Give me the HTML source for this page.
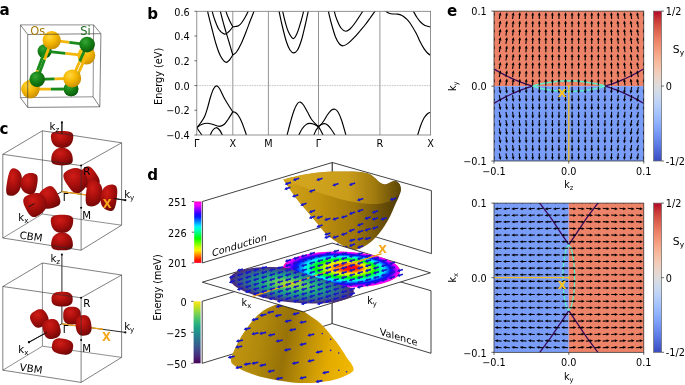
<!DOCTYPE html>
<html><head><meta charset="utf-8"><title>Figure</title>
<style>html,body{margin:0;padding:0;background:#fff;overflow:hidden}svg{display:block}</style>
</head><body>
<svg width="685" height="385" viewBox="0 0 685 385" font-family='"DejaVu Sans","Liberation Sans",sans-serif'>
<defs><radialGradient id="gOs" cx="0.38" cy="0.32" r="0.75"><stop offset="0" stop-color="#ffd640"/><stop offset="0.45" stop-color="#f6b905"/><stop offset="1" stop-color="#c48a00"/></radialGradient>
<radialGradient id="gSi" cx="0.38" cy="0.32" r="0.75"><stop offset="0" stop-color="#38a538"/><stop offset="0.45" stop-color="#168316"/><stop offset="1" stop-color="#095609"/></radialGradient>
<clipPath id="cb"><rect x="196.80" y="11.30" width="233.80" height="123.70"/></clipPath>
<radialGradient id="gR" cx="0.4" cy="0.3" r="0.8"><stop offset="0" stop-color="#cf1c17"/><stop offset="0.4" stop-color="#ae100d"/><stop offset="0.8" stop-color="#800908"/><stop offset="1" stop-color="#580605"/></radialGradient>
<linearGradient id="gr1" x1="0" y1="1" x2="0" y2="0"><stop offset="0.000" stop-color="#ff0029"/><stop offset="0.050" stop-color="#ff1800"/><stop offset="0.100" stop-color="#ff5e00"/><stop offset="0.150" stop-color="#ffa400"/><stop offset="0.200" stop-color="#ffea00"/><stop offset="0.250" stop-color="#cdff00"/><stop offset="0.300" stop-color="#8dff00"/><stop offset="0.350" stop-color="#46ff00"/><stop offset="0.400" stop-color="#00ff00"/><stop offset="0.450" stop-color="#00ff46"/><stop offset="0.500" stop-color="#00ff8c"/><stop offset="0.550" stop-color="#00ffcc"/><stop offset="0.600" stop-color="#00ecff"/><stop offset="0.650" stop-color="#00a5ff"/><stop offset="0.700" stop-color="#005eff"/><stop offset="0.750" stop-color="#0018ff"/><stop offset="0.800" stop-color="#2a00ff"/><stop offset="0.850" stop-color="#7000ff"/><stop offset="0.900" stop-color="#b700ff"/><stop offset="0.950" stop-color="#fe00ff"/><stop offset="1.000" stop-color="#ff00bf"/></linearGradient>
<linearGradient id="vi1" x1="0" y1="1" x2="0" y2="0"><stop offset="0.000" stop-color="#440154"/><stop offset="0.050" stop-color="#471365"/><stop offset="0.100" stop-color="#482475"/><stop offset="0.150" stop-color="#463480"/><stop offset="0.200" stop-color="#414487"/><stop offset="0.250" stop-color="#3b528b"/><stop offset="0.300" stop-color="#355f8d"/><stop offset="0.350" stop-color="#2f6c8e"/><stop offset="0.400" stop-color="#2a788e"/><stop offset="0.450" stop-color="#25848e"/><stop offset="0.500" stop-color="#21918c"/><stop offset="0.550" stop-color="#1e9c89"/><stop offset="0.600" stop-color="#22a884"/><stop offset="0.650" stop-color="#2fb47c"/><stop offset="0.700" stop-color="#44bf70"/><stop offset="0.750" stop-color="#5ec962"/><stop offset="0.800" stop-color="#7ad151"/><stop offset="0.850" stop-color="#9bd93c"/><stop offset="0.900" stop-color="#bddf26"/><stop offset="0.950" stop-color="#dfe318"/><stop offset="1.000" stop-color="#fde725"/></linearGradient>
<linearGradient id="gb1" gradientUnits="userSpaceOnUse" x1="283" y1="0" x2="401" y2="0"><stop offset="0" stop-color="#d2a218"/><stop offset="0.3" stop-color="#c0920e"/><stop offset="0.6" stop-color="#a0780a"/><stop offset="0.82" stop-color="#6e5208"/><stop offset="1" stop-color="#4a3805"/></linearGradient>
<linearGradient id="gb2" gradientUnits="userSpaceOnUse" x1="283" y1="0" x2="401" y2="0"><stop offset="0" stop-color="#d6a820"/><stop offset="0.55" stop-color="#c99c1a"/><stop offset="0.78" stop-color="#a07a0e"/><stop offset="1" stop-color="#5c4607"/></linearGradient>
<clipPath id="cbowl"><path d="M283.10,179.60 C285.07,182.45 291.67,192.30 294.90,196.70 C298.13,201.10 299.90,202.88 302.50,206.00 C305.10,209.12 307.83,212.23 310.50,215.40 C313.17,218.57 315.92,221.88 318.50,225.00 C321.08,228.12 323.42,231.55 326.00,234.10 C328.58,236.65 331.38,238.48 334.00,240.30 C336.62,242.12 339.20,243.62 341.70,245.00 C344.20,246.38 346.67,247.82 349.00,248.60 C351.33,249.38 353.12,250.10 355.70,249.70 C358.28,249.30 361.65,247.77 364.50,246.20 C367.35,244.63 370.30,242.50 372.80,240.30 C375.30,238.10 377.42,235.58 379.50,233.00 C381.58,230.42 383.47,227.72 385.30,224.80 C387.13,221.88 388.95,218.63 390.50,215.50 C392.05,212.37 393.27,209.00 394.60,206.00 C395.93,203.00 397.47,200.08 398.50,197.50 C399.53,194.92 400.58,192.67 400.80,190.50 C401.02,188.33 400.57,186.05 399.80,184.50 C399.03,182.95 397.50,181.70 396.20,181.20 C394.90,180.70 393.45,181.07 392.00,181.50 C390.55,181.93 388.88,183.33 387.50,183.80 C386.12,184.27 385.03,184.55 383.70,184.30 C382.37,184.05 380.95,183.35 379.50,182.30 C378.05,181.25 376.58,179.35 375.00,178.00 C373.42,176.65 371.92,175.13 370.00,174.20 C368.08,173.27 366.83,172.83 363.50,172.40 C360.17,171.97 355.20,171.73 350.00,171.60 C344.80,171.47 338.88,171.30 332.30,171.60 C325.72,171.90 316.55,172.62 310.50,173.40 C304.45,174.18 300.57,175.27 296.00,176.30 C291.43,177.33 285.25,179.05 283.10,179.60Z"/></clipPath>
<linearGradient id="gd1" gradientUnits="userSpaceOnUse" x1="231" y1="330" x2="354" y2="352"><stop offset="0" stop-color="#c39810"/><stop offset="0.25" stop-color="#b0880b"/><stop offset="0.45" stop-color="#977207"/><stop offset="0.6" stop-color="#b88c06"/><stop offset="0.8" stop-color="#e2aa00"/><stop offset="1" stop-color="#f0b800"/></linearGradient>
<radialGradient id="rgr" gradientUnits="userSpaceOnUse" cx="0" cy="0" r="1" fx="0.15" fy="-0.15"><stop offset="0.000" stop-color="#ff0029"/><stop offset="0.136" stop-color="#ff1800"/><stop offset="0.201" stop-color="#ff5e00"/><stop offset="0.258" stop-color="#ffa400"/><stop offset="0.312" stop-color="#ffea00"/><stop offset="0.363" stop-color="#cdff00"/><stop offset="0.413" stop-color="#8dff00"/><stop offset="0.460" stop-color="#46ff00"/><stop offset="0.506" stop-color="#00ff00"/><stop offset="0.552" stop-color="#00ff46"/><stop offset="0.596" stop-color="#00ff8c"/><stop offset="0.639" stop-color="#00ffcc"/><stop offset="0.681" stop-color="#00ecff"/><stop offset="0.723" stop-color="#00a5ff"/><stop offset="0.764" stop-color="#005eff"/><stop offset="0.805" stop-color="#0018ff"/><stop offset="0.845" stop-color="#2a00ff"/><stop offset="0.884" stop-color="#7000ff"/><stop offset="0.923" stop-color="#b700ff"/><stop offset="0.962" stop-color="#fe00ff"/><stop offset="1.000" stop-color="#ff00bf"/></radialGradient>
<radialGradient id="rvi" gradientUnits="userSpaceOnUse" cx="0" cy="0" r="1" fx="-0.04" fy="-0.08"><stop offset="0.000" stop-color="#bddf26"/><stop offset="0.158" stop-color="#86d549"/><stop offset="0.276" stop-color="#58c765"/><stop offset="0.382" stop-color="#32b67a"/><stop offset="0.480" stop-color="#20a386"/><stop offset="0.574" stop-color="#21918c"/><stop offset="0.665" stop-color="#287d8e"/><stop offset="0.752" stop-color="#306a8e"/><stop offset="0.837" stop-color="#3a548c"/><stop offset="0.919" stop-color="#433e85"/><stop offset="1.000" stop-color="#482475"/></radialGradient>
<clipPath id="cvir"><path d="M220,246.7 L380,297.3 L380,320 L220,320 Z"/></clipPath>
<linearGradient id="cw" x1="0" y1="1" x2="0" y2="0"><stop offset="0.000" stop-color="#3b4cc0"/><stop offset="0.050" stop-color="#4961d2"/><stop offset="0.100" stop-color="#5977e3"/><stop offset="0.150" stop-color="#6a8bef"/><stop offset="0.200" stop-color="#7b9ff9"/><stop offset="0.250" stop-color="#8db0fe"/><stop offset="0.300" stop-color="#9ebeff"/><stop offset="0.350" stop-color="#afcafc"/><stop offset="0.400" stop-color="#c0d4f5"/><stop offset="0.450" stop-color="#cfdaea"/><stop offset="0.500" stop-color="#dddcdc"/><stop offset="0.550" stop-color="#e9d5cb"/><stop offset="0.600" stop-color="#f2cbb7"/><stop offset="0.650" stop-color="#f6bda2"/><stop offset="0.700" stop-color="#f7ac8e"/><stop offset="0.750" stop-color="#f4987a"/><stop offset="0.800" stop-color="#ee8468"/><stop offset="0.850" stop-color="#e36c55"/><stop offset="0.900" stop-color="#d65244"/><stop offset="0.950" stop-color="#c53334"/><stop offset="1.000" stop-color="#b40426"/></linearGradient>
<clipPath id="ce1"><rect x="494.00" y="11.1" width="149.80" height="149.9"/></clipPath>
<clipPath id="ce2"><rect x="494.00" y="203.1" width="149.80" height="149.2"/></clipPath></defs>
<rect width="685" height="385" fill="#fff"/>
<text x="-0.60" y="15.40" font-size="15.10" text-anchor="start" font-weight="bold" fill="#000" >a</text>
<text x="147.20" y="18.90" font-size="15.10" text-anchor="start" font-weight="bold" fill="#000" >b</text>
<text x="-0.40" y="134.10" font-size="15.10" text-anchor="start" font-weight="bold" fill="#000" >c</text>
<text x="147.20" y="180.00" font-size="15.10" text-anchor="start" font-weight="bold" fill="#000" >d</text>
<text x="447.10" y="15.80" font-size="15.10" text-anchor="start" font-weight="bold" fill="#000" >e</text>
<path d="M20.40,24.90 L93.60,24.90 M93.60,24.90 L93.10,96.80 M93.10,96.80 L20.40,97.60 M20.40,97.60 L20.40,24.90" stroke="#444" stroke-width="0.6" fill="none"/>
<circle cx="44.60" cy="51.20" r="7.00" fill="url(#gSi)"/><circle cx="86.40" cy="55.60" r="8.90" fill="url(#gOs)"/><circle cx="71.10" cy="89.00" r="7.30" fill="url(#gSi)"/><circle cx="30.50" cy="89.10" r="9.10" fill="url(#gOs)"/><path d="M44.60,51.20 L65.50,53.40" stroke="#1a8a1a" stroke-width="2.8"/><path d="M65.50,53.40 L86.40,55.60" stroke="#f2b70a" stroke-width="2.8"/><path d="M44.60,51.20 L37.55,70.15" stroke="#1a8a1a" stroke-width="2.8"/><path d="M37.55,70.15 L30.50,89.10" stroke="#f2b70a" stroke-width="2.8"/><path d="M86.40,55.60 L78.75,72.30" stroke="#f2b70a" stroke-width="2.8"/><path d="M78.75,72.30 L71.10,89.00" stroke="#1a8a1a" stroke-width="2.8"/><path d="M30.50,89.10 L50.80,89.05" stroke="#f2b70a" stroke-width="2.8"/><path d="M50.80,89.05 L71.10,89.00" stroke="#1a8a1a" stroke-width="2.8"/><circle cx="30.50" cy="89.10" r="9.10" fill="url(#gOs)"/><circle cx="71.10" cy="89.00" r="7.30" fill="url(#gSi)"/><path d="M51.70,40.20 L69.40,42.40" stroke="#f2b70a" stroke-width="2.8"/><path d="M69.40,42.40 L87.10,44.60" stroke="#1a8a1a" stroke-width="2.8"/><path d="M51.70,40.20 L44.45,59.75" stroke="#f2b70a" stroke-width="2.8"/><path d="M44.45,59.75 L37.20,79.30" stroke="#1a8a1a" stroke-width="2.8"/><path d="M87.10,44.60 L79.65,61.50" stroke="#1a8a1a" stroke-width="2.8"/><path d="M79.65,61.50 L72.20,78.40" stroke="#f2b70a" stroke-width="2.8"/><path d="M37.20,79.30 L54.70,78.85" stroke="#1a8a1a" stroke-width="2.8"/><path d="M54.70,78.85 L72.20,78.40" stroke="#f2b70a" stroke-width="2.8"/><circle cx="51.70" cy="40.20" r="9.10" fill="url(#gOs)"/><circle cx="87.10" cy="44.60" r="7.80" fill="url(#gSi)"/><circle cx="37.20" cy="79.30" r="7.80" fill="url(#gSi)"/><circle cx="72.20" cy="78.40" r="9.00" fill="url(#gOs)"/>
<path d="M27.70,34.50 L100.90,33.70 M100.90,33.70 L99.80,106.80 M99.80,106.80 L27.70,107.40 M27.70,107.40 L27.70,34.50 M20.40,24.90 L27.70,34.50 M93.60,24.90 L100.90,33.70 M93.10,96.80 L99.80,106.80 M20.40,97.60 L27.70,107.40" stroke="#2c2c2c" stroke-width="0.6" fill="none"/>
<text x="30.20" y="34.90" font-size="11.40" text-anchor="start" font-weight="normal" fill="#a67c0a" >Os</text>
<text x="80.20" y="34.50" font-size="11.40" text-anchor="start" font-weight="normal" fill="#1e6b1e" >Si</text>
<path d="M232.80,11.30 V135.00 M268.40,11.30 V135.00 M318.50,11.30 V135.00 M379.90,11.30 V135.00" stroke="#707070" stroke-width="0.75" fill="none"/>
<path d="M196.80,85.60 H430.60" stroke="#b5b5b5" stroke-width="0.8" stroke-dasharray="1.6 0.9" fill="none"/>
<g clip-path="url(#cb)" fill="none" stroke="#000" stroke-width="1.15" stroke-linejoin="round"><path d="M205.60,0.00 C205.93,1.88 206.62,6.80 207.60,11.30 C208.58,15.80 210.10,21.55 211.50,27.00 C212.90,32.45 214.50,39.17 216.00,44.00 C217.50,48.83 218.87,52.95 220.50,56.00 C222.13,59.05 224.30,61.63 225.80,62.30 C227.30,62.97 228.33,61.22 229.50,60.00 C230.67,58.78 232.25,55.83 232.80,55.00"/><path d="M210.50,0.00 C210.78,1.88 211.42,7.80 212.20,11.30 C212.98,14.80 214.07,17.97 215.20,21.00 C216.33,24.03 217.45,27.32 219.00,29.50 C220.55,31.68 222.83,33.77 224.50,34.10 C226.17,34.43 227.62,32.72 229.00,31.50 C230.38,30.28 232.17,27.58 232.80,26.80"/><path d="M218.40,0.00 C218.73,1.88 219.38,6.80 220.40,11.30 C221.42,15.80 223.12,22.05 224.50,27.00 C225.88,31.95 227.32,36.33 228.70,41.00 C230.08,45.67 232.12,52.67 232.80,55.00"/><path d="M224.00,0.00 C224.33,1.88 225.12,7.97 226.00,11.30 C226.88,14.63 228.17,17.42 229.30,20.00 C230.43,22.58 232.22,25.67 232.80,26.80"/><path d="M232.80,55.00 C233.42,54.50 235.13,53.83 236.50,52.00 C237.87,50.17 239.42,47.33 241.00,44.00 C242.58,40.67 244.42,36.00 246.00,32.00 C247.58,28.00 249.17,23.45 250.50,20.00 C251.83,16.55 252.92,14.30 254.00,11.30 C255.08,8.30 256.50,3.55 257.00,2.00"/><path d="M232.80,26.80 C233.25,26.75 234.55,26.67 235.50,26.50 C236.45,26.33 237.50,26.38 238.50,25.80 C239.50,25.22 240.42,24.38 241.50,23.00 C242.58,21.62 243.88,19.45 245.00,17.50 C246.12,15.55 247.03,13.88 248.20,11.30 C249.37,8.72 251.37,3.55 252.00,2.00"/><path d="M277.50,2.00 C277.77,3.55 278.27,7.13 279.10,11.30 C279.93,15.47 281.27,21.88 282.50,27.00 C283.73,32.12 285.25,38.17 286.50,42.00 C287.75,45.83 288.82,48.20 290.00,50.00 C291.18,51.80 292.35,52.80 293.60,52.80 C294.85,52.80 296.18,52.13 297.50,50.00 C298.82,47.87 300.25,44.00 301.50,40.00 C302.75,36.00 303.88,30.78 305.00,26.00 C306.12,21.22 307.37,15.30 308.20,11.30 C309.03,7.30 309.70,3.55 310.00,2.00"/><path d="M281.00,2.00 C281.28,3.55 281.95,7.80 282.70,11.30 C283.45,14.80 284.53,19.55 285.50,23.00 C286.47,26.45 287.23,29.40 288.50,32.00 C289.77,34.60 291.68,38.35 293.10,38.60 C294.52,38.85 295.77,36.10 297.00,33.50 C298.23,30.90 299.40,26.70 300.50,23.00 C301.60,19.30 302.77,14.63 303.60,11.30 C304.43,7.97 305.18,4.38 305.50,3.00"/><path d="M326.50,2.00 C326.82,3.55 327.57,7.63 328.40,11.30 C329.23,14.97 330.32,19.72 331.50,24.00 C332.68,28.28 334.17,33.67 335.50,37.00 C336.83,40.33 338.22,42.53 339.50,44.00 C340.78,45.47 341.78,45.90 343.20,45.80 C344.62,45.70 346.18,44.75 348.00,43.40 C349.82,42.05 352.10,39.77 354.10,37.70 C356.10,35.63 358.12,33.20 360.00,31.00 C361.88,28.80 363.65,26.75 365.40,24.50 C367.15,22.25 368.92,19.70 370.50,17.50 C372.08,15.30 373.65,13.05 374.90,11.30 C376.15,9.55 377.48,7.72 378.00,7.00"/><path d="M332.80,2.00 C333.05,3.55 333.60,8.30 334.30,11.30 C335.00,14.30 335.88,17.22 337.00,20.00 C338.12,22.78 339.55,26.13 341.00,28.00 C342.45,29.87 344.20,31.03 345.70,31.20 C347.20,31.37 348.45,30.37 350.00,29.00 C351.55,27.63 352.87,25.95 355.00,23.00 C357.13,20.05 360.97,14.13 362.80,11.30 C364.63,8.47 365.47,6.88 366.00,6.00"/><path d="M383.00,8.50 C383.48,8.97 384.90,10.52 385.90,11.30 C386.90,12.08 387.82,12.75 389.00,13.20 C390.18,13.65 391.58,13.85 393.00,14.00 C394.42,14.15 396.00,13.85 397.50,14.10 C399.00,14.35 400.58,14.77 402.00,15.50 C403.42,16.23 404.67,17.25 406.00,18.50 C407.33,19.75 408.28,20.50 410.00,23.00 C411.72,25.50 414.63,30.42 416.30,33.50 C417.97,36.58 418.72,38.98 420.00,41.50 C421.28,44.02 422.75,46.68 424.00,48.60 C425.25,50.52 426.40,51.88 427.50,53.00 C428.60,54.12 430.08,54.92 430.60,55.30"/><path d="M410.00,5.00 C410.57,6.05 412.23,9.22 413.40,11.30 C414.57,13.38 415.73,15.63 417.00,17.50 C418.27,19.37 419.67,21.17 421.00,22.50 C422.33,23.83 423.40,24.75 425.00,25.50 C426.60,26.25 429.67,26.75 430.60,27.00"/><path d="M196.80,127.70 C197.42,126.92 199.22,124.82 200.50,123.00 C201.78,121.18 203.33,119.30 204.50,116.80 C205.67,114.30 206.50,111.30 207.50,108.00 C208.50,104.70 209.50,100.17 210.50,97.00 C211.50,93.83 212.52,90.85 213.50,89.00 C214.48,87.15 215.40,85.98 216.40,85.90 C217.40,85.82 218.15,86.38 219.50,88.50 C220.85,90.62 222.92,95.68 224.50,98.60 C226.08,101.52 227.62,103.78 229.00,106.00 C230.38,108.22 232.17,110.92 232.80,111.90"/><path d="M196.80,127.70 C197.58,127.17 199.75,125.25 201.50,124.50 C203.25,123.75 205.38,123.20 207.30,123.20 C209.22,123.20 211.03,123.98 213.00,124.50 C214.97,125.02 217.27,126.30 219.10,126.30 C220.93,126.30 222.52,125.63 224.00,124.50 C225.48,123.37 226.53,121.60 228.00,119.50 C229.47,117.40 232.00,113.17 232.80,111.90"/><path d="M196.80,127.70 C197.17,128.25 198.17,129.78 199.00,131.00 C199.83,132.22 201.13,133.83 201.80,135.00 C202.47,136.17 202.80,137.50 203.00,138.00"/><path d="M209.30,137.00 C209.47,136.67 209.77,136.08 210.30,135.00 C210.83,133.92 211.55,131.72 212.50,130.50 C213.45,129.28 214.83,127.78 216.00,127.70 C217.17,127.62 218.43,128.78 219.50,130.00 C220.57,131.22 221.78,133.83 222.40,135.00 C223.02,136.17 223.07,136.67 223.20,137.00"/><path d="M232.80,111.90 C233.17,111.97 234.13,111.78 235.00,112.30 C235.87,112.82 236.92,113.47 238.00,115.00 C239.08,116.53 240.42,119.08 241.50,121.50 C242.58,123.92 243.68,127.25 244.50,129.50 C245.32,131.75 245.90,133.42 246.40,135.00 C246.90,136.58 247.32,138.33 247.50,139.00"/><path d="M286.30,138.00 C286.43,137.50 286.40,137.67 287.10,135.00 C287.80,132.33 289.35,126.08 290.50,122.00 C291.65,117.92 292.83,113.58 294.00,110.50 C295.17,107.42 296.47,104.90 297.50,103.50 C298.53,102.10 299.20,101.85 300.20,102.10 C301.20,102.35 302.28,103.35 303.50,105.00 C304.72,106.65 306.08,109.50 307.50,112.00 C308.92,114.50 310.17,117.53 312.00,120.00 C313.83,122.47 317.42,125.67 318.50,126.80"/><path d="M297.80,138.00 C297.98,137.50 298.20,136.50 298.90,135.00 C299.60,133.50 300.82,130.73 302.00,129.00 C303.18,127.27 304.68,125.53 306.00,124.60 C307.32,123.67 308.57,123.45 309.90,123.40 C311.23,123.35 312.57,123.73 314.00,124.30 C315.43,124.87 317.75,126.38 318.50,126.80"/><path d="M312.80,138.00 C312.98,137.50 313.37,136.28 313.90,135.00 C314.43,133.72 315.23,131.67 316.00,130.30 C316.77,128.93 318.08,127.38 318.50,126.80"/><path d="M318.50,126.80 C319.25,126.00 321.58,123.88 323.00,122.00 C324.42,120.12 325.67,117.42 327.00,115.50 C328.33,113.58 329.68,111.55 331.00,110.50 C332.32,109.45 333.73,108.95 334.90,109.20 C336.07,109.45 336.90,110.20 338.00,112.00 C339.10,113.80 340.18,116.17 341.50,120.00 C342.82,123.83 345.02,131.83 345.90,135.00 C346.78,138.17 346.65,138.33 346.80,139.00"/><path d="M318.50,126.80 C319.00,126.42 320.52,125.03 321.50,124.50 C322.48,123.97 323.40,123.52 324.40,123.60 C325.40,123.68 326.40,124.10 327.50,125.00 C328.60,125.90 329.77,127.33 331.00,129.00 C332.23,130.67 333.98,133.50 334.90,135.00 C335.82,136.50 336.23,137.50 336.50,138.00"/><path d="M318.50,126.80 C318.83,127.33 319.75,128.63 320.50,130.00 C321.25,131.37 322.38,133.67 323.00,135.00 C323.62,136.33 324.00,137.50 324.20,138.00"/><path d="M416.80,138.00 C416.95,137.50 417.08,137.00 417.70,135.00 C418.32,133.00 419.45,128.83 420.50,126.00 C421.55,123.17 422.83,120.05 424.00,118.00 C425.17,115.95 426.40,114.65 427.50,113.70 C428.60,112.75 430.08,112.53 430.60,112.30"/></g>
<rect x="196.80" y="11.30" width="233.80" height="123.70" fill="none" stroke="#777" stroke-width="0.8"/>
<text x="189.70" y="15.50" font-size="9.70" text-anchor="end" font-weight="normal" fill="#000" >0.6</text>
<text x="189.70" y="40.24" font-size="9.70" text-anchor="end" font-weight="normal" fill="#000" >0.4</text>
<text x="189.70" y="64.98" font-size="9.70" text-anchor="end" font-weight="normal" fill="#000" >0.2</text>
<text x="189.70" y="89.72" font-size="9.70" text-anchor="end" font-weight="normal" fill="#000" >0.0</text>
<text x="189.70" y="114.46" font-size="9.70" text-anchor="end" font-weight="normal" fill="#000" >−0.2</text>
<text x="189.70" y="139.20" font-size="9.70" text-anchor="end" font-weight="normal" fill="#000" >−0.4</text>
<path d="M196.80,11.30 h-2.4 M196.80,36.04 h-2.4 M196.80,60.78 h-2.4 M196.80,85.52 h-2.4 M196.80,110.26 h-2.4 M196.80,135.00 h-2.4" stroke="#333" stroke-width="0.7" fill="none"/>
<text x="196.80" y="147.00" font-size="9.70" text-anchor="middle" font-weight="normal" fill="#000" >Γ</text>
<text x="232.80" y="147.00" font-size="9.70" text-anchor="middle" font-weight="normal" fill="#000" >X</text>
<text x="268.40" y="147.00" font-size="9.70" text-anchor="middle" font-weight="normal" fill="#000" >M</text>
<text x="318.50" y="147.00" font-size="9.70" text-anchor="middle" font-weight="normal" fill="#000" >Γ</text>
<text x="379.90" y="147.00" font-size="9.70" text-anchor="middle" font-weight="normal" fill="#000" >R</text>
<text x="430.60" y="147.00" font-size="9.70" text-anchor="middle" font-weight="normal" fill="#000" >X</text>
<text x="161.60" y="76.35" font-size="9.70" text-anchor="middle" font-weight="normal" fill="#000" transform="rotate(-90 161.6 76.4)">Energy (eV)</text>
<path d="M42.40,130.80 L42.40,214.00 M42.40,214.00 L2.80,238.00 M42.40,214.00 L121.60,225.20" stroke="#444" stroke-width="0.6" fill="none"/><path d="M61.90,191.60 L61.90,122.40 M61.90,191.60 L125.30,200.20 M61.90,191.60 L29.00,210.00" stroke="#111" stroke-width="0.9" fill="none"/><circle cx="61.9" cy="122.40" r="1.1" fill="#111"/><circle cx="125.3" cy="200.20" r="1.1" fill="#111"/><circle cx="29" cy="210.00" r="1.1" fill="#111"/>
<path d="M97.64,185.31 C91.97,189.13 85.47,189.80 81.04,183.23 C76.61,176.67 79.66,170.89 85.33,167.07 C89.21,164.45 92.27,167.70 95.96,173.17 C99.65,178.64 101.52,182.69 97.64,185.31Z" fill="url(#gR)"/><path d="M65.89,171.38 C72.50,166.92 80.07,166.12 85.20,173.73 C90.34,181.34 86.76,188.06 80.15,192.52 C75.62,195.57 72.07,191.81 67.80,185.47 C63.52,179.13 61.36,174.43 65.89,171.38Z" fill="url(#gR)"/><path d="M73.30,136.14 C73.30,142.52 70.16,147.90 62.10,147.90 C54.04,147.90 50.90,142.52 50.90,136.14 C50.90,131.77 55.38,131.10 62.10,131.10 C68.82,131.10 73.30,131.77 73.30,136.14Z" fill="url(#gR)"/><path d="M51.20,160.12 C51.20,153.43 54.22,147.80 62.00,147.80 C69.78,147.80 72.80,153.43 72.80,160.12 C72.80,164.70 68.48,165.40 62.00,165.40 C55.52,165.40 51.20,164.70 51.20,160.12Z" fill="url(#gR)"/><path d="M73.20,220.16 C73.20,227.08 70.06,232.90 62.00,232.90 C53.94,232.90 50.80,227.08 50.80,220.16 C50.80,215.43 55.28,214.70 62.00,214.70 C68.72,214.70 73.20,215.43 73.20,220.16Z" fill="url(#gR)"/><path d="M51.10,244.96 C51.10,238.20 54.15,232.50 62.00,232.50 C69.85,232.50 72.90,238.20 72.90,244.96 C72.90,249.59 68.54,250.30 62.00,250.30 C55.46,250.30 51.10,249.59 51.10,244.96Z" fill="url(#gR)"/><path d="M13.94,168.20 C19.40,169.17 23.33,173.81 21.59,183.67 C19.85,193.52 14.57,196.55 9.11,195.58 C5.37,194.92 5.76,189.35 7.21,181.13 C8.66,172.92 10.20,167.54 13.94,168.20Z" fill="url(#gR)"/><path d="M30.36,194.56 C24.23,193.47 19.58,189.60 20.92,181.98 C22.27,174.35 27.96,172.30 34.10,173.38 C38.30,174.12 38.20,178.47 37.08,184.82 C35.96,191.18 34.56,195.30 30.36,194.56Z" fill="url(#gR)"/>
<path d="M61.90,191.60 L108.50,197.90" stroke="#f0a21a" stroke-width="1.2"/>
<path d="M92.66,180.05 C98.84,180.81 103.60,185.13 102.44,194.60 C101.28,204.07 95.62,207.11 89.43,206.35 C85.20,205.83 85.19,200.49 86.16,192.60 C87.13,184.71 88.43,179.53 92.66,180.05Z" fill="url(#gR)"/><path d="M110.31,210.90 C104.20,210.15 99.50,205.85 100.66,196.41 C101.82,186.98 107.41,183.94 113.52,184.69 C117.71,185.21 117.70,190.53 116.74,198.39 C115.77,206.25 114.49,211.41 110.31,210.90Z" fill="url(#gR)"/><path d="M57.14,206.29 C50.03,209.92 42.64,210.22 39.04,203.17 C35.45,196.11 40.04,190.32 47.15,186.69 C52.01,184.21 54.76,187.75 57.76,193.63 C60.75,199.51 62.00,203.82 57.14,206.29Z" fill="url(#gR)"/><path d="M26.66,195.75 C34.11,191.96 41.84,191.63 45.60,199.01 C49.36,206.38 44.55,212.45 37.10,216.24 C32.00,218.84 29.13,215.14 26.00,208.99 C22.87,202.85 21.56,198.35 26.66,195.75Z" fill="url(#gR)"/>
<path d="M34.5,203.6 L28.6,206.8 M61.9,122.4 V134.2 M113.7,198.4 L125.3,200.2" stroke="#111" stroke-width="0.9"/>
<path d="M42.40,130.80 L121.60,142.80 M121.60,142.80 L81.10,165.60 M81.10,165.60 L2.80,154.30 M2.80,154.30 L42.40,130.80 M2.80,154.30 L2.80,238.00 M81.10,165.60 L81.10,250.20 M121.60,142.80 L121.60,225.20 M2.80,238.00 L81.10,250.20 M81.10,250.20 L121.60,225.20" stroke="#2c2c2c" stroke-width="0.6" fill="none"/>
<circle cx="81.1" cy="165.6" r="1" fill="#000"/><circle cx="81.1" cy="207.8" r="1" fill="#000"/>
<text x="49.60" y="129.60" font-size="10.20" text-anchor="start" font-weight="normal" fill="#000" >k<tspan dy="2.0" font-size="70%">z</tspan></text>
<text x="124.20" y="198.00" font-size="10.20" text-anchor="start" font-weight="normal" fill="#000" >k<tspan dy="2.0" font-size="70%">y</tspan></text>
<text x="18.30" y="220.60" font-size="10.20" text-anchor="start" font-weight="normal" fill="#000" >k<tspan dy="2.0" font-size="70%">x</tspan></text>
<text x="83.20" y="175.00" font-size="10.20" text-anchor="start" font-weight="normal" fill="#000" >R</text>
<text x="82.20" y="219.40" font-size="10.20" text-anchor="start" font-weight="normal" fill="#000" >M</text>
<text x="62.80" y="200.60" font-size="10.20" text-anchor="start" font-weight="normal" fill="#000" >Γ</text>
<text x="107.20" y="207.80" font-size="11.50" text-anchor="middle" font-weight="bold" fill="#f5a81c" >X</text>
<text x="30.60" y="240.00" font-size="10.20" text-anchor="middle" font-weight="normal" fill="#000" transform="rotate(8 30.6 240)">CBM</text>
<path d="M42.40,263.00 L42.40,346.20 M42.40,346.20 L2.80,370.20 M42.40,346.20 L121.60,357.40" stroke="#444" stroke-width="0.6" fill="none"/><path d="M61.90,323.80 L61.90,254.60 M61.90,323.80 L125.30,332.40 M61.90,323.80 L29.00,342.20" stroke="#111" stroke-width="0.9" fill="none"/><circle cx="61.9" cy="254.60" r="1.1" fill="#111"/><circle cx="125.3" cy="332.40" r="1.1" fill="#111"/><circle cx="29" cy="342.20" r="1.1" fill="#111"/>
<polygon points="72.70,299.10 72.63,300.74 72.43,301.82 72.10,302.73 71.63,303.53 71.03,304.22 70.30,304.82 69.44,305.33 68.44,305.75 67.30,306.08 65.99,306.31 64.45,306.45 62.10,306.50 59.75,306.45 58.21,306.31 56.90,306.08 55.76,305.75 54.76,305.33 53.90,304.82 53.17,304.22 52.57,303.53 52.10,302.73 51.77,301.82 51.57,300.74 51.50,299.10 51.57,297.46 51.77,296.38 52.10,295.47 52.57,294.67 53.17,293.98 53.90,293.38 54.76,292.87 55.76,292.45 56.90,292.12 58.21,291.89 59.75,291.75 62.10,291.70 64.45,291.75 65.99,291.89 67.30,292.12 68.44,292.45 69.44,292.87 70.30,293.38 71.03,293.98 71.63,294.67 72.10,295.47 72.43,296.38 72.63,297.46" fill="url(#gR)"/><polygon points="80.80,315.60 80.74,317.55 80.58,318.83 80.30,319.92 79.91,320.87 79.41,321.69 78.81,322.41 78.09,323.01 77.27,323.51 76.32,323.90 75.23,324.18 73.95,324.34 72.00,324.40 70.05,324.34 68.77,324.18 67.68,323.90 66.73,323.51 65.91,323.01 65.19,322.41 64.59,321.69 64.09,320.87 63.70,319.92 63.42,318.83 63.26,317.55 63.20,315.60 63.26,313.65 63.42,312.37 63.70,311.28 64.09,310.33 64.59,309.51 65.19,308.79 65.91,308.19 66.73,307.69 67.68,307.30 68.77,307.02 70.05,306.86 72.00,306.80 73.95,306.86 75.23,307.02 76.32,307.30 77.27,307.69 78.09,308.19 78.81,308.79 79.41,309.51 79.91,310.33 80.30,311.28 80.58,312.37 80.74,313.65" fill="url(#gR)"/><polygon points="46.75,314.10 47.65,315.78 48.14,316.95 48.43,318.00 48.57,318.99 48.55,319.93 48.39,320.84 48.08,321.70 47.62,322.52 47.01,323.31 46.23,324.08 45.22,324.85 43.60,325.85 41.92,326.75 40.75,327.24 39.70,327.53 38.71,327.67 37.77,327.65 36.86,327.49 36.00,327.18 35.18,326.72 34.39,326.11 33.62,325.33 32.85,324.32 31.85,322.70 30.95,321.02 30.46,319.85 30.17,318.80 30.03,317.81 30.05,316.87 30.21,315.96 30.52,315.10 30.98,314.28 31.59,313.49 32.37,312.72 33.38,311.95 35.00,310.95 36.68,310.05 37.85,309.56 38.90,309.27 39.89,309.13 40.83,309.15 41.74,309.31 42.60,309.62 43.42,310.08 44.21,310.69 44.98,311.47 45.75,312.48" fill="url(#gR)"/><polygon points="72.94,348.34 72.57,350.03 72.18,351.12 71.68,352.01 71.07,352.75 70.36,353.37 69.53,353.87 68.59,354.25 67.53,354.51 66.35,354.65 65.02,354.66 63.46,354.54 61.15,354.18 58.84,353.73 57.34,353.31 56.10,352.84 55.04,352.30 54.13,351.70 53.38,351.02 52.77,350.27 52.31,349.44 51.99,348.54 51.83,347.53 51.83,346.37 52.06,344.66 52.43,342.97 52.82,341.88 53.32,340.99 53.93,340.25 54.64,339.63 55.47,339.13 56.41,338.75 57.47,338.49 58.65,338.35 59.98,338.34 61.54,338.46 63.85,338.82 66.16,339.27 67.66,339.69 68.90,340.16 69.96,340.70 70.87,341.30 71.62,341.98 72.23,342.73 72.69,343.56 73.01,344.46 73.17,345.47 73.17,346.63" fill="url(#gR)"/>
<path d="M61.90,323.80 L101.80,329.20" stroke="#f0a21a" stroke-width="1.2"/><circle cx="101.8" cy="329.2" r="1.1" fill="#f0a21a"/>
<polygon points="91.22,324.31 91.49,326.56 91.55,328.05 91.48,329.33 91.29,330.47 90.99,331.48 90.57,332.37 90.04,333.16 89.40,333.83 88.63,334.39 87.72,334.85 86.62,335.20 84.92,335.50 83.20,335.68 82.05,335.64 81.05,335.46 80.15,335.13 79.35,334.66 78.62,334.05 77.98,333.31 77.41,332.42 76.91,331.38 76.49,330.17 76.14,328.71 75.78,326.49 75.51,324.24 75.45,322.75 75.52,321.47 75.71,320.33 76.01,319.32 76.43,318.43 76.96,317.64 77.60,316.97 78.37,316.41 79.28,315.95 80.38,315.60 82.08,315.30 83.80,315.12 84.95,315.16 85.95,315.34 86.85,315.67 87.65,316.14 88.38,316.75 89.02,317.49 89.59,318.38 90.09,319.42 90.51,320.63 90.86,322.09" fill="url(#gR)"/><polygon points="59.91,326.77 60.42,328.88 60.63,330.31 60.68,331.55 60.59,332.66 60.35,333.68 59.99,334.60 59.49,335.43 58.85,336.18 58.07,336.83 57.12,337.41 55.96,337.91 54.14,338.47 52.28,338.90 51.02,339.04 49.91,339.02 48.91,338.84 47.99,338.52 47.14,338.04 46.36,337.43 45.65,336.67 45.01,335.75 44.44,334.65 43.91,333.31 43.29,331.23 42.78,329.12 42.57,327.69 42.52,326.45 42.61,325.34 42.85,324.32 43.21,323.40 43.71,322.57 44.35,321.82 45.13,321.17 46.08,320.59 47.24,320.09 49.06,319.53 50.92,319.10 52.18,318.96 53.29,318.98 54.29,319.16 55.21,319.48 56.06,319.96 56.84,320.57 57.55,321.33 58.19,322.25 58.76,323.35 59.29,324.69" fill="url(#gR)"/>
<path d="M47,332.4 L29,342.2" stroke="#111" stroke-width="0.9"/><circle cx="29" cy="342.2" r="1.1" fill="#111"/>
<path d="M42.40,263.00 L121.60,275.00 M121.60,275.00 L81.10,297.80 M81.10,297.80 L2.80,286.50 M2.80,286.50 L42.40,263.00 M2.80,286.50 L2.80,370.20 M81.10,297.80 L81.10,382.40 M121.60,275.00 L121.60,357.40 M2.80,370.20 L81.10,382.40 M81.10,382.40 L121.60,357.40" stroke="#2c2c2c" stroke-width="0.6" fill="none"/>
<circle cx="81.1" cy="297.80" r="1" fill="#000"/><circle cx="81.1" cy="340.00" r="1" fill="#000"/>
<text x="50.40" y="261.80" font-size="10.20" text-anchor="start" font-weight="normal" fill="#000" >k<tspan dy="2.0" font-size="70%">z</tspan></text>
<text x="124.20" y="330.20" font-size="10.20" text-anchor="start" font-weight="normal" fill="#000" >k<tspan dy="2.0" font-size="70%">y</tspan></text>
<text x="18.30" y="352.80" font-size="10.20" text-anchor="start" font-weight="normal" fill="#000" >k<tspan dy="2.0" font-size="70%">x</tspan></text>
<text x="83.20" y="307.20" font-size="10.20" text-anchor="start" font-weight="normal" fill="#000" >R</text>
<text x="82.20" y="351.60" font-size="10.20" text-anchor="start" font-weight="normal" fill="#000" >M</text>
<text x="62.80" y="332.80" font-size="10.20" text-anchor="start" font-weight="normal" fill="#000" >Γ</text>
<text x="106.50" y="341.20" font-size="11.50" text-anchor="middle" font-weight="bold" fill="#f5a81c" >X</text>
<text x="30.60" y="372.20" font-size="10.20" text-anchor="middle" font-weight="normal" fill="#000" transform="rotate(8 30.6 372.2)">VBM</text>
<path d="M202.4,201.5 L332.3,162.5 L332.3,223.9 L202.4,262.9 Z" fill="#fff" stroke="#111" stroke-width="0.8" stroke-linejoin="round"/>
<path d="M332.3,162.5 L431.4,190.6 L431.4,253.6 L332.3,223.9 Z" fill="#fff" stroke="#111" stroke-width="0.8" stroke-linejoin="round"/>
<rect x="194.2" y="201.5" width="7.2" height="61.4" fill="url(#gr1)"/>
<path d="M194.2,201.50 h-2.4" stroke="#222" stroke-width="0.7"/>
<text x="186.60" y="205.90" font-size="9.70" text-anchor="end" font-weight="normal" fill="#000" >251</text>
<path d="M194.2,232.20 h-2.4" stroke="#222" stroke-width="0.7"/>
<text x="186.60" y="236.60" font-size="9.70" text-anchor="end" font-weight="normal" fill="#000" >226</text>
<path d="M194.2,262.90 h-2.4" stroke="#222" stroke-width="0.7"/>
<text x="186.60" y="267.30" font-size="9.70" text-anchor="end" font-weight="normal" fill="#000" >201</text>
<text font-size="9.7" text-anchor="middle" transform="translate(239.4 248.4) skewY(-16.7)">Conduction</text>
<path d="M283.10,179.60 C285.07,182.45 291.67,192.30 294.90,196.70 C298.13,201.10 299.90,202.88 302.50,206.00 C305.10,209.12 307.83,212.23 310.50,215.40 C313.17,218.57 315.92,221.88 318.50,225.00 C321.08,228.12 323.42,231.55 326.00,234.10 C328.58,236.65 331.38,238.48 334.00,240.30 C336.62,242.12 339.20,243.62 341.70,245.00 C344.20,246.38 346.67,247.82 349.00,248.60 C351.33,249.38 353.12,250.10 355.70,249.70 C358.28,249.30 361.65,247.77 364.50,246.20 C367.35,244.63 370.30,242.50 372.80,240.30 C375.30,238.10 377.42,235.58 379.50,233.00 C381.58,230.42 383.47,227.72 385.30,224.80 C387.13,221.88 388.95,218.63 390.50,215.50 C392.05,212.37 393.27,209.00 394.60,206.00 C395.93,203.00 397.47,200.08 398.50,197.50 C399.53,194.92 400.58,192.67 400.80,190.50 C401.02,188.33 400.57,186.05 399.80,184.50 C399.03,182.95 397.50,181.70 396.20,181.20 C394.90,180.70 393.45,181.07 392.00,181.50 C390.55,181.93 388.88,183.33 387.50,183.80 C386.12,184.27 385.03,184.55 383.70,184.30 C382.37,184.05 380.95,183.35 379.50,182.30 C378.05,181.25 376.58,179.35 375.00,178.00 C373.42,176.65 371.92,175.13 370.00,174.20 C368.08,173.27 366.83,172.83 363.50,172.40 C360.17,171.97 355.20,171.73 350.00,171.60 C344.80,171.47 338.88,171.30 332.30,171.60 C325.72,171.90 316.55,172.62 310.50,173.40 C304.45,174.18 300.57,175.27 296.00,176.30 C291.43,177.33 285.25,179.05 283.10,179.60Z" fill="url(#gb1)"/>
<path d="M283.10,179.60 C285.25,179.05 291.43,177.33 296.00,176.30 C300.57,175.27 304.45,174.18 310.50,173.40 C316.55,172.62 325.72,171.90 332.30,171.60 C338.88,171.30 344.80,171.47 350.00,171.60 C355.20,171.73 360.17,171.97 363.50,172.40 C366.83,172.83 368.08,173.27 370.00,174.20 C371.92,175.13 373.42,176.65 375.00,178.00 C376.58,179.35 378.05,181.25 379.50,182.30 C380.95,183.35 382.37,184.05 383.70,184.30 C385.03,184.55 386.12,184.27 387.50,183.80 C388.88,183.33 390.55,181.93 392.00,181.50 C393.45,181.07 394.90,180.70 396.20,181.20 C397.50,181.70 399.03,182.95 399.80,184.50 C400.57,186.05 401.18,188.67 400.80,190.50 C400.42,192.33 399.13,193.82 397.50,195.50 C395.87,197.18 393.58,199.28 391.00,200.60 C388.42,201.92 385.50,202.83 382.00,203.40 C378.50,203.97 374.50,204.18 370.00,204.00 C365.50,203.82 360.00,203.13 355.00,202.30 C350.00,201.47 345.00,200.28 340.00,199.00 C335.00,197.72 330.00,196.18 325.00,194.60 C320.00,193.02 314.83,191.22 310.00,189.50 C305.17,187.78 300.48,185.95 296.00,184.30 C291.52,182.65 285.25,180.38 283.10,179.60Z" fill="url(#gb2)" clip-path="url(#cbowl)"/>
<path d="M299.36,178.93 L295.76,180.17 L296.31,181.14 L292.86,180.32 L295.08,177.55 L295.24,178.66 L298.84,177.42ZM322.80,178.93 L319.21,180.17 L319.76,181.14 L316.30,180.32 L318.52,177.55 L318.69,178.66 L322.28,177.42ZM338.84,184.36 L335.25,185.60 L335.80,186.57 L332.34,185.75 L334.56,182.98 L334.73,184.09 L338.32,182.85ZM355.38,183.87 L351.79,185.10 L352.33,186.08 L348.88,185.26 L351.10,182.49 L351.27,183.59 L354.86,182.35ZM315.40,190.53 L311.81,191.77 L312.35,192.74 L308.90,191.92 L311.12,189.15 L311.29,190.26 L314.88,189.02ZM363.52,199.17 L359.93,200.41 L360.48,201.38 L357.02,200.56 L359.24,197.79 L359.41,198.89 L363.00,197.66ZM396.35,198.68 L392.75,199.91 L393.30,200.89 L389.85,200.07 L392.06,197.29 L392.23,198.40 L395.83,197.16ZM291.21,183.13 L287.62,184.36 L288.17,185.34 L284.71,184.52 L286.93,181.75 L287.10,182.85 L290.69,181.61ZM290.72,188.06 L287.13,189.30 L287.67,190.28 L284.22,189.46 L286.44,186.68 L286.61,187.79 L290.20,186.55ZM298.62,195.47 L295.02,196.70 L295.57,197.68 L292.12,196.86 L294.33,194.09 L294.50,195.19 L298.10,193.95ZM306.76,204.10 L303.17,205.34 L303.72,206.32 L300.26,205.50 L302.48,202.72 L302.65,203.83 L306.24,202.59ZM315.40,211.01 L311.81,212.25 L312.35,213.23 L308.90,212.41 L311.12,209.63 L311.29,210.74 L314.88,209.50ZM315.40,216.94 L311.81,218.17 L312.35,219.15 L308.90,218.33 L311.12,215.56 L311.29,216.66 L314.88,215.42ZM322.80,216.94 L319.21,218.17 L319.76,219.15 L316.30,218.33 L318.52,215.56 L318.69,216.66 L322.28,215.42ZM322.80,225.82 L319.21,227.06 L319.76,228.03 L316.30,227.21 L318.52,224.44 L318.69,225.55 L322.28,224.31ZM330.70,233.72 L327.11,234.96 L327.65,235.93 L324.20,235.11 L326.42,232.34 L326.59,233.44 L330.18,232.21ZM330.70,236.68 L327.11,237.92 L327.65,238.89 L324.20,238.07 L326.42,235.30 L326.59,236.41 L330.18,235.17ZM338.84,244.83 L335.25,246.06 L335.80,247.04 L332.34,246.22 L334.56,243.44 L334.73,244.55 L338.32,243.31ZM347.48,247.29 L343.89,248.53 L344.44,249.51 L340.98,248.69 L343.20,245.91 L343.37,247.02 L346.96,245.78ZM330.70,218.91 L327.11,220.15 L327.65,221.12 L324.20,220.30 L326.42,217.53 L326.59,218.64 L330.18,217.40ZM338.84,218.42 L335.25,219.66 L335.80,220.63 L332.34,219.81 L334.56,217.04 L334.73,218.14 L338.32,216.91ZM347.48,216.44 L343.89,217.68 L344.44,218.66 L340.98,217.84 L343.20,215.06 L343.37,216.17 L346.96,214.93ZM355.38,212.74 L351.79,213.98 L352.33,214.95 L348.88,214.13 L351.10,211.36 L351.27,212.47 L354.86,211.23ZM363.52,210.27 L359.93,211.51 L360.48,212.49 L357.02,211.67 L359.24,208.89 L359.41,210.00 L363.00,208.76ZM378.33,211.51 L374.74,212.75 L375.29,213.72 L371.83,212.90 L374.05,210.13 L374.22,211.23 L377.81,210.00ZM370.93,217.68 L367.33,218.92 L367.88,219.89 L364.43,219.07 L366.64,216.30 L366.81,217.40 L370.41,216.17ZM378.33,218.42 L374.74,219.66 L375.29,220.63 L371.83,219.81 L374.05,217.04 L374.22,218.14 L377.81,216.91ZM386.97,218.42 L383.38,219.66 L383.92,220.63 L380.47,219.81 L382.69,217.04 L382.86,218.14 L386.45,216.91ZM363.52,224.34 L359.93,225.58 L360.48,226.55 L357.02,225.73 L359.24,222.96 L359.41,224.07 L363.00,222.83ZM370.93,229.28 L367.33,230.51 L367.88,231.49 L364.43,230.67 L366.64,227.90 L366.81,229.00 L370.41,227.76ZM354.89,230.02 L351.29,231.25 L351.84,232.23 L348.39,231.41 L350.60,228.64 L350.77,229.74 L354.37,228.50ZM347.48,233.72 L343.89,234.96 L344.44,235.93 L340.98,235.11 L343.20,232.34 L343.37,233.44 L346.96,232.21ZM363.52,231.25 L359.93,232.49 L360.48,233.46 L357.02,232.64 L359.24,229.87 L359.41,230.98 L363.00,229.74ZM378.33,227.55 L374.74,228.79 L375.29,229.76 L371.83,228.94 L374.05,226.17 L374.22,227.27 L377.81,226.04ZM338.84,236.68 L335.25,237.92 L335.80,238.89 L332.34,238.07 L334.56,235.30 L334.73,236.41 L338.32,235.17ZM355.38,239.89 L351.79,241.13 L352.33,242.10 L348.88,241.28 L351.10,238.51 L351.27,239.61 L354.86,238.38ZM363.52,238.66 L359.93,239.89 L360.48,240.87 L357.02,240.05 L359.24,237.27 L359.41,238.38 L363.00,237.14ZM370.93,238.16 L367.33,239.40 L367.88,240.37 L364.43,239.55 L366.64,236.78 L366.81,237.89 L370.41,236.65ZM355.38,244.83 L351.79,246.06 L352.33,247.04 L348.88,246.22 L351.10,243.44 L351.27,244.55 L354.86,243.31ZM363.52,246.55 L359.93,247.79 L360.48,248.76 L357.02,247.95 L359.24,245.17 L359.41,246.28 L363.00,245.04Z" fill="#1616cc"/>
<text x="382.60" y="252.60" font-size="11.20" text-anchor="middle" font-weight="bold" fill="#f5a81c" >X</text>
<path d="M202.2,301.3 L332.2,262.2 L332.2,323.6 L202.2,363.3 Z" fill="#fff" stroke="#111" stroke-width="0.8" stroke-linejoin="round"/>
<path d="M332.2,262.2 L431.0,290.7 L431.0,353.3 L332.2,323.6 Z" fill="#fff" stroke="#111" stroke-width="0.8" stroke-linejoin="round"/>
<rect x="193.6" y="301.3" width="7.0" height="62.0" fill="url(#vi1)"/>
<path d="M193.6,301.30 h-2.4" stroke="#222" stroke-width="0.7"/>
<text x="186.60" y="305.70" font-size="9.70" text-anchor="end" font-weight="normal" fill="#000" >0</text>
<path d="M193.6,332.30 h-2.4" stroke="#222" stroke-width="0.7"/>
<text x="186.60" y="336.70" font-size="9.70" text-anchor="end" font-weight="normal" fill="#000" >−25</text>
<path d="M193.6,363.30 h-2.4" stroke="#222" stroke-width="0.7"/>
<text x="186.60" y="367.70" font-size="9.70" text-anchor="end" font-weight="normal" fill="#000" >−50</text>
<text font-size="9.7" text-anchor="middle" transform="translate(398.6 340.4) skewY(16.5)">Valence</text>
<text x="161.00" y="287.50" font-size="9.70" text-anchor="middle" font-weight="normal" fill="#000" transform="rotate(-90 161.0 287.5)">Energy (meV)</text>
<path d="M281.40,303.60 C279.83,304.03 275.05,305.00 272.00,306.20 C268.95,307.40 265.77,309.00 263.10,310.80 C260.43,312.60 258.20,314.82 256.00,317.00 C253.80,319.18 251.82,321.48 249.90,323.90 C247.98,326.32 246.25,328.87 244.50,331.50 C242.75,334.13 240.95,336.95 239.40,339.70 C237.85,342.45 236.50,345.17 235.20,348.00 C233.90,350.83 232.30,354.53 231.60,356.70 C230.90,358.87 230.80,359.73 231.00,361.00 C231.20,362.27 231.13,362.88 232.80,364.30 C234.47,365.72 237.72,367.85 241.00,369.50 C244.28,371.15 248.50,372.82 252.50,374.20 C256.50,375.58 260.62,376.73 265.00,377.80 C269.38,378.87 274.30,379.83 278.80,380.60 C283.30,381.37 287.62,381.98 292.00,382.40 C296.38,382.82 300.77,383.10 305.10,383.10 C309.43,383.10 313.62,382.85 318.00,382.40 C322.38,381.95 327.73,381.13 331.40,380.40 C335.07,379.67 337.38,378.88 340.00,378.00 C342.62,377.12 345.10,376.10 347.10,375.10 C349.10,374.10 350.90,372.97 352.00,372.00 C353.10,371.03 353.78,370.63 353.70,369.30 C353.62,367.97 352.60,365.88 351.50,364.00 C350.40,362.12 348.68,360.33 347.10,358.00 C345.52,355.67 343.75,352.62 342.00,350.00 C340.25,347.38 338.60,344.97 336.60,342.30 C334.60,339.63 332.18,336.63 330.00,334.00 C327.82,331.37 325.67,328.73 323.50,326.50 C321.33,324.27 319.18,322.35 317.00,320.60 C314.82,318.85 312.57,317.50 310.40,316.00 C308.23,314.50 306.20,312.92 304.00,311.60 C301.80,310.28 299.62,309.20 297.20,308.10 C294.78,307.00 292.13,305.75 289.50,305.00 C286.87,304.25 282.75,303.83 281.40,303.60Z" fill="url(#gd1)"/>
<circle cx="322.22" cy="333.58" r="0.8" fill="#1616cc"/>
<circle cx="330.61" cy="339.33" r="0.8" fill="#1616cc"/>
<circle cx="330.61" cy="350.38" r="0.8" fill="#1616cc"/>
<circle cx="338.79" cy="353.03" r="0.8" fill="#1616cc"/>
<circle cx="338.79" cy="370.26" r="0.8" fill="#1616cc"/>
<circle cx="346.52" cy="371.81" r="0.8" fill="#1616cc"/>
<path d="M282.83,306.27 L278.72,307.14 L279.14,308.13 L275.61,306.93 L278.35,304.41 L278.37,305.48 L282.48,304.61ZM273.99,312.23 L269.88,313.11 L270.30,314.09 L266.77,312.90 L269.51,310.38 L269.53,311.45 L273.64,310.57ZM281.73,315.55 L277.62,316.42 L278.03,317.41 L274.51,316.21 L277.24,313.69 L277.26,314.76 L281.37,313.89ZM266.70,315.11 L262.59,315.98 L263.01,316.97 L259.48,315.77 L262.22,313.25 L262.24,314.32 L266.35,313.44ZM299.40,313.78 L295.29,314.65 L295.71,315.64 L292.18,314.45 L294.92,311.92 L294.94,312.99 L299.05,312.12ZM258.53,319.53 L254.42,320.40 L254.83,321.38 L251.31,320.19 L254.04,317.67 L254.06,318.74 L258.17,317.86ZM291.67,321.07 L287.56,321.95 L287.97,322.93 L284.45,321.74 L287.18,319.21 L287.21,320.28 L291.31,319.41ZM306.47,322.18 L302.36,323.05 L302.78,324.04 L299.25,322.84 L301.99,320.32 L302.01,321.39 L306.12,320.51ZM250.79,328.81 L246.68,329.68 L247.10,330.66 L243.57,329.47 L246.31,326.95 L246.33,328.02 L250.44,327.14ZM258.53,333.67 L254.42,334.54 L254.83,335.53 L251.31,334.33 L254.04,331.81 L254.06,332.88 L258.17,332.00ZM266.26,333.22 L262.15,334.10 L262.56,335.08 L259.04,333.89 L261.77,331.37 L261.80,332.44 L265.91,331.56ZM275.10,334.99 L270.99,335.87 L271.40,336.85 L267.88,335.66 L270.61,333.13 L270.63,334.20 L274.74,333.33ZM296.09,329.91 L291.98,330.78 L292.39,331.77 L288.87,330.58 L291.60,328.05 L291.62,329.12 L295.73,328.25ZM314.42,334.99 L310.32,335.87 L310.73,336.85 L307.21,335.66 L309.94,333.13 L309.96,334.20 L314.07,333.33ZM243.06,340.96 L238.95,341.83 L239.37,342.82 L235.84,341.62 L238.58,339.10 L238.60,340.17 L242.71,339.30ZM282.83,340.96 L278.72,341.83 L279.14,342.82 L275.61,341.62 L278.35,339.10 L278.37,340.17 L282.48,339.30ZM306.47,344.27 L302.36,345.15 L302.78,346.13 L299.25,344.94 L301.99,342.41 L302.01,343.48 L306.12,342.61ZM242.40,346.92 L238.29,347.80 L238.70,348.78 L235.18,347.59 L237.91,345.07 L237.94,346.13 L242.04,345.26ZM291.00,349.80 L286.90,350.67 L287.31,351.65 L283.79,350.46 L286.52,347.94 L286.54,349.01 L290.65,348.13ZM322.60,352.01 L318.49,352.88 L318.91,353.86 L315.38,352.67 L318.12,350.15 L318.14,351.22 L322.25,350.34ZM234.88,357.09 L230.78,357.96 L231.19,358.95 L227.67,357.75 L230.40,355.23 L230.42,356.30 L234.53,355.42ZM250.79,364.16 L246.68,365.03 L247.10,366.02 L243.57,364.82 L246.31,362.30 L246.33,363.37 L250.44,362.49ZM258.53,363.05 L254.42,363.93 L254.83,364.91 L251.31,363.72 L254.04,361.19 L254.06,362.26 L258.17,361.39ZM266.26,365.26 L262.15,366.14 L262.56,367.12 L259.04,365.93 L261.77,363.40 L261.80,364.47 L265.91,363.60ZM298.96,363.05 L294.85,363.93 L295.26,364.91 L291.74,363.72 L294.47,361.19 L294.50,362.26 L298.61,361.39ZM314.42,360.84 L310.32,361.72 L310.73,362.70 L307.21,361.51 L309.94,358.98 L309.96,360.05 L314.07,359.18ZM242.40,367.47 L238.29,368.34 L238.70,369.33 L235.18,368.14 L237.91,365.61 L237.94,366.68 L242.04,365.81ZM274.65,371.23 L270.55,372.10 L270.96,373.09 L267.44,371.89 L270.17,369.37 L270.19,370.44 L274.30,369.56ZM329.23,372.55 L325.12,373.43 L325.53,374.41 L322.01,373.22 L324.74,370.69 L324.77,371.76 L328.87,370.89ZM282.83,378.52 L278.72,379.39 L279.14,380.38 L275.61,379.18 L278.35,376.66 L278.37,377.73 L282.48,376.86ZM306.47,377.86 L302.36,378.73 L302.78,379.71 L299.25,378.52 L301.99,376.00 L302.01,377.07 L306.12,376.19ZM322.60,381.39 L318.49,382.26 L318.91,383.25 L315.38,382.06 L318.12,379.53 L318.14,380.60 L322.25,379.73Z" fill="#1616cc"/>
<path d="M202.3,282.2 L332.3,243.1 L430.4,272.8 L303.3,311.8 Z" fill="#fff" stroke="#111" stroke-width="0.8" stroke-linejoin="round"/>
<g ><g transform="translate(341.50 269.60) rotate(1.60) scale(58.60 18.00)"><circle r="1" fill="url(#rgr)"/></g></g>
<g clip-path="url(#cvir)"><g transform="translate(292.00 285.30) rotate(6.30) scale(62.20 17.10)"><circle r="1" fill="url(#rvi)"/></g></g>
<path d="M252.7,296.5 L381.7,253.6" stroke="#f0a21a" stroke-width="1.5"/>
<path d="M243.15,288.74 L239.80,289.77 L240.31,290.76 L236.89,289.82 L239.20,287.13 L239.33,288.24 L242.68,287.21ZM251.15,291.14 L247.80,292.17 L248.31,293.16 L244.89,292.22 L247.20,289.53 L247.33,290.64 L250.68,289.61ZM259.15,293.54 L255.80,294.57 L256.31,295.56 L252.89,294.62 L255.20,291.93 L255.33,293.04 L258.68,292.01ZM267.15,295.94 L263.80,296.97 L264.31,297.96 L260.89,297.02 L263.20,294.33 L263.33,295.44 L266.68,294.41ZM275.15,298.34 L271.80,299.37 L272.31,300.36 L268.89,299.42 L271.20,296.73 L271.33,297.84 L274.68,296.81ZM283.15,300.74 L279.80,301.77 L280.31,302.76 L276.89,301.82 L279.20,299.13 L279.33,300.24 L282.68,299.21ZM235.15,281.59 L231.80,282.62 L232.31,283.61 L228.89,282.67 L231.20,279.98 L231.33,281.09 L234.68,280.06ZM243.15,283.99 L239.80,285.02 L240.31,286.01 L236.89,285.07 L239.20,282.38 L239.33,283.49 L242.68,282.46ZM251.15,286.39 L247.80,287.42 L248.31,288.41 L244.89,287.47 L247.20,284.78 L247.33,285.89 L250.68,284.86ZM259.15,288.79 L255.80,289.82 L256.31,290.81 L252.89,289.87 L255.20,287.18 L255.33,288.29 L258.68,287.26ZM267.15,291.19 L263.80,292.22 L264.31,293.21 L260.89,292.27 L263.20,289.58 L263.33,290.69 L266.68,289.66ZM275.15,293.59 L271.80,294.62 L272.31,295.61 L268.89,294.67 L271.20,291.98 L271.33,293.09 L274.68,292.06ZM283.15,295.99 L279.80,297.02 L280.31,298.01 L276.89,297.07 L279.20,294.38 L279.33,295.49 L282.68,294.46ZM291.15,298.39 L287.80,299.42 L288.31,300.41 L284.89,299.47 L287.20,296.78 L287.33,297.89 L290.68,296.86ZM299.15,300.79 L295.80,301.82 L296.31,302.81 L292.89,301.87 L295.20,299.18 L295.33,300.29 L298.68,299.26ZM307.15,303.19 L303.80,304.22 L304.31,305.21 L300.89,304.27 L303.20,301.58 L303.33,302.69 L306.68,301.66ZM235.15,276.84 L231.80,277.87 L232.31,278.86 L228.89,277.92 L231.20,275.23 L231.33,276.34 L234.68,275.31ZM243.15,279.24 L239.80,280.27 L240.31,281.26 L236.89,280.32 L239.20,277.63 L239.33,278.74 L242.68,277.71ZM251.15,281.64 L247.80,282.67 L248.31,283.66 L244.89,282.72 L247.20,280.03 L247.33,281.14 L250.68,280.11ZM259.15,284.04 L255.80,285.07 L256.31,286.06 L252.89,285.12 L255.20,282.43 L255.33,283.54 L258.68,282.51ZM267.15,286.44 L263.80,287.47 L264.31,288.46 L260.89,287.52 L263.20,284.83 L263.33,285.94 L266.68,284.91ZM275.15,288.84 L271.80,289.87 L272.31,290.86 L268.89,289.92 L271.20,287.23 L271.33,288.34 L274.68,287.31ZM283.15,291.24 L279.80,292.27 L280.31,293.26 L276.89,292.32 L279.20,289.63 L279.33,290.74 L282.68,289.71ZM291.15,293.64 L287.80,294.67 L288.31,295.66 L284.89,294.72 L287.20,292.03 L287.33,293.14 L290.68,292.11ZM299.15,296.04 L295.80,297.07 L296.31,298.06 L292.89,297.12 L295.20,294.43 L295.33,295.54 L298.68,294.51ZM307.15,298.44 L303.80,299.47 L304.31,300.46 L300.89,299.52 L303.20,296.83 L303.33,297.94 L306.68,296.91ZM315.15,300.84 L311.80,301.87 L312.31,302.86 L308.89,301.92 L311.20,299.23 L311.33,300.34 L314.68,299.31ZM323.15,303.24 L319.80,304.27 L320.31,305.26 L316.89,304.32 L319.20,301.63 L319.33,302.74 L322.68,301.71ZM243.15,274.49 L239.80,275.52 L240.31,276.51 L236.89,275.57 L239.20,272.88 L239.33,273.99 L242.68,272.96ZM251.15,276.89 L247.80,277.92 L248.31,278.91 L244.89,277.97 L247.20,275.28 L247.33,276.39 L250.68,275.36ZM259.15,279.29 L255.80,280.32 L256.31,281.31 L252.89,280.37 L255.20,277.68 L255.33,278.79 L258.68,277.76ZM267.15,281.69 L263.80,282.72 L264.31,283.71 L260.89,282.77 L263.20,280.08 L263.33,281.19 L266.68,280.16ZM275.15,284.09 L271.80,285.12 L272.31,286.11 L268.89,285.17 L271.20,282.48 L271.33,283.59 L274.68,282.56ZM283.15,286.49 L279.80,287.52 L280.31,288.51 L276.89,287.57 L279.20,284.88 L279.33,285.99 L282.68,284.96ZM291.15,288.89 L287.80,289.92 L288.31,290.91 L284.89,289.97 L287.20,287.28 L287.33,288.39 L290.68,287.36ZM299.15,291.29 L295.80,292.32 L296.31,293.31 L292.89,292.37 L295.20,289.68 L295.33,290.79 L298.68,289.76ZM307.15,293.69 L303.80,294.72 L304.31,295.71 L300.89,294.77 L303.20,292.08 L303.33,293.19 L306.68,292.16ZM315.15,296.09 L311.80,297.12 L312.31,298.11 L308.89,297.17 L311.20,294.48 L311.33,295.59 L314.68,294.56ZM323.15,298.49 L319.80,299.52 L320.31,300.51 L316.89,299.57 L319.20,296.88 L319.33,297.99 L322.68,296.96ZM331.15,300.89 L327.80,301.92 L328.31,302.91 L324.89,301.97 L327.20,299.28 L327.33,300.39 L330.68,299.36ZM243.15,269.74 L239.80,270.77 L240.31,271.76 L236.89,270.82 L239.20,268.13 L239.33,269.24 L242.68,268.21ZM251.15,272.14 L247.80,273.17 L248.31,274.16 L244.89,273.22 L247.20,270.53 L247.33,271.64 L250.68,270.61ZM259.15,274.54 L255.80,275.57 L256.31,276.56 L252.89,275.62 L255.20,272.93 L255.33,274.04 L258.68,273.01ZM267.15,276.94 L263.80,277.97 L264.31,278.96 L260.89,278.02 L263.20,275.33 L263.33,276.44 L266.68,275.41ZM275.15,279.34 L271.80,280.37 L272.31,281.36 L268.89,280.42 L271.20,277.73 L271.33,278.84 L274.68,277.81ZM283.15,281.74 L279.80,282.77 L280.31,283.76 L276.89,282.82 L279.20,280.13 L279.33,281.24 L282.68,280.21ZM291.15,284.14 L287.80,285.17 L288.31,286.16 L284.89,285.22 L287.20,282.53 L287.33,283.64 L290.68,282.61ZM299.15,286.54 L295.80,287.57 L296.31,288.56 L292.89,287.62 L295.20,284.93 L295.33,286.04 L298.68,285.01ZM307.15,288.94 L303.80,289.97 L304.31,290.96 L300.89,290.02 L303.20,287.33 L303.33,288.44 L306.68,287.41ZM315.15,291.34 L311.80,292.37 L312.31,293.36 L308.89,292.42 L311.20,289.73 L311.33,290.84 L314.68,289.81ZM323.15,293.74 L319.80,294.77 L320.31,295.76 L316.89,294.82 L319.20,292.13 L319.33,293.24 L322.68,292.21ZM331.15,296.14 L327.80,297.17 L328.31,298.16 L324.89,297.22 L327.20,294.53 L327.33,295.64 L330.68,294.61ZM339.15,298.54 L335.80,299.57 L336.31,300.56 L332.89,299.62 L335.20,296.93 L335.33,298.04 L338.68,297.01ZM259.15,269.79 L255.80,270.82 L256.31,271.81 L252.89,270.87 L255.20,268.18 L255.33,269.29 L258.68,268.26ZM267.15,272.19 L263.80,273.22 L264.31,274.21 L260.89,273.27 L263.20,270.58 L263.33,271.69 L266.68,270.66ZM275.15,274.59 L271.80,275.62 L272.31,276.61 L268.89,275.67 L271.20,272.98 L271.33,274.09 L274.68,273.06ZM283.15,276.99 L279.80,278.02 L280.31,279.01 L276.89,278.07 L279.20,275.38 L279.33,276.49 L282.68,275.46ZM291.15,279.39 L287.80,280.42 L288.31,281.41 L284.89,280.47 L287.20,277.78 L287.33,278.89 L290.68,277.86ZM299.15,281.79 L295.80,282.82 L296.31,283.81 L292.89,282.87 L295.20,280.18 L295.33,281.29 L298.68,280.26ZM307.15,284.19 L303.80,285.22 L304.31,286.21 L300.89,285.27 L303.20,282.58 L303.33,283.69 L306.68,282.66ZM315.15,286.59 L311.80,287.62 L312.31,288.61 L308.89,287.67 L311.20,284.98 L311.33,286.09 L314.68,285.06ZM323.15,288.99 L319.80,290.02 L320.31,291.01 L316.89,290.07 L319.20,287.38 L319.33,288.49 L322.68,287.46ZM331.15,291.39 L327.80,292.42 L328.31,293.41 L324.89,292.47 L327.20,289.78 L327.33,290.89 L330.68,289.86ZM339.15,293.79 L335.80,294.82 L336.31,295.81 L332.89,294.87 L335.20,292.18 L335.33,293.29 L338.68,292.26ZM347.15,296.19 L343.80,297.22 L344.31,298.21 L340.89,297.27 L343.20,294.58 L343.33,295.69 L346.68,294.66ZM267.15,267.44 L263.80,268.47 L264.31,269.46 L260.89,268.52 L263.20,265.83 L263.33,266.94 L266.68,265.91ZM275.15,269.84 L271.80,270.87 L272.31,271.86 L268.89,270.92 L271.20,268.23 L271.33,269.34 L274.68,268.31ZM283.15,272.24 L279.80,273.27 L280.31,274.26 L276.89,273.32 L279.20,270.63 L279.33,271.74 L282.68,270.71ZM291.15,274.64 L287.80,275.67 L288.31,276.66 L284.89,275.72 L287.20,273.03 L287.33,274.14 L290.68,273.11ZM299.15,277.04 L295.80,278.07 L296.31,279.06 L292.89,278.12 L295.20,275.43 L295.33,276.54 L298.68,275.51ZM307.15,279.44 L303.80,280.47 L304.31,281.46 L300.89,280.52 L303.20,277.83 L303.33,278.94 L306.68,277.91ZM315.15,281.84 L311.80,282.87 L312.31,283.86 L308.89,282.92 L311.20,280.23 L311.33,281.34 L314.68,280.31ZM323.15,284.24 L319.80,285.27 L320.31,286.26 L316.89,285.32 L319.20,282.63 L319.33,283.74 L322.68,282.71ZM331.15,286.64 L327.80,287.67 L328.31,288.66 L324.89,287.72 L327.20,285.03 L327.33,286.14 L330.68,285.11ZM339.15,289.04 L335.80,290.07 L336.31,291.06 L332.89,290.12 L335.20,287.43 L335.33,288.54 L338.68,287.51ZM347.15,291.44 L343.80,292.47 L344.31,293.46 L340.89,292.52 L343.20,289.83 L343.33,290.94 L346.68,289.91ZM355.15,293.84 L351.80,294.87 L352.31,295.86 L348.89,294.92 L351.20,292.23 L351.33,293.34 L354.68,292.31ZM283.15,267.49 L279.80,268.52 L280.31,269.51 L276.89,268.57 L279.20,265.88 L279.33,266.99 L282.68,265.96ZM291.15,269.89 L287.80,270.92 L288.31,271.91 L284.89,270.97 L287.20,268.28 L287.33,269.39 L290.68,268.36ZM299.15,272.29 L295.80,273.32 L296.31,274.31 L292.89,273.37 L295.20,270.68 L295.33,271.79 L298.68,270.76ZM307.15,274.69 L303.80,275.72 L304.31,276.71 L300.89,275.77 L303.20,273.08 L303.33,274.19 L306.68,273.16ZM315.15,277.09 L311.80,278.12 L312.31,279.11 L308.89,278.17 L311.20,275.48 L311.33,276.59 L314.68,275.56ZM323.15,279.49 L319.80,280.52 L320.31,281.51 L316.89,280.57 L319.20,277.88 L319.33,278.99 L322.68,277.96ZM331.15,281.89 L327.80,282.92 L328.31,283.91 L324.89,282.97 L327.20,280.28 L327.33,281.39 L330.68,280.36ZM339.15,284.29 L335.80,285.32 L336.31,286.31 L332.89,285.37 L335.20,282.68 L335.33,283.79 L338.68,282.76ZM347.15,286.69 L343.80,287.72 L344.31,288.71 L340.89,287.77 L343.20,285.08 L343.33,286.19 L346.68,285.16ZM355.15,289.09 L351.80,290.12 L352.31,291.11 L348.89,290.17 L351.20,287.48 L351.33,288.59 L354.68,287.56ZM291.15,265.14 L287.80,266.17 L288.31,267.16 L284.89,266.22 L287.20,263.53 L287.33,264.64 L290.68,263.61ZM299.15,267.54 L295.80,268.57 L296.31,269.56 L292.89,268.62 L295.20,265.93 L295.33,267.04 L298.68,266.01ZM307.15,269.94 L303.80,270.97 L304.31,271.96 L300.89,271.02 L303.20,268.33 L303.33,269.44 L306.68,268.41ZM315.15,272.34 L311.80,273.37 L312.31,274.36 L308.89,273.42 L311.20,270.73 L311.33,271.84 L314.68,270.81ZM323.15,274.74 L319.80,275.77 L320.31,276.76 L316.89,275.82 L319.20,273.13 L319.33,274.24 L322.68,273.21ZM331.15,277.14 L327.80,278.17 L328.31,279.16 L324.89,278.22 L327.20,275.53 L327.33,276.64 L330.68,275.61ZM339.15,279.54 L335.80,280.57 L336.31,281.56 L332.89,280.62 L335.20,277.93 L335.33,279.04 L338.68,278.01ZM347.15,281.94 L343.80,282.97 L344.31,283.96 L340.89,283.02 L343.20,280.33 L343.33,281.44 L346.68,280.41ZM355.15,284.34 L351.80,285.37 L352.31,286.36 L348.89,285.42 L351.20,282.73 L351.33,283.84 L354.68,282.81ZM363.15,286.74 L359.80,287.77 L360.31,288.76 L356.89,287.82 L359.20,285.13 L359.33,286.24 L362.68,285.21ZM291.15,260.39 L287.80,261.42 L288.31,262.41 L284.89,261.47 L287.20,258.78 L287.33,259.89 L290.68,258.86ZM299.15,262.79 L295.80,263.82 L296.31,264.81 L292.89,263.87 L295.20,261.18 L295.33,262.29 L298.68,261.26ZM307.15,265.19 L303.80,266.22 L304.31,267.21 L300.89,266.27 L303.20,263.58 L303.33,264.69 L306.68,263.66ZM315.15,267.59 L311.80,268.62 L312.31,269.61 L308.89,268.67 L311.20,265.98 L311.33,267.09 L314.68,266.06ZM323.15,269.99 L319.80,271.02 L320.31,272.01 L316.89,271.07 L319.20,268.38 L319.33,269.49 L322.68,268.46ZM331.15,272.39 L327.80,273.42 L328.31,274.41 L324.89,273.47 L327.20,270.78 L327.33,271.89 L330.68,270.86ZM339.15,274.79 L335.80,275.82 L336.31,276.81 L332.89,275.87 L335.20,273.18 L335.33,274.29 L338.68,273.26ZM347.15,277.19 L343.80,278.22 L344.31,279.21 L340.89,278.27 L343.20,275.58 L343.33,276.69 L346.68,275.66ZM355.15,279.59 L351.80,280.62 L352.31,281.61 L348.89,280.67 L351.20,277.98 L351.33,279.09 L354.68,278.06ZM363.15,281.99 L359.80,283.02 L360.31,284.01 L356.89,283.07 L359.20,280.38 L359.33,281.49 L362.68,280.46ZM371.15,284.39 L367.80,285.42 L368.31,286.41 L364.89,285.47 L367.20,282.78 L367.33,283.89 L370.68,282.86ZM299.15,258.04 L295.80,259.07 L296.31,260.06 L292.89,259.12 L295.20,256.43 L295.33,257.54 L298.68,256.51ZM307.15,260.44 L303.80,261.47 L304.31,262.46 L300.89,261.52 L303.20,258.83 L303.33,259.94 L306.68,258.91ZM315.15,262.84 L311.80,263.87 L312.31,264.86 L308.89,263.92 L311.20,261.23 L311.33,262.34 L314.68,261.31ZM323.15,265.24 L319.80,266.27 L320.31,267.26 L316.89,266.32 L319.20,263.63 L319.33,264.74 L322.68,263.71ZM331.15,267.64 L327.80,268.67 L328.31,269.66 L324.89,268.72 L327.20,266.03 L327.33,267.14 L330.68,266.11ZM339.15,270.04 L335.80,271.07 L336.31,272.06 L332.89,271.12 L335.20,268.43 L335.33,269.54 L338.68,268.51ZM347.15,272.44 L343.80,273.47 L344.31,274.46 L340.89,273.52 L343.20,270.83 L343.33,271.94 L346.68,270.91ZM355.15,274.84 L351.80,275.87 L352.31,276.86 L348.89,275.92 L351.20,273.23 L351.33,274.34 L354.68,273.31ZM363.15,277.24 L359.80,278.27 L360.31,279.26 L356.89,278.32 L359.20,275.63 L359.33,276.74 L362.68,275.71ZM371.15,279.64 L367.80,280.67 L368.31,281.66 L364.89,280.72 L367.20,278.03 L367.33,279.14 L370.68,278.11ZM379.15,282.04 L375.80,283.07 L376.31,284.06 L372.89,283.12 L375.20,280.43 L375.33,281.54 L378.68,280.51ZM307.15,255.69 L303.80,256.72 L304.31,257.71 L300.89,256.77 L303.20,254.08 L303.33,255.19 L306.68,254.16ZM315.15,258.09 L311.80,259.12 L312.31,260.11 L308.89,259.17 L311.20,256.48 L311.33,257.59 L314.68,256.56ZM323.15,260.49 L319.80,261.52 L320.31,262.51 L316.89,261.57 L319.20,258.88 L319.33,259.99 L322.68,258.96ZM331.15,262.89 L327.80,263.92 L328.31,264.91 L324.89,263.97 L327.20,261.28 L327.33,262.39 L330.68,261.36ZM339.15,265.29 L335.80,266.32 L336.31,267.31 L332.89,266.37 L335.20,263.68 L335.33,264.79 L338.68,263.76ZM347.15,267.69 L343.80,268.72 L344.31,269.71 L340.89,268.77 L343.20,266.08 L343.33,267.19 L346.68,266.16ZM355.15,270.09 L351.80,271.12 L352.31,272.11 L348.89,271.17 L351.20,268.48 L351.33,269.59 L354.68,268.56ZM363.15,272.49 L359.80,273.52 L360.31,274.51 L356.89,273.57 L359.20,270.88 L359.33,271.99 L362.68,270.96ZM371.15,274.89 L367.80,275.92 L368.31,276.91 L364.89,275.97 L367.20,273.28 L367.33,274.39 L370.68,273.36ZM379.15,277.29 L375.80,278.32 L376.31,279.31 L372.89,278.37 L375.20,275.68 L375.33,276.79 L378.68,275.76ZM387.15,279.69 L383.80,280.72 L384.31,281.71 L380.89,280.77 L383.20,278.08 L383.33,279.19 L386.68,278.16ZM315.15,253.34 L311.80,254.37 L312.31,255.36 L308.89,254.42 L311.20,251.73 L311.33,252.84 L314.68,251.81ZM323.15,255.74 L319.80,256.77 L320.31,257.76 L316.89,256.82 L319.20,254.13 L319.33,255.24 L322.68,254.21ZM331.15,258.14 L327.80,259.17 L328.31,260.16 L324.89,259.22 L327.20,256.53 L327.33,257.64 L330.68,256.61ZM339.15,260.54 L335.80,261.57 L336.31,262.56 L332.89,261.62 L335.20,258.93 L335.33,260.04 L338.68,259.01ZM347.15,262.94 L343.80,263.97 L344.31,264.96 L340.89,264.02 L343.20,261.33 L343.33,262.44 L346.68,261.41ZM355.15,265.34 L351.80,266.37 L352.31,267.36 L348.89,266.42 L351.20,263.73 L351.33,264.84 L354.68,263.81ZM363.15,267.74 L359.80,268.77 L360.31,269.76 L356.89,268.82 L359.20,266.13 L359.33,267.24 L362.68,266.21ZM371.15,270.14 L367.80,271.17 L368.31,272.16 L364.89,271.22 L367.20,268.53 L367.33,269.64 L370.68,268.61ZM379.15,272.54 L375.80,273.57 L376.31,274.56 L372.89,273.62 L375.20,270.93 L375.33,272.04 L378.68,271.01ZM387.15,274.94 L383.80,275.97 L384.31,276.96 L380.89,276.02 L383.20,273.33 L383.33,274.44 L386.68,273.41ZM395.15,277.34 L391.80,278.37 L392.31,279.36 L388.89,278.42 L391.20,275.73 L391.33,276.84 L394.68,275.81ZM331.15,253.39 L327.80,254.42 L328.31,255.41 L324.89,254.47 L327.20,251.78 L327.33,252.89 L330.68,251.86ZM339.15,255.79 L335.80,256.82 L336.31,257.81 L332.89,256.87 L335.20,254.18 L335.33,255.29 L338.68,254.26ZM347.15,258.19 L343.80,259.22 L344.31,260.21 L340.89,259.27 L343.20,256.58 L343.33,257.69 L346.68,256.66ZM355.15,260.59 L351.80,261.62 L352.31,262.61 L348.89,261.67 L351.20,258.98 L351.33,260.09 L354.68,259.06ZM363.15,262.99 L359.80,264.02 L360.31,265.01 L356.89,264.07 L359.20,261.38 L359.33,262.49 L362.68,261.46ZM371.15,265.39 L367.80,266.42 L368.31,267.41 L364.89,266.47 L367.20,263.78 L367.33,264.89 L370.68,263.86ZM379.15,267.79 L375.80,268.82 L376.31,269.81 L372.89,268.87 L375.20,266.18 L375.33,267.29 L378.68,266.26ZM387.15,270.19 L383.80,271.22 L384.31,272.21 L380.89,271.27 L383.20,268.58 L383.33,269.69 L386.68,268.66ZM395.15,272.59 L391.80,273.62 L392.31,274.61 L388.89,273.67 L391.20,270.98 L391.33,272.09 L394.68,271.06ZM403.15,274.99 L399.80,276.02 L400.31,277.01 L396.89,276.07 L399.20,273.38 L399.33,274.49 L402.68,273.46ZM339.15,251.04 L335.80,252.07 L336.31,253.06 L332.89,252.12 L335.20,249.43 L335.33,250.54 L338.68,249.51ZM347.15,253.44 L343.80,254.47 L344.31,255.46 L340.89,254.52 L343.20,251.83 L343.33,252.94 L346.68,251.91ZM355.15,255.84 L351.80,256.87 L352.31,257.86 L348.89,256.92 L351.20,254.23 L351.33,255.34 L354.68,254.31ZM363.15,258.24 L359.80,259.27 L360.31,260.26 L356.89,259.32 L359.20,256.63 L359.33,257.74 L362.68,256.71ZM371.15,260.64 L367.80,261.67 L368.31,262.66 L364.89,261.72 L367.20,259.03 L367.33,260.14 L370.68,259.11ZM379.15,263.04 L375.80,264.07 L376.31,265.06 L372.89,264.12 L375.20,261.43 L375.33,262.54 L378.68,261.51ZM387.15,265.44 L383.80,266.47 L384.31,267.46 L380.89,266.52 L383.20,263.83 L383.33,264.94 L386.68,263.91ZM395.15,267.84 L391.80,268.87 L392.31,269.86 L388.89,268.92 L391.20,266.23 L391.33,267.34 L394.68,266.31ZM403.15,270.24 L399.80,271.27 L400.31,272.26 L396.89,271.32 L399.20,268.63 L399.33,269.74 L402.68,268.71ZM363.15,253.49 L359.80,254.52 L360.31,255.51 L356.89,254.57 L359.20,251.88 L359.33,252.99 L362.68,251.96ZM371.15,255.89 L367.80,256.92 L368.31,257.91 L364.89,256.97 L367.20,254.28 L367.33,255.39 L370.68,254.36ZM379.15,258.29 L375.80,259.32 L376.31,260.31 L372.89,259.37 L375.20,256.68 L375.33,257.79 L378.68,256.76ZM387.15,260.69 L383.80,261.72 L384.31,262.71 L380.89,261.77 L383.20,259.08 L383.33,260.19 L386.68,259.16ZM395.15,263.09 L391.80,264.12 L392.31,265.11 L388.89,264.17 L391.20,261.48 L391.33,262.59 L394.68,261.56Z" fill="#1616cc"/>
<text x="241.60" y="306.20" font-size="9.70" text-anchor="start" font-weight="normal" fill="#000" >k<tspan dy="2.0" font-size="70%">x</tspan></text>
<text x="367.20" y="303.80" font-size="9.70" text-anchor="start" font-weight="normal" fill="#000" >k<tspan dy="2.0" font-size="70%">y</tspan></text>
<rect x="494.00" y="11.10" width="149.80" height="75.05" fill="#ed8368"/>
<rect x="494.00" y="86.15" width="149.80" height="74.85" fill="#7a9df8"/>
<g clip-path="url(#ce1)"><polyline points="494.00,103.35 495.60,102.40 497.21,101.47 498.81,100.55 500.42,99.66 502.02,98.79 503.62,97.94 505.23,97.10 506.83,96.29 508.44,95.51 510.04,94.74 511.65,93.99 513.25,93.26 514.85,92.56 516.46,91.87 518.06,91.20 519.67,90.56 521.27,89.94 522.88,89.33 524.48,88.75 526.08,88.19 527.69,87.65 529.29,87.13 530.90,86.63 532.50,86.15" fill="none" stroke="#3a0a5c" stroke-width="1.3"/><polyline points="605.10,86.15 606.71,86.63 608.32,87.13 609.94,87.66 611.55,88.20 613.16,88.77 614.77,89.35 616.39,89.96 618.00,90.59 619.61,91.23 621.22,91.90 622.84,92.60 624.45,93.31 626.06,94.04 627.67,94.79 629.29,95.57 630.90,96.36 632.51,97.18 634.12,98.01 635.74,98.87 637.35,99.75 638.96,100.65 640.57,101.57 642.19,102.51 643.80,103.47" fill="none" stroke="#3a0a5c" stroke-width="1.3"/><polyline points="532.50,86.15 535.52,85.30 538.55,84.53 541.58,83.83 544.60,83.21 547.62,82.65 550.65,82.17 553.67,81.77 556.70,81.44 559.72,81.18 562.75,81.00 565.77,80.89 568.80,80.85 571.82,80.89 574.85,81.00 577.88,81.18 580.90,81.44 583.92,81.77 586.95,82.17 589.97,82.65 593.00,83.21 596.02,83.83 599.05,84.53 602.07,85.30 605.10,86.15" fill="none" stroke="#5ff2ca" stroke-width="1.5"/><polyline points="494.00,68.95 495.60,69.90 497.21,70.83 498.81,71.75 500.42,72.64 502.02,73.51 503.62,74.36 505.23,75.20 506.83,76.01 508.44,76.79 510.04,77.56 511.65,78.31 513.25,79.04 514.85,79.74 516.46,80.43 518.06,81.10 519.67,81.74 521.27,82.36 522.88,82.97 524.48,83.55 526.08,84.11 527.69,84.65 529.29,85.17 530.90,85.67 532.50,86.15" fill="none" stroke="#3a0a5c" stroke-width="1.3"/><polyline points="605.10,86.15 606.71,85.67 608.32,85.17 609.94,84.64 611.55,84.10 613.16,83.53 614.77,82.95 616.39,82.34 618.00,81.71 619.61,81.07 621.22,80.40 622.84,79.70 624.45,78.99 626.06,78.26 627.67,77.51 629.29,76.73 630.90,75.94 632.51,75.12 634.12,74.29 635.74,73.43 637.35,72.55 638.96,71.65 640.57,70.73 642.19,69.79 643.80,68.83" fill="none" stroke="#3a0a5c" stroke-width="1.3"/><polyline points="532.50,86.15 535.52,87.00 538.55,87.77 541.58,88.47 544.60,89.09 547.62,89.65 550.65,90.13 553.67,90.53 556.70,90.86 559.72,91.12 562.75,91.30 565.77,91.41 568.80,91.45 571.82,91.41 574.85,91.30 577.88,91.12 580.90,90.86 583.92,90.53 586.95,90.13 589.97,89.65 593.00,89.09 596.02,88.47 599.05,87.77 602.07,87.00 605.10,86.15" fill="none" stroke="#5ff2ca" stroke-width="1.5"/><path d="M492.04,18.83 L492.93,15.04 L491.93,15.11 L494.14,12.24 L494.85,15.79 L494.00,15.29 L493.11,19.08ZM492.04,27.13 L492.93,23.34 L491.93,23.41 L494.14,20.54 L494.85,24.09 L494.00,23.59 L493.11,27.38ZM492.04,35.43 L492.93,31.64 L491.93,31.71 L494.14,28.84 L494.85,32.39 L494.00,31.89 L493.11,35.68ZM492.04,43.73 L492.93,39.94 L491.93,40.01 L494.14,37.14 L494.85,40.69 L494.00,40.19 L493.11,43.98ZM492.04,52.03 L492.93,48.24 L491.93,48.31 L494.14,45.44 L494.85,48.99 L494.00,48.49 L493.11,52.28ZM492.04,60.33 L492.93,56.54 L491.93,56.61 L494.14,53.74 L494.85,57.29 L494.00,56.79 L493.11,60.58ZM492.04,68.63 L492.93,64.84 L491.93,64.91 L494.14,62.04 L494.85,65.59 L494.00,65.09 L493.11,68.88ZM492.04,76.93 L492.93,73.14 L491.93,73.21 L494.14,70.34 L494.85,73.89 L494.00,73.39 L493.11,77.18ZM492.04,85.23 L492.93,81.44 L491.93,81.51 L494.14,78.64 L494.85,82.19 L494.00,81.69 L493.11,85.48ZM493.11,86.82 L494.00,90.61 L494.85,90.11 L494.14,93.66 L491.93,90.79 L492.93,90.86 L492.04,87.07ZM493.11,95.12 L494.00,98.91 L494.85,98.41 L494.14,101.96 L491.93,99.09 L492.93,99.16 L492.04,95.37ZM493.11,103.42 L494.00,107.21 L494.85,106.71 L494.14,110.26 L491.93,107.39 L492.93,107.46 L492.04,103.67ZM493.11,111.72 L494.00,115.51 L494.85,115.01 L494.14,118.56 L491.93,115.69 L492.93,115.76 L492.04,111.97ZM493.11,120.02 L494.00,123.81 L494.85,123.31 L494.14,126.86 L491.93,123.99 L492.93,124.06 L492.04,120.27ZM493.11,128.32 L494.00,132.11 L494.85,131.61 L494.14,135.16 L491.93,132.29 L492.93,132.36 L492.04,128.57ZM493.11,136.62 L494.00,140.41 L494.85,139.91 L494.14,143.46 L491.93,140.59 L492.93,140.66 L492.04,136.87ZM493.11,144.92 L494.00,148.71 L494.85,148.21 L494.14,151.76 L491.93,148.89 L492.93,148.96 L492.04,145.17ZM493.11,153.22 L494.00,157.01 L494.85,156.51 L494.14,160.06 L491.93,157.19 L492.93,157.26 L492.04,153.47ZM498.71,18.88 L499.47,15.05 L498.48,15.16 L500.59,12.22 L501.42,15.75 L500.55,15.27 L499.79,19.09ZM498.71,27.18 L499.47,23.35 L498.48,23.46 L500.59,20.52 L501.42,24.05 L500.55,23.57 L499.79,27.39ZM498.71,35.48 L499.47,31.65 L498.48,31.76 L500.59,28.82 L501.42,32.35 L500.55,31.87 L499.79,35.69ZM498.71,43.78 L499.47,39.95 L498.48,40.06 L500.59,37.12 L501.42,40.65 L500.55,40.17 L499.79,43.99ZM498.71,52.08 L499.47,48.25 L498.48,48.36 L500.59,45.42 L501.42,48.95 L500.55,48.47 L499.79,52.29ZM498.71,60.38 L499.47,56.55 L498.48,56.66 L500.59,53.72 L501.42,57.25 L500.55,56.77 L499.79,60.59ZM498.71,68.68 L499.47,64.85 L498.48,64.96 L500.59,62.02 L501.42,65.55 L500.55,65.07 L499.79,68.89ZM498.71,76.98 L499.47,73.15 L498.48,73.26 L500.59,70.32 L501.42,73.85 L500.55,73.37 L499.79,77.19ZM498.71,85.28 L499.47,81.45 L498.48,81.56 L500.59,78.62 L501.42,82.15 L500.55,81.67 L499.79,85.49ZM499.79,86.81 L500.55,90.63 L501.42,90.15 L500.59,93.68 L498.48,90.74 L499.47,90.85 L498.71,87.02ZM499.79,95.11 L500.55,98.93 L501.42,98.45 L500.59,101.98 L498.48,99.04 L499.47,99.15 L498.71,95.32ZM499.79,103.41 L500.55,107.23 L501.42,106.75 L500.59,110.28 L498.48,107.34 L499.47,107.45 L498.71,103.62ZM499.79,111.71 L500.55,115.53 L501.42,115.05 L500.59,118.58 L498.48,115.64 L499.47,115.75 L498.71,111.92ZM499.79,120.01 L500.55,123.83 L501.42,123.35 L500.59,126.88 L498.48,123.94 L499.47,124.05 L498.71,120.22ZM499.79,128.31 L500.55,132.13 L501.42,131.65 L500.59,135.18 L498.48,132.24 L499.47,132.35 L498.71,128.52ZM499.79,136.61 L500.55,140.43 L501.42,139.95 L500.59,143.48 L498.48,140.54 L499.47,140.65 L498.71,136.82ZM499.79,144.91 L500.55,148.73 L501.42,148.25 L500.59,151.78 L498.48,148.84 L499.47,148.95 L498.71,145.12ZM499.79,153.21 L500.55,157.03 L501.42,156.55 L500.59,160.08 L498.48,157.14 L499.47,157.25 L498.71,153.42ZM505.38,18.92 L506.01,15.07 L505.02,15.21 L507.04,12.20 L507.98,15.70 L507.10,15.25 L506.46,19.09ZM505.38,27.22 L506.01,23.37 L505.02,23.51 L507.04,20.50 L507.98,24.00 L507.10,23.55 L506.46,27.39ZM505.38,35.52 L506.01,31.67 L505.02,31.81 L507.04,28.80 L507.98,32.30 L507.10,31.85 L506.46,35.69ZM505.38,43.82 L506.01,39.97 L505.02,40.11 L507.04,37.10 L507.98,40.60 L507.10,40.15 L506.46,43.99ZM505.38,52.12 L506.01,48.27 L505.02,48.41 L507.04,45.40 L507.98,48.90 L507.10,48.45 L506.46,52.29ZM505.38,60.42 L506.01,56.57 L505.02,56.71 L507.04,53.70 L507.98,57.20 L507.10,56.75 L506.46,60.59ZM505.38,68.72 L506.01,64.87 L505.02,65.01 L507.04,62.00 L507.98,65.50 L507.10,65.05 L506.46,68.89ZM505.38,77.02 L506.01,73.17 L505.02,73.31 L507.04,70.30 L507.98,73.80 L507.10,73.35 L506.46,77.19ZM505.38,85.32 L506.01,81.47 L505.02,81.61 L507.04,78.60 L507.98,82.10 L507.10,81.65 L506.46,85.49ZM506.46,86.81 L507.10,90.65 L507.98,90.20 L507.04,93.70 L505.02,90.69 L506.01,90.83 L505.38,86.98ZM506.46,95.11 L507.10,98.95 L507.98,98.50 L507.04,102.00 L505.02,98.99 L506.01,99.13 L505.38,95.28ZM506.46,103.41 L507.10,107.25 L507.98,106.80 L507.04,110.30 L505.02,107.29 L506.01,107.43 L505.38,103.58ZM506.46,111.71 L507.10,115.55 L507.98,115.10 L507.04,118.60 L505.02,115.59 L506.01,115.73 L505.38,111.88ZM506.46,120.01 L507.10,123.85 L507.98,123.40 L507.04,126.90 L505.02,123.89 L506.01,124.03 L505.38,120.18ZM506.46,128.31 L507.10,132.15 L507.98,131.70 L507.04,135.20 L505.02,132.19 L506.01,132.33 L505.38,128.48ZM506.46,136.61 L507.10,140.45 L507.98,140.00 L507.04,143.50 L505.02,140.49 L506.01,140.63 L505.38,136.78ZM506.46,144.91 L507.10,148.75 L507.98,148.30 L507.04,151.80 L505.02,148.79 L506.01,148.93 L505.38,145.08ZM506.46,153.21 L507.10,157.05 L507.98,156.60 L507.04,160.10 L505.02,157.09 L506.01,157.23 L505.38,153.38ZM512.05,18.95 L512.55,15.08 L511.57,15.26 L513.49,12.18 L514.55,15.65 L513.64,15.23 L513.14,19.09ZM512.05,27.25 L512.55,23.38 L511.57,23.56 L513.49,20.48 L514.55,23.95 L513.64,23.53 L513.14,27.39ZM512.05,35.55 L512.55,31.68 L511.57,31.86 L513.49,28.78 L514.55,32.25 L513.64,31.83 L513.14,35.69ZM512.05,43.85 L512.55,39.98 L511.57,40.16 L513.49,37.08 L514.55,40.55 L513.64,40.13 L513.14,43.99ZM512.05,52.15 L512.55,48.28 L511.57,48.46 L513.49,45.38 L514.55,48.85 L513.64,48.43 L513.14,52.29ZM512.05,60.45 L512.55,56.58 L511.57,56.76 L513.49,53.68 L514.55,57.15 L513.64,56.73 L513.14,60.59ZM512.05,68.75 L512.55,64.88 L511.57,65.06 L513.49,61.98 L514.55,65.45 L513.64,65.03 L513.14,68.89ZM512.05,77.05 L512.55,73.18 L511.57,73.36 L513.49,70.28 L514.55,73.75 L513.64,73.33 L513.14,77.19ZM512.05,85.35 L512.55,81.48 L511.57,81.66 L513.49,78.58 L514.55,82.05 L513.64,81.63 L513.14,85.49ZM513.14,86.81 L513.64,90.67 L514.55,90.25 L513.49,93.72 L511.57,90.64 L512.55,90.82 L512.05,86.95ZM513.14,95.11 L513.64,98.97 L514.55,98.55 L513.49,102.02 L511.57,98.94 L512.55,99.12 L512.05,95.25ZM513.14,103.41 L513.64,107.27 L514.55,106.85 L513.49,110.32 L511.57,107.24 L512.55,107.42 L512.05,103.55ZM513.14,111.71 L513.64,115.57 L514.55,115.15 L513.49,118.62 L511.57,115.54 L512.55,115.72 L512.05,111.85ZM513.14,120.01 L513.64,123.87 L514.55,123.45 L513.49,126.92 L511.57,123.84 L512.55,124.02 L512.05,120.15ZM513.14,128.31 L513.64,132.17 L514.55,131.75 L513.49,135.22 L511.57,132.14 L512.55,132.32 L512.05,128.45ZM513.14,136.61 L513.64,140.47 L514.55,140.05 L513.49,143.52 L511.57,140.44 L512.55,140.62 L512.05,136.75ZM513.14,144.91 L513.64,148.77 L514.55,148.35 L513.49,151.82 L511.57,148.74 L512.55,148.92 L512.05,145.05ZM513.14,153.21 L513.64,157.07 L514.55,156.65 L513.49,160.12 L511.57,157.04 L512.55,157.22 L512.05,153.35ZM518.72,18.98 L519.10,15.10 L518.12,15.31 L519.93,12.17 L521.11,15.60 L520.19,15.21 L519.81,19.09ZM518.72,27.28 L519.10,23.40 L518.12,23.61 L519.93,20.47 L521.11,23.90 L520.19,23.51 L519.81,27.39ZM518.72,35.58 L519.10,31.70 L518.12,31.91 L519.93,28.77 L521.11,32.20 L520.19,31.81 L519.81,35.69ZM518.72,43.88 L519.10,40.00 L518.12,40.21 L519.93,37.07 L521.11,40.50 L520.19,40.11 L519.81,43.99ZM518.72,52.18 L519.10,48.30 L518.12,48.51 L519.93,45.37 L521.11,48.80 L520.19,48.41 L519.81,52.29ZM518.72,60.48 L519.10,56.60 L518.12,56.81 L519.93,53.67 L521.11,57.10 L520.19,56.71 L519.81,60.59ZM518.72,68.78 L519.10,64.90 L518.12,65.11 L519.93,61.97 L521.11,65.40 L520.19,65.01 L519.81,68.89ZM518.72,77.08 L519.10,73.20 L518.12,73.41 L519.93,70.27 L521.11,73.70 L520.19,73.31 L519.81,77.19ZM518.72,85.38 L519.10,81.50 L518.12,81.71 L519.93,78.57 L521.11,82.00 L520.19,81.61 L519.81,85.49ZM519.81,86.81 L520.19,90.69 L521.11,90.30 L519.93,93.73 L518.12,90.59 L519.10,90.80 L518.72,86.92ZM519.81,95.11 L520.19,98.99 L521.11,98.60 L519.93,102.03 L518.12,98.89 L519.10,99.10 L518.72,95.22ZM519.81,103.41 L520.19,107.29 L521.11,106.90 L519.93,110.33 L518.12,107.19 L519.10,107.40 L518.72,103.52ZM519.81,111.71 L520.19,115.59 L521.11,115.20 L519.93,118.63 L518.12,115.49 L519.10,115.70 L518.72,111.82ZM519.81,120.01 L520.19,123.89 L521.11,123.50 L519.93,126.93 L518.12,123.79 L519.10,124.00 L518.72,120.12ZM519.81,128.31 L520.19,132.19 L521.11,131.80 L519.93,135.23 L518.12,132.09 L519.10,132.30 L518.72,128.42ZM519.81,136.61 L520.19,140.49 L521.11,140.10 L519.93,143.53 L518.12,140.39 L519.10,140.60 L518.72,136.72ZM519.81,144.91 L520.19,148.79 L521.11,148.40 L519.93,151.83 L518.12,148.69 L519.10,148.90 L518.72,145.02ZM519.81,153.21 L520.19,157.09 L521.11,156.70 L519.93,160.13 L518.12,156.99 L519.10,157.20 L518.72,153.32ZM525.39,19.01 L525.64,15.12 L524.67,15.35 L526.38,12.16 L527.67,15.55 L526.74,15.19 L526.49,19.08ZM525.39,27.31 L525.64,23.42 L524.67,23.65 L526.38,20.46 L527.67,23.85 L526.74,23.49 L526.49,27.38ZM525.39,35.61 L525.64,31.72 L524.67,31.95 L526.38,28.76 L527.67,32.15 L526.74,31.79 L526.49,35.68ZM525.39,43.91 L525.64,40.02 L524.67,40.25 L526.38,37.06 L527.67,40.45 L526.74,40.09 L526.49,43.98ZM525.39,52.21 L525.64,48.32 L524.67,48.55 L526.38,45.36 L527.67,48.75 L526.74,48.39 L526.49,52.28ZM525.39,60.51 L525.64,56.62 L524.67,56.85 L526.38,53.66 L527.67,57.05 L526.74,56.69 L526.49,60.58ZM525.39,68.81 L525.64,64.92 L524.67,65.15 L526.38,61.96 L527.67,65.35 L526.74,64.99 L526.49,68.88ZM525.39,77.11 L525.64,73.22 L524.67,73.45 L526.38,70.26 L527.67,73.65 L526.74,73.29 L526.49,77.18ZM525.39,85.41 L525.64,81.52 L524.67,81.75 L526.38,78.56 L527.67,81.95 L526.74,81.59 L526.49,85.48ZM526.49,86.82 L526.74,90.71 L527.67,90.35 L526.38,93.74 L524.67,90.55 L525.64,90.78 L525.39,86.89ZM526.49,95.12 L526.74,99.01 L527.67,98.65 L526.38,102.04 L524.67,98.85 L525.64,99.08 L525.39,95.19ZM526.49,103.42 L526.74,107.31 L527.67,106.95 L526.38,110.34 L524.67,107.15 L525.64,107.38 L525.39,103.49ZM526.49,111.72 L526.74,115.61 L527.67,115.25 L526.38,118.64 L524.67,115.45 L525.64,115.68 L525.39,111.79ZM526.49,120.02 L526.74,123.91 L527.67,123.55 L526.38,126.94 L524.67,123.75 L525.64,123.98 L525.39,120.09ZM526.49,128.32 L526.74,132.21 L527.67,131.85 L526.38,135.24 L524.67,132.05 L525.64,132.28 L525.39,128.39ZM526.49,136.62 L526.74,140.51 L527.67,140.15 L526.38,143.54 L524.67,140.35 L525.64,140.58 L525.39,136.69ZM526.49,144.92 L526.74,148.81 L527.67,148.45 L526.38,151.84 L524.67,148.65 L525.64,148.88 L525.39,144.99ZM526.49,153.22 L526.74,157.11 L527.67,156.75 L526.38,160.14 L524.67,156.95 L525.64,157.18 L525.39,153.29ZM532.06,19.03 L532.18,15.13 L531.23,15.40 L532.83,12.15 L534.22,15.50 L533.28,15.17 L533.16,19.07ZM532.06,27.33 L532.18,23.43 L531.23,23.70 L532.83,20.45 L534.22,23.80 L533.28,23.47 L533.16,27.37ZM532.06,35.63 L532.18,31.73 L531.23,32.00 L532.83,28.75 L534.22,32.10 L533.28,31.77 L533.16,35.67ZM532.06,43.93 L532.18,40.03 L531.23,40.30 L532.83,37.05 L534.22,40.40 L533.28,40.07 L533.16,43.97ZM532.06,52.23 L532.18,48.33 L531.23,48.60 L532.83,45.35 L534.22,48.70 L533.28,48.37 L533.16,52.27ZM532.06,60.53 L532.18,56.63 L531.23,56.90 L532.83,53.65 L534.22,57.00 L533.28,56.67 L533.16,60.57ZM532.06,68.83 L532.18,64.93 L531.23,65.20 L532.83,61.95 L534.22,65.30 L533.28,64.97 L533.16,68.87ZM532.06,77.13 L532.18,73.23 L531.23,73.50 L532.83,70.25 L534.22,73.60 L533.28,73.27 L533.16,77.17ZM532.06,85.43 L532.18,81.53 L531.23,81.80 L532.83,78.55 L534.22,81.90 L533.28,81.57 L533.16,85.47ZM533.16,86.83 L533.28,90.73 L534.22,90.40 L532.83,93.75 L531.23,90.50 L532.18,90.77 L532.06,86.87ZM533.16,95.13 L533.28,99.03 L534.22,98.70 L532.83,102.05 L531.23,98.80 L532.18,99.07 L532.06,95.17ZM533.16,103.43 L533.28,107.33 L534.22,107.00 L532.83,110.35 L531.23,107.10 L532.18,107.37 L532.06,103.47ZM533.16,111.73 L533.28,115.63 L534.22,115.30 L532.83,118.65 L531.23,115.40 L532.18,115.67 L532.06,111.77ZM533.16,120.03 L533.28,123.93 L534.22,123.60 L532.83,126.95 L531.23,123.70 L532.18,123.97 L532.06,120.07ZM533.16,128.33 L533.28,132.23 L534.22,131.90 L532.83,135.25 L531.23,132.00 L532.18,132.27 L532.06,128.37ZM533.16,136.63 L533.28,140.53 L534.22,140.20 L532.83,143.55 L531.23,140.30 L532.18,140.57 L532.06,136.67ZM533.16,144.93 L533.28,148.83 L534.22,148.50 L532.83,151.85 L531.23,148.60 L532.18,148.87 L532.06,144.97ZM533.16,153.23 L533.28,157.13 L534.22,156.80 L532.83,160.15 L531.23,156.90 L532.18,157.17 L532.06,153.27ZM538.73,19.05 L538.73,15.15 L537.78,15.45 L539.28,12.15 L540.78,15.45 L539.83,15.15 L539.83,19.05ZM538.73,27.35 L538.73,23.45 L537.78,23.75 L539.28,20.45 L540.78,23.75 L539.83,23.45 L539.83,27.35ZM538.73,35.65 L538.73,31.75 L537.78,32.05 L539.28,28.75 L540.78,32.05 L539.83,31.75 L539.83,35.65ZM538.73,43.95 L538.73,40.05 L537.78,40.35 L539.28,37.05 L540.78,40.35 L539.83,40.05 L539.83,43.95ZM538.73,52.25 L538.73,48.35 L537.78,48.65 L539.28,45.35 L540.78,48.65 L539.83,48.35 L539.83,52.25ZM538.73,60.55 L538.73,56.65 L537.78,56.95 L539.28,53.65 L540.78,56.95 L539.83,56.65 L539.83,60.55ZM538.73,68.85 L538.73,64.95 L537.78,65.25 L539.28,61.95 L540.78,65.25 L539.83,64.95 L539.83,68.85ZM538.73,77.15 L538.73,73.25 L537.78,73.55 L539.28,70.25 L540.78,73.55 L539.83,73.25 L539.83,77.15ZM538.73,85.45 L538.73,81.55 L537.78,81.85 L539.28,78.55 L540.78,81.85 L539.83,81.55 L539.83,85.45ZM539.83,86.85 L539.83,90.75 L540.78,90.45 L539.28,93.75 L537.78,90.45 L538.73,90.75 L538.73,86.85ZM539.83,95.15 L539.83,99.05 L540.78,98.75 L539.28,102.05 L537.78,98.75 L538.73,99.05 L538.73,95.15ZM539.83,103.45 L539.83,107.35 L540.78,107.05 L539.28,110.35 L537.78,107.05 L538.73,107.35 L538.73,103.45ZM539.83,111.75 L539.83,115.65 L540.78,115.35 L539.28,118.65 L537.78,115.35 L538.73,115.65 L538.73,111.75ZM539.83,120.05 L539.83,123.95 L540.78,123.65 L539.28,126.95 L537.78,123.65 L538.73,123.95 L538.73,120.05ZM539.83,128.35 L539.83,132.25 L540.78,131.95 L539.28,135.25 L537.78,131.95 L538.73,132.25 L538.73,128.35ZM539.83,136.65 L539.83,140.55 L540.78,140.25 L539.28,143.55 L537.78,140.25 L538.73,140.55 L538.73,136.65ZM539.83,144.95 L539.83,148.85 L540.78,148.55 L539.28,151.85 L537.78,148.55 L538.73,148.85 L538.73,144.95ZM539.83,153.25 L539.83,157.15 L540.78,156.85 L539.28,160.15 L537.78,156.85 L538.73,157.15 L538.73,153.25ZM545.29,19.05 L545.29,15.15 L544.34,15.45 L545.84,12.15 L547.34,15.45 L546.39,15.15 L546.39,19.05ZM545.29,27.35 L545.29,23.45 L544.34,23.75 L545.84,20.45 L547.34,23.75 L546.39,23.45 L546.39,27.35ZM545.29,35.65 L545.29,31.75 L544.34,32.05 L545.84,28.75 L547.34,32.05 L546.39,31.75 L546.39,35.65ZM545.29,43.95 L545.29,40.05 L544.34,40.35 L545.84,37.05 L547.34,40.35 L546.39,40.05 L546.39,43.95ZM545.29,52.25 L545.29,48.35 L544.34,48.65 L545.84,45.35 L547.34,48.65 L546.39,48.35 L546.39,52.25ZM545.29,60.55 L545.29,56.65 L544.34,56.95 L545.84,53.65 L547.34,56.95 L546.39,56.65 L546.39,60.55ZM545.29,68.85 L545.29,64.95 L544.34,65.25 L545.84,61.95 L547.34,65.25 L546.39,64.95 L546.39,68.85ZM545.29,77.15 L545.29,73.25 L544.34,73.55 L545.84,70.25 L547.34,73.55 L546.39,73.25 L546.39,77.15ZM545.29,85.45 L545.29,81.55 L544.34,81.85 L545.84,78.55 L547.34,81.85 L546.39,81.55 L546.39,85.45ZM546.39,86.85 L546.39,90.75 L547.34,90.45 L545.84,93.75 L544.34,90.45 L545.29,90.75 L545.29,86.85ZM546.39,95.15 L546.39,99.05 L547.34,98.75 L545.84,102.05 L544.34,98.75 L545.29,99.05 L545.29,95.15ZM546.39,103.45 L546.39,107.35 L547.34,107.05 L545.84,110.35 L544.34,107.05 L545.29,107.35 L545.29,103.45ZM546.39,111.75 L546.39,115.65 L547.34,115.35 L545.84,118.65 L544.34,115.35 L545.29,115.65 L545.29,111.75ZM546.39,120.05 L546.39,123.95 L547.34,123.65 L545.84,126.95 L544.34,123.65 L545.29,123.95 L545.29,120.05ZM546.39,128.35 L546.39,132.25 L547.34,131.95 L545.84,135.25 L544.34,131.95 L545.29,132.25 L545.29,128.35ZM546.39,136.65 L546.39,140.55 L547.34,140.25 L545.84,143.55 L544.34,140.25 L545.29,140.55 L545.29,136.65ZM546.39,144.95 L546.39,148.85 L547.34,148.55 L545.84,151.85 L544.34,148.55 L545.29,148.85 L545.29,144.95ZM546.39,153.25 L546.39,157.15 L547.34,156.85 L545.84,160.15 L544.34,156.85 L545.29,157.15 L545.29,153.25ZM551.85,19.05 L551.85,15.15 L550.90,15.45 L552.40,12.15 L553.90,15.45 L552.95,15.15 L552.95,19.05ZM551.85,27.35 L551.85,23.45 L550.90,23.75 L552.40,20.45 L553.90,23.75 L552.95,23.45 L552.95,27.35ZM551.85,35.65 L551.85,31.75 L550.90,32.05 L552.40,28.75 L553.90,32.05 L552.95,31.75 L552.95,35.65ZM551.85,43.95 L551.85,40.05 L550.90,40.35 L552.40,37.05 L553.90,40.35 L552.95,40.05 L552.95,43.95ZM551.85,52.25 L551.85,48.35 L550.90,48.65 L552.40,45.35 L553.90,48.65 L552.95,48.35 L552.95,52.25ZM551.85,60.55 L551.85,56.65 L550.90,56.95 L552.40,53.65 L553.90,56.95 L552.95,56.65 L552.95,60.55ZM551.85,68.85 L551.85,64.95 L550.90,65.25 L552.40,61.95 L553.90,65.25 L552.95,64.95 L552.95,68.85ZM551.85,77.15 L551.85,73.25 L550.90,73.55 L552.40,70.25 L553.90,73.55 L552.95,73.25 L552.95,77.15ZM551.85,85.45 L551.85,81.55 L550.90,81.85 L552.40,78.55 L553.90,81.85 L552.95,81.55 L552.95,85.45ZM552.95,86.85 L552.95,90.75 L553.90,90.45 L552.40,93.75 L550.90,90.45 L551.85,90.75 L551.85,86.85ZM552.95,95.15 L552.95,99.05 L553.90,98.75 L552.40,102.05 L550.90,98.75 L551.85,99.05 L551.85,95.15ZM552.95,103.45 L552.95,107.35 L553.90,107.05 L552.40,110.35 L550.90,107.05 L551.85,107.35 L551.85,103.45ZM552.95,111.75 L552.95,115.65 L553.90,115.35 L552.40,118.65 L550.90,115.35 L551.85,115.65 L551.85,111.75ZM552.95,120.05 L552.95,123.95 L553.90,123.65 L552.40,126.95 L550.90,123.65 L551.85,123.95 L551.85,120.05ZM552.95,128.35 L552.95,132.25 L553.90,131.95 L552.40,135.25 L550.90,131.95 L551.85,132.25 L551.85,128.35ZM552.95,136.65 L552.95,140.55 L553.90,140.25 L552.40,143.55 L550.90,140.25 L551.85,140.55 L551.85,136.65ZM552.95,144.95 L552.95,148.85 L553.90,148.55 L552.40,151.85 L550.90,148.55 L551.85,148.85 L551.85,144.95ZM552.95,153.25 L552.95,157.15 L553.90,156.85 L552.40,160.15 L550.90,156.85 L551.85,157.15 L551.85,153.25ZM558.41,19.05 L558.41,15.15 L557.46,15.45 L558.96,12.15 L560.46,15.45 L559.51,15.15 L559.51,19.05ZM558.41,27.35 L558.41,23.45 L557.46,23.75 L558.96,20.45 L560.46,23.75 L559.51,23.45 L559.51,27.35ZM558.41,35.65 L558.41,31.75 L557.46,32.05 L558.96,28.75 L560.46,32.05 L559.51,31.75 L559.51,35.65ZM558.41,43.95 L558.41,40.05 L557.46,40.35 L558.96,37.05 L560.46,40.35 L559.51,40.05 L559.51,43.95ZM558.41,52.25 L558.41,48.35 L557.46,48.65 L558.96,45.35 L560.46,48.65 L559.51,48.35 L559.51,52.25ZM558.41,60.55 L558.41,56.65 L557.46,56.95 L558.96,53.65 L560.46,56.95 L559.51,56.65 L559.51,60.55ZM558.41,68.85 L558.41,64.95 L557.46,65.25 L558.96,61.95 L560.46,65.25 L559.51,64.95 L559.51,68.85ZM558.41,77.15 L558.41,73.25 L557.46,73.55 L558.96,70.25 L560.46,73.55 L559.51,73.25 L559.51,77.15ZM558.41,85.45 L558.41,81.55 L557.46,81.85 L558.96,78.55 L560.46,81.85 L559.51,81.55 L559.51,85.45ZM559.51,86.85 L559.51,90.75 L560.46,90.45 L558.96,93.75 L557.46,90.45 L558.41,90.75 L558.41,86.85ZM559.51,95.15 L559.51,99.05 L560.46,98.75 L558.96,102.05 L557.46,98.75 L558.41,99.05 L558.41,95.15ZM559.51,103.45 L559.51,107.35 L560.46,107.05 L558.96,110.35 L557.46,107.05 L558.41,107.35 L558.41,103.45ZM559.51,111.75 L559.51,115.65 L560.46,115.35 L558.96,118.65 L557.46,115.35 L558.41,115.65 L558.41,111.75ZM559.51,120.05 L559.51,123.95 L560.46,123.65 L558.96,126.95 L557.46,123.65 L558.41,123.95 L558.41,120.05ZM559.51,128.35 L559.51,132.25 L560.46,131.95 L558.96,135.25 L557.46,131.95 L558.41,132.25 L558.41,128.35ZM559.51,136.65 L559.51,140.55 L560.46,140.25 L558.96,143.55 L557.46,140.25 L558.41,140.55 L558.41,136.65ZM559.51,144.95 L559.51,148.85 L560.46,148.55 L558.96,151.85 L557.46,148.55 L558.41,148.85 L558.41,144.95ZM559.51,153.25 L559.51,157.15 L560.46,156.85 L558.96,160.15 L557.46,156.85 L558.41,157.15 L558.41,153.25ZM564.97,19.05 L564.97,15.15 L564.02,15.45 L565.52,12.15 L567.02,15.45 L566.07,15.15 L566.07,19.05ZM564.97,27.35 L564.97,23.45 L564.02,23.75 L565.52,20.45 L567.02,23.75 L566.07,23.45 L566.07,27.35ZM564.97,35.65 L564.97,31.75 L564.02,32.05 L565.52,28.75 L567.02,32.05 L566.07,31.75 L566.07,35.65ZM564.97,43.95 L564.97,40.05 L564.02,40.35 L565.52,37.05 L567.02,40.35 L566.07,40.05 L566.07,43.95ZM564.97,52.25 L564.97,48.35 L564.02,48.65 L565.52,45.35 L567.02,48.65 L566.07,48.35 L566.07,52.25ZM564.97,60.55 L564.97,56.65 L564.02,56.95 L565.52,53.65 L567.02,56.95 L566.07,56.65 L566.07,60.55ZM564.97,68.85 L564.97,64.95 L564.02,65.25 L565.52,61.95 L567.02,65.25 L566.07,64.95 L566.07,68.85ZM564.97,77.15 L564.97,73.25 L564.02,73.55 L565.52,70.25 L567.02,73.55 L566.07,73.25 L566.07,77.15ZM564.97,85.45 L564.97,81.55 L564.02,81.85 L565.52,78.55 L567.02,81.85 L566.07,81.55 L566.07,85.45ZM566.07,86.85 L566.07,90.75 L567.02,90.45 L565.52,93.75 L564.02,90.45 L564.97,90.75 L564.97,86.85ZM566.07,95.15 L566.07,99.05 L567.02,98.75 L565.52,102.05 L564.02,98.75 L564.97,99.05 L564.97,95.15ZM566.07,103.45 L566.07,107.35 L567.02,107.05 L565.52,110.35 L564.02,107.05 L564.97,107.35 L564.97,103.45ZM566.07,111.75 L566.07,115.65 L567.02,115.35 L565.52,118.65 L564.02,115.35 L564.97,115.65 L564.97,111.75ZM566.07,120.05 L566.07,123.95 L567.02,123.65 L565.52,126.95 L564.02,123.65 L564.97,123.95 L564.97,120.05ZM566.07,128.35 L566.07,132.25 L567.02,131.95 L565.52,135.25 L564.02,131.95 L564.97,132.25 L564.97,128.35ZM566.07,136.65 L566.07,140.55 L567.02,140.25 L565.52,143.55 L564.02,140.25 L564.97,140.55 L564.97,136.65ZM566.07,144.95 L566.07,148.85 L567.02,148.55 L565.52,151.85 L564.02,148.55 L564.97,148.85 L564.97,144.95ZM566.07,153.25 L566.07,157.15 L567.02,156.85 L565.52,160.15 L564.02,156.85 L564.97,157.15 L564.97,153.25ZM571.53,19.05 L571.53,15.15 L570.58,15.45 L572.08,12.15 L573.58,15.45 L572.63,15.15 L572.63,19.05ZM571.53,27.35 L571.53,23.45 L570.58,23.75 L572.08,20.45 L573.58,23.75 L572.63,23.45 L572.63,27.35ZM571.53,35.65 L571.53,31.75 L570.58,32.05 L572.08,28.75 L573.58,32.05 L572.63,31.75 L572.63,35.65ZM571.53,43.95 L571.53,40.05 L570.58,40.35 L572.08,37.05 L573.58,40.35 L572.63,40.05 L572.63,43.95ZM571.53,52.25 L571.53,48.35 L570.58,48.65 L572.08,45.35 L573.58,48.65 L572.63,48.35 L572.63,52.25ZM571.53,60.55 L571.53,56.65 L570.58,56.95 L572.08,53.65 L573.58,56.95 L572.63,56.65 L572.63,60.55ZM571.53,68.85 L571.53,64.95 L570.58,65.25 L572.08,61.95 L573.58,65.25 L572.63,64.95 L572.63,68.85ZM571.53,77.15 L571.53,73.25 L570.58,73.55 L572.08,70.25 L573.58,73.55 L572.63,73.25 L572.63,77.15ZM571.53,85.45 L571.53,81.55 L570.58,81.85 L572.08,78.55 L573.58,81.85 L572.63,81.55 L572.63,85.45ZM572.63,86.85 L572.63,90.75 L573.58,90.45 L572.08,93.75 L570.58,90.45 L571.53,90.75 L571.53,86.85ZM572.63,95.15 L572.63,99.05 L573.58,98.75 L572.08,102.05 L570.58,98.75 L571.53,99.05 L571.53,95.15ZM572.63,103.45 L572.63,107.35 L573.58,107.05 L572.08,110.35 L570.58,107.05 L571.53,107.35 L571.53,103.45ZM572.63,111.75 L572.63,115.65 L573.58,115.35 L572.08,118.65 L570.58,115.35 L571.53,115.65 L571.53,111.75ZM572.63,120.05 L572.63,123.95 L573.58,123.65 L572.08,126.95 L570.58,123.65 L571.53,123.95 L571.53,120.05ZM572.63,128.35 L572.63,132.25 L573.58,131.95 L572.08,135.25 L570.58,131.95 L571.53,132.25 L571.53,128.35ZM572.63,136.65 L572.63,140.55 L573.58,140.25 L572.08,143.55 L570.58,140.25 L571.53,140.55 L571.53,136.65ZM572.63,144.95 L572.63,148.85 L573.58,148.55 L572.08,151.85 L570.58,148.55 L571.53,148.85 L571.53,144.95ZM572.63,153.25 L572.63,157.15 L573.58,156.85 L572.08,160.15 L570.58,156.85 L571.53,157.15 L571.53,153.25ZM578.09,19.05 L578.09,15.15 L577.14,15.45 L578.64,12.15 L580.14,15.45 L579.19,15.15 L579.19,19.05ZM578.09,27.35 L578.09,23.45 L577.14,23.75 L578.64,20.45 L580.14,23.75 L579.19,23.45 L579.19,27.35ZM578.09,35.65 L578.09,31.75 L577.14,32.05 L578.64,28.75 L580.14,32.05 L579.19,31.75 L579.19,35.65ZM578.09,43.95 L578.09,40.05 L577.14,40.35 L578.64,37.05 L580.14,40.35 L579.19,40.05 L579.19,43.95ZM578.09,52.25 L578.09,48.35 L577.14,48.65 L578.64,45.35 L580.14,48.65 L579.19,48.35 L579.19,52.25ZM578.09,60.55 L578.09,56.65 L577.14,56.95 L578.64,53.65 L580.14,56.95 L579.19,56.65 L579.19,60.55ZM578.09,68.85 L578.09,64.95 L577.14,65.25 L578.64,61.95 L580.14,65.25 L579.19,64.95 L579.19,68.85ZM578.09,77.15 L578.09,73.25 L577.14,73.55 L578.64,70.25 L580.14,73.55 L579.19,73.25 L579.19,77.15ZM578.09,85.45 L578.09,81.55 L577.14,81.85 L578.64,78.55 L580.14,81.85 L579.19,81.55 L579.19,85.45ZM579.19,86.85 L579.19,90.75 L580.14,90.45 L578.64,93.75 L577.14,90.45 L578.09,90.75 L578.09,86.85ZM579.19,95.15 L579.19,99.05 L580.14,98.75 L578.64,102.05 L577.14,98.75 L578.09,99.05 L578.09,95.15ZM579.19,103.45 L579.19,107.35 L580.14,107.05 L578.64,110.35 L577.14,107.05 L578.09,107.35 L578.09,103.45ZM579.19,111.75 L579.19,115.65 L580.14,115.35 L578.64,118.65 L577.14,115.35 L578.09,115.65 L578.09,111.75ZM579.19,120.05 L579.19,123.95 L580.14,123.65 L578.64,126.95 L577.14,123.65 L578.09,123.95 L578.09,120.05ZM579.19,128.35 L579.19,132.25 L580.14,131.95 L578.64,135.25 L577.14,131.95 L578.09,132.25 L578.09,128.35ZM579.19,136.65 L579.19,140.55 L580.14,140.25 L578.64,143.55 L577.14,140.25 L578.09,140.55 L578.09,136.65ZM579.19,144.95 L579.19,148.85 L580.14,148.55 L578.64,151.85 L577.14,148.55 L578.09,148.85 L578.09,144.95ZM579.19,153.25 L579.19,157.15 L580.14,156.85 L578.64,160.15 L577.14,156.85 L578.09,157.15 L578.09,153.25ZM584.65,19.05 L584.65,15.15 L583.70,15.45 L585.20,12.15 L586.70,15.45 L585.75,15.15 L585.75,19.05ZM584.65,27.35 L584.65,23.45 L583.70,23.75 L585.20,20.45 L586.70,23.75 L585.75,23.45 L585.75,27.35ZM584.65,35.65 L584.65,31.75 L583.70,32.05 L585.20,28.75 L586.70,32.05 L585.75,31.75 L585.75,35.65ZM584.65,43.95 L584.65,40.05 L583.70,40.35 L585.20,37.05 L586.70,40.35 L585.75,40.05 L585.75,43.95ZM584.65,52.25 L584.65,48.35 L583.70,48.65 L585.20,45.35 L586.70,48.65 L585.75,48.35 L585.75,52.25ZM584.65,60.55 L584.65,56.65 L583.70,56.95 L585.20,53.65 L586.70,56.95 L585.75,56.65 L585.75,60.55ZM584.65,68.85 L584.65,64.95 L583.70,65.25 L585.20,61.95 L586.70,65.25 L585.75,64.95 L585.75,68.85ZM584.65,77.15 L584.65,73.25 L583.70,73.55 L585.20,70.25 L586.70,73.55 L585.75,73.25 L585.75,77.15ZM584.65,85.45 L584.65,81.55 L583.70,81.85 L585.20,78.55 L586.70,81.85 L585.75,81.55 L585.75,85.45ZM585.75,86.85 L585.75,90.75 L586.70,90.45 L585.20,93.75 L583.70,90.45 L584.65,90.75 L584.65,86.85ZM585.75,95.15 L585.75,99.05 L586.70,98.75 L585.20,102.05 L583.70,98.75 L584.65,99.05 L584.65,95.15ZM585.75,103.45 L585.75,107.35 L586.70,107.05 L585.20,110.35 L583.70,107.05 L584.65,107.35 L584.65,103.45ZM585.75,111.75 L585.75,115.65 L586.70,115.35 L585.20,118.65 L583.70,115.35 L584.65,115.65 L584.65,111.75ZM585.75,120.05 L585.75,123.95 L586.70,123.65 L585.20,126.95 L583.70,123.65 L584.65,123.95 L584.65,120.05ZM585.75,128.35 L585.75,132.25 L586.70,131.95 L585.20,135.25 L583.70,131.95 L584.65,132.25 L584.65,128.35ZM585.75,136.65 L585.75,140.55 L586.70,140.25 L585.20,143.55 L583.70,140.25 L584.65,140.55 L584.65,136.65ZM585.75,144.95 L585.75,148.85 L586.70,148.55 L585.20,151.85 L583.70,148.55 L584.65,148.85 L584.65,144.95ZM585.75,153.25 L585.75,157.15 L586.70,156.85 L585.20,160.15 L583.70,156.85 L584.65,157.15 L584.65,153.25ZM591.21,19.05 L591.21,15.15 L590.26,15.45 L591.76,12.15 L593.26,15.45 L592.31,15.15 L592.31,19.05ZM591.21,27.35 L591.21,23.45 L590.26,23.75 L591.76,20.45 L593.26,23.75 L592.31,23.45 L592.31,27.35ZM591.21,35.65 L591.21,31.75 L590.26,32.05 L591.76,28.75 L593.26,32.05 L592.31,31.75 L592.31,35.65ZM591.21,43.95 L591.21,40.05 L590.26,40.35 L591.76,37.05 L593.26,40.35 L592.31,40.05 L592.31,43.95ZM591.21,52.25 L591.21,48.35 L590.26,48.65 L591.76,45.35 L593.26,48.65 L592.31,48.35 L592.31,52.25ZM591.21,60.55 L591.21,56.65 L590.26,56.95 L591.76,53.65 L593.26,56.95 L592.31,56.65 L592.31,60.55ZM591.21,68.85 L591.21,64.95 L590.26,65.25 L591.76,61.95 L593.26,65.25 L592.31,64.95 L592.31,68.85ZM591.21,77.15 L591.21,73.25 L590.26,73.55 L591.76,70.25 L593.26,73.55 L592.31,73.25 L592.31,77.15ZM591.21,85.45 L591.21,81.55 L590.26,81.85 L591.76,78.55 L593.26,81.85 L592.31,81.55 L592.31,85.45ZM592.31,86.85 L592.31,90.75 L593.26,90.45 L591.76,93.75 L590.26,90.45 L591.21,90.75 L591.21,86.85ZM592.31,95.15 L592.31,99.05 L593.26,98.75 L591.76,102.05 L590.26,98.75 L591.21,99.05 L591.21,95.15ZM592.31,103.45 L592.31,107.35 L593.26,107.05 L591.76,110.35 L590.26,107.05 L591.21,107.35 L591.21,103.45ZM592.31,111.75 L592.31,115.65 L593.26,115.35 L591.76,118.65 L590.26,115.35 L591.21,115.65 L591.21,111.75ZM592.31,120.05 L592.31,123.95 L593.26,123.65 L591.76,126.95 L590.26,123.65 L591.21,123.95 L591.21,120.05ZM592.31,128.35 L592.31,132.25 L593.26,131.95 L591.76,135.25 L590.26,131.95 L591.21,132.25 L591.21,128.35ZM592.31,136.65 L592.31,140.55 L593.26,140.25 L591.76,143.55 L590.26,140.25 L591.21,140.55 L591.21,136.65ZM592.31,144.95 L592.31,148.85 L593.26,148.55 L591.76,151.85 L590.26,148.55 L591.21,148.85 L591.21,144.95ZM592.31,153.25 L592.31,157.15 L593.26,156.85 L591.76,160.15 L590.26,156.85 L591.21,157.15 L591.21,153.25ZM597.77,19.05 L597.77,15.15 L596.82,15.45 L598.32,12.15 L599.82,15.45 L598.87,15.15 L598.87,19.05ZM597.77,27.35 L597.77,23.45 L596.82,23.75 L598.32,20.45 L599.82,23.75 L598.87,23.45 L598.87,27.35ZM597.77,35.65 L597.77,31.75 L596.82,32.05 L598.32,28.75 L599.82,32.05 L598.87,31.75 L598.87,35.65ZM597.77,43.95 L597.77,40.05 L596.82,40.35 L598.32,37.05 L599.82,40.35 L598.87,40.05 L598.87,43.95ZM597.77,52.25 L597.77,48.35 L596.82,48.65 L598.32,45.35 L599.82,48.65 L598.87,48.35 L598.87,52.25ZM597.77,60.55 L597.77,56.65 L596.82,56.95 L598.32,53.65 L599.82,56.95 L598.87,56.65 L598.87,60.55ZM597.77,68.85 L597.77,64.95 L596.82,65.25 L598.32,61.95 L599.82,65.25 L598.87,64.95 L598.87,68.85ZM597.77,77.15 L597.77,73.25 L596.82,73.55 L598.32,70.25 L599.82,73.55 L598.87,73.25 L598.87,77.15ZM597.77,85.45 L597.77,81.55 L596.82,81.85 L598.32,78.55 L599.82,81.85 L598.87,81.55 L598.87,85.45ZM598.87,86.85 L598.87,90.75 L599.82,90.45 L598.32,93.75 L596.82,90.45 L597.77,90.75 L597.77,86.85ZM598.87,95.15 L598.87,99.05 L599.82,98.75 L598.32,102.05 L596.82,98.75 L597.77,99.05 L597.77,95.15ZM598.87,103.45 L598.87,107.35 L599.82,107.05 L598.32,110.35 L596.82,107.05 L597.77,107.35 L597.77,103.45ZM598.87,111.75 L598.87,115.65 L599.82,115.35 L598.32,118.65 L596.82,115.35 L597.77,115.65 L597.77,111.75ZM598.87,120.05 L598.87,123.95 L599.82,123.65 L598.32,126.95 L596.82,123.65 L597.77,123.95 L597.77,120.05ZM598.87,128.35 L598.87,132.25 L599.82,131.95 L598.32,135.25 L596.82,131.95 L597.77,132.25 L597.77,128.35ZM598.87,136.65 L598.87,140.55 L599.82,140.25 L598.32,143.55 L596.82,140.25 L597.77,140.55 L597.77,136.65ZM598.87,144.95 L598.87,148.85 L599.82,148.55 L598.32,151.85 L596.82,148.55 L597.77,148.85 L597.77,144.95ZM598.87,153.25 L598.87,157.15 L599.82,156.85 L598.32,160.15 L596.82,156.85 L597.77,157.15 L597.77,153.25ZM604.44,19.07 L604.32,15.17 L603.38,15.50 L604.77,12.15 L606.37,15.40 L605.42,15.13 L605.54,19.03ZM604.44,27.37 L604.32,23.47 L603.38,23.80 L604.77,20.45 L606.37,23.70 L605.42,23.43 L605.54,27.33ZM604.44,35.67 L604.32,31.77 L603.38,32.10 L604.77,28.75 L606.37,32.00 L605.42,31.73 L605.54,35.63ZM604.44,43.97 L604.32,40.07 L603.38,40.40 L604.77,37.05 L606.37,40.30 L605.42,40.03 L605.54,43.93ZM604.44,52.27 L604.32,48.37 L603.38,48.70 L604.77,45.35 L606.37,48.60 L605.42,48.33 L605.54,52.23ZM604.44,60.57 L604.32,56.67 L603.38,57.00 L604.77,53.65 L606.37,56.90 L605.42,56.63 L605.54,60.53ZM604.44,68.87 L604.32,64.97 L603.38,65.30 L604.77,61.95 L606.37,65.20 L605.42,64.93 L605.54,68.83ZM604.44,77.17 L604.32,73.27 L603.38,73.60 L604.77,70.25 L606.37,73.50 L605.42,73.23 L605.54,77.13ZM604.44,85.47 L604.32,81.57 L603.38,81.90 L604.77,78.55 L606.37,81.80 L605.42,81.53 L605.54,85.43ZM605.54,86.87 L605.42,90.77 L606.37,90.50 L604.77,93.75 L603.38,90.40 L604.32,90.73 L604.44,86.83ZM605.54,95.17 L605.42,99.07 L606.37,98.80 L604.77,102.05 L603.38,98.70 L604.32,99.03 L604.44,95.13ZM605.54,103.47 L605.42,107.37 L606.37,107.10 L604.77,110.35 L603.38,107.00 L604.32,107.33 L604.44,103.43ZM605.54,111.77 L605.42,115.67 L606.37,115.40 L604.77,118.65 L603.38,115.30 L604.32,115.63 L604.44,111.73ZM605.54,120.07 L605.42,123.97 L606.37,123.70 L604.77,126.95 L603.38,123.60 L604.32,123.93 L604.44,120.03ZM605.54,128.37 L605.42,132.27 L606.37,132.00 L604.77,135.25 L603.38,131.90 L604.32,132.23 L604.44,128.33ZM605.54,136.67 L605.42,140.57 L606.37,140.30 L604.77,143.55 L603.38,140.20 L604.32,140.53 L604.44,136.63ZM605.54,144.97 L605.42,148.87 L606.37,148.60 L604.77,151.85 L603.38,148.50 L604.32,148.83 L604.44,144.93ZM605.54,153.27 L605.42,157.17 L606.37,156.90 L604.77,160.15 L603.38,156.80 L604.32,157.13 L604.44,153.23ZM611.11,19.08 L610.86,15.19 L609.93,15.55 L611.22,12.16 L612.93,15.35 L611.96,15.12 L612.21,19.01ZM611.11,27.38 L610.86,23.49 L609.93,23.85 L611.22,20.46 L612.93,23.65 L611.96,23.42 L612.21,27.31ZM611.11,35.68 L610.86,31.79 L609.93,32.15 L611.22,28.76 L612.93,31.95 L611.96,31.72 L612.21,35.61ZM611.11,43.98 L610.86,40.09 L609.93,40.45 L611.22,37.06 L612.93,40.25 L611.96,40.02 L612.21,43.91ZM611.11,52.28 L610.86,48.39 L609.93,48.75 L611.22,45.36 L612.93,48.55 L611.96,48.32 L612.21,52.21ZM611.11,60.58 L610.86,56.69 L609.93,57.05 L611.22,53.66 L612.93,56.85 L611.96,56.62 L612.21,60.51ZM611.11,68.88 L610.86,64.99 L609.93,65.35 L611.22,61.96 L612.93,65.15 L611.96,64.92 L612.21,68.81ZM611.11,77.18 L610.86,73.29 L609.93,73.65 L611.22,70.26 L612.93,73.45 L611.96,73.22 L612.21,77.11ZM611.11,85.48 L610.86,81.59 L609.93,81.95 L611.22,78.56 L612.93,81.75 L611.96,81.52 L612.21,85.41ZM612.21,86.89 L611.96,90.78 L612.93,90.55 L611.22,93.74 L609.93,90.35 L610.86,90.71 L611.11,86.82ZM612.21,95.19 L611.96,99.08 L612.93,98.85 L611.22,102.04 L609.93,98.65 L610.86,99.01 L611.11,95.12ZM612.21,103.49 L611.96,107.38 L612.93,107.15 L611.22,110.34 L609.93,106.95 L610.86,107.31 L611.11,103.42ZM612.21,111.79 L611.96,115.68 L612.93,115.45 L611.22,118.64 L609.93,115.25 L610.86,115.61 L611.11,111.72ZM612.21,120.09 L611.96,123.98 L612.93,123.75 L611.22,126.94 L609.93,123.55 L610.86,123.91 L611.11,120.02ZM612.21,128.39 L611.96,132.28 L612.93,132.05 L611.22,135.24 L609.93,131.85 L610.86,132.21 L611.11,128.32ZM612.21,136.69 L611.96,140.58 L612.93,140.35 L611.22,143.54 L609.93,140.15 L610.86,140.51 L611.11,136.62ZM612.21,144.99 L611.96,148.88 L612.93,148.65 L611.22,151.84 L609.93,148.45 L610.86,148.81 L611.11,144.92ZM612.21,153.29 L611.96,157.18 L612.93,156.95 L611.22,160.14 L609.93,156.75 L610.86,157.11 L611.11,153.22ZM617.79,19.09 L617.41,15.21 L616.49,15.60 L617.67,12.17 L619.48,15.31 L618.50,15.10 L618.88,18.98ZM617.79,27.39 L617.41,23.51 L616.49,23.90 L617.67,20.47 L619.48,23.61 L618.50,23.40 L618.88,27.28ZM617.79,35.69 L617.41,31.81 L616.49,32.20 L617.67,28.77 L619.48,31.91 L618.50,31.70 L618.88,35.58ZM617.79,43.99 L617.41,40.11 L616.49,40.50 L617.67,37.07 L619.48,40.21 L618.50,40.00 L618.88,43.88ZM617.79,52.29 L617.41,48.41 L616.49,48.80 L617.67,45.37 L619.48,48.51 L618.50,48.30 L618.88,52.18ZM617.79,60.59 L617.41,56.71 L616.49,57.10 L617.67,53.67 L619.48,56.81 L618.50,56.60 L618.88,60.48ZM617.79,68.89 L617.41,65.01 L616.49,65.40 L617.67,61.97 L619.48,65.11 L618.50,64.90 L618.88,68.78ZM617.79,77.19 L617.41,73.31 L616.49,73.70 L617.67,70.27 L619.48,73.41 L618.50,73.20 L618.88,77.08ZM617.79,85.49 L617.41,81.61 L616.49,82.00 L617.67,78.57 L619.48,81.71 L618.50,81.50 L618.88,85.38ZM618.88,86.92 L618.50,90.80 L619.48,90.59 L617.67,93.73 L616.49,90.30 L617.41,90.69 L617.79,86.81ZM618.88,95.22 L618.50,99.10 L619.48,98.89 L617.67,102.03 L616.49,98.60 L617.41,98.99 L617.79,95.11ZM618.88,103.52 L618.50,107.40 L619.48,107.19 L617.67,110.33 L616.49,106.90 L617.41,107.29 L617.79,103.41ZM618.88,111.82 L618.50,115.70 L619.48,115.49 L617.67,118.63 L616.49,115.20 L617.41,115.59 L617.79,111.71ZM618.88,120.12 L618.50,124.00 L619.48,123.79 L617.67,126.93 L616.49,123.50 L617.41,123.89 L617.79,120.01ZM618.88,128.42 L618.50,132.30 L619.48,132.09 L617.67,135.23 L616.49,131.80 L617.41,132.19 L617.79,128.31ZM618.88,136.72 L618.50,140.60 L619.48,140.39 L617.67,143.53 L616.49,140.10 L617.41,140.49 L617.79,136.61ZM618.88,145.02 L618.50,148.90 L619.48,148.69 L617.67,151.83 L616.49,148.40 L617.41,148.79 L617.79,144.91ZM618.88,153.32 L618.50,157.20 L619.48,156.99 L617.67,160.13 L616.49,156.70 L617.41,157.09 L617.79,153.21ZM624.46,19.09 L623.96,15.23 L623.05,15.65 L624.11,12.18 L626.03,15.26 L625.05,15.08 L625.55,18.95ZM624.46,27.39 L623.96,23.53 L623.05,23.95 L624.11,20.48 L626.03,23.56 L625.05,23.38 L625.55,27.25ZM624.46,35.69 L623.96,31.83 L623.05,32.25 L624.11,28.78 L626.03,31.86 L625.05,31.68 L625.55,35.55ZM624.46,43.99 L623.96,40.13 L623.05,40.55 L624.11,37.08 L626.03,40.16 L625.05,39.98 L625.55,43.85ZM624.46,52.29 L623.96,48.43 L623.05,48.85 L624.11,45.38 L626.03,48.46 L625.05,48.28 L625.55,52.15ZM624.46,60.59 L623.96,56.73 L623.05,57.15 L624.11,53.68 L626.03,56.76 L625.05,56.58 L625.55,60.45ZM624.46,68.89 L623.96,65.03 L623.05,65.45 L624.11,61.98 L626.03,65.06 L625.05,64.88 L625.55,68.75ZM624.46,77.19 L623.96,73.33 L623.05,73.75 L624.11,70.28 L626.03,73.36 L625.05,73.18 L625.55,77.05ZM624.46,85.49 L623.96,81.63 L623.05,82.05 L624.11,78.58 L626.03,81.66 L625.05,81.48 L625.55,85.35ZM625.55,86.95 L625.05,90.82 L626.03,90.64 L624.11,93.72 L623.05,90.25 L623.96,90.67 L624.46,86.81ZM625.55,95.25 L625.05,99.12 L626.03,98.94 L624.11,102.02 L623.05,98.55 L623.96,98.97 L624.46,95.11ZM625.55,103.55 L625.05,107.42 L626.03,107.24 L624.11,110.32 L623.05,106.85 L623.96,107.27 L624.46,103.41ZM625.55,111.85 L625.05,115.72 L626.03,115.54 L624.11,118.62 L623.05,115.15 L623.96,115.57 L624.46,111.71ZM625.55,120.15 L625.05,124.02 L626.03,123.84 L624.11,126.92 L623.05,123.45 L623.96,123.87 L624.46,120.01ZM625.55,128.45 L625.05,132.32 L626.03,132.14 L624.11,135.22 L623.05,131.75 L623.96,132.17 L624.46,128.31ZM625.55,136.75 L625.05,140.62 L626.03,140.44 L624.11,143.52 L623.05,140.05 L623.96,140.47 L624.46,136.61ZM625.55,145.05 L625.05,148.92 L626.03,148.74 L624.11,151.82 L623.05,148.35 L623.96,148.77 L624.46,144.91ZM625.55,153.35 L625.05,157.22 L626.03,157.04 L624.11,160.12 L623.05,156.65 L623.96,157.07 L624.46,153.21ZM631.14,19.09 L630.50,15.25 L629.62,15.70 L630.56,12.20 L632.58,15.21 L631.59,15.07 L632.22,18.92ZM631.14,27.39 L630.50,23.55 L629.62,24.00 L630.56,20.50 L632.58,23.51 L631.59,23.37 L632.22,27.22ZM631.14,35.69 L630.50,31.85 L629.62,32.30 L630.56,28.80 L632.58,31.81 L631.59,31.67 L632.22,35.52ZM631.14,43.99 L630.50,40.15 L629.62,40.60 L630.56,37.10 L632.58,40.11 L631.59,39.97 L632.22,43.82ZM631.14,52.29 L630.50,48.45 L629.62,48.90 L630.56,45.40 L632.58,48.41 L631.59,48.27 L632.22,52.12ZM631.14,60.59 L630.50,56.75 L629.62,57.20 L630.56,53.70 L632.58,56.71 L631.59,56.57 L632.22,60.42ZM631.14,68.89 L630.50,65.05 L629.62,65.50 L630.56,62.00 L632.58,65.01 L631.59,64.87 L632.22,68.72ZM631.14,77.19 L630.50,73.35 L629.62,73.80 L630.56,70.30 L632.58,73.31 L631.59,73.17 L632.22,77.02ZM631.14,85.49 L630.50,81.65 L629.62,82.10 L630.56,78.60 L632.58,81.61 L631.59,81.47 L632.22,85.32ZM632.22,86.98 L631.59,90.83 L632.58,90.69 L630.56,93.70 L629.62,90.20 L630.50,90.65 L631.14,86.81ZM632.22,95.28 L631.59,99.13 L632.58,98.99 L630.56,102.00 L629.62,98.50 L630.50,98.95 L631.14,95.11ZM632.22,103.58 L631.59,107.43 L632.58,107.29 L630.56,110.30 L629.62,106.80 L630.50,107.25 L631.14,103.41ZM632.22,111.88 L631.59,115.73 L632.58,115.59 L630.56,118.60 L629.62,115.10 L630.50,115.55 L631.14,111.71ZM632.22,120.18 L631.59,124.03 L632.58,123.89 L630.56,126.90 L629.62,123.40 L630.50,123.85 L631.14,120.01ZM632.22,128.48 L631.59,132.33 L632.58,132.19 L630.56,135.20 L629.62,131.70 L630.50,132.15 L631.14,128.31ZM632.22,136.78 L631.59,140.63 L632.58,140.49 L630.56,143.50 L629.62,140.00 L630.50,140.45 L631.14,136.61ZM632.22,145.08 L631.59,148.93 L632.58,148.79 L630.56,151.80 L629.62,148.30 L630.50,148.75 L631.14,144.91ZM632.22,153.38 L631.59,157.23 L632.58,157.09 L630.56,160.10 L629.62,156.60 L630.50,157.05 L631.14,153.21ZM637.81,19.09 L637.05,15.27 L636.18,15.75 L637.01,12.22 L639.12,15.16 L638.13,15.05 L638.89,18.88ZM637.81,27.39 L637.05,23.57 L636.18,24.05 L637.01,20.52 L639.12,23.46 L638.13,23.35 L638.89,27.18ZM637.81,35.69 L637.05,31.87 L636.18,32.35 L637.01,28.82 L639.12,31.76 L638.13,31.65 L638.89,35.48ZM637.81,43.99 L637.05,40.17 L636.18,40.65 L637.01,37.12 L639.12,40.06 L638.13,39.95 L638.89,43.78ZM637.81,52.29 L637.05,48.47 L636.18,48.95 L637.01,45.42 L639.12,48.36 L638.13,48.25 L638.89,52.08ZM637.81,60.59 L637.05,56.77 L636.18,57.25 L637.01,53.72 L639.12,56.66 L638.13,56.55 L638.89,60.38ZM637.81,68.89 L637.05,65.07 L636.18,65.55 L637.01,62.02 L639.12,64.96 L638.13,64.85 L638.89,68.68ZM637.81,77.19 L637.05,73.37 L636.18,73.85 L637.01,70.32 L639.12,73.26 L638.13,73.15 L638.89,76.98ZM637.81,85.49 L637.05,81.67 L636.18,82.15 L637.01,78.62 L639.12,81.56 L638.13,81.45 L638.89,85.28ZM638.89,87.02 L638.13,90.85 L639.12,90.74 L637.01,93.68 L636.18,90.15 L637.05,90.63 L637.81,86.81ZM638.89,95.32 L638.13,99.15 L639.12,99.04 L637.01,101.98 L636.18,98.45 L637.05,98.93 L637.81,95.11ZM638.89,103.62 L638.13,107.45 L639.12,107.34 L637.01,110.28 L636.18,106.75 L637.05,107.23 L637.81,103.41ZM638.89,111.92 L638.13,115.75 L639.12,115.64 L637.01,118.58 L636.18,115.05 L637.05,115.53 L637.81,111.71ZM638.89,120.22 L638.13,124.05 L639.12,123.94 L637.01,126.88 L636.18,123.35 L637.05,123.83 L637.81,120.01ZM638.89,128.52 L638.13,132.35 L639.12,132.24 L637.01,135.18 L636.18,131.65 L637.05,132.13 L637.81,128.31ZM638.89,136.82 L638.13,140.65 L639.12,140.54 L637.01,143.48 L636.18,139.95 L637.05,140.43 L637.81,136.61ZM638.89,145.12 L638.13,148.95 L639.12,148.84 L637.01,151.78 L636.18,148.25 L637.05,148.73 L637.81,144.91ZM638.89,153.42 L638.13,157.25 L639.12,157.14 L637.01,160.08 L636.18,156.55 L637.05,157.03 L637.81,153.21ZM644.49,19.08 L643.60,15.29 L642.75,15.79 L643.46,12.24 L645.67,15.11 L644.67,15.04 L645.56,18.83ZM644.49,27.38 L643.60,23.59 L642.75,24.09 L643.46,20.54 L645.67,23.41 L644.67,23.34 L645.56,27.13ZM644.49,35.68 L643.60,31.89 L642.75,32.39 L643.46,28.84 L645.67,31.71 L644.67,31.64 L645.56,35.43ZM644.49,43.98 L643.60,40.19 L642.75,40.69 L643.46,37.14 L645.67,40.01 L644.67,39.94 L645.56,43.73ZM644.49,52.28 L643.60,48.49 L642.75,48.99 L643.46,45.44 L645.67,48.31 L644.67,48.24 L645.56,52.03ZM644.49,60.58 L643.60,56.79 L642.75,57.29 L643.46,53.74 L645.67,56.61 L644.67,56.54 L645.56,60.33ZM644.49,68.88 L643.60,65.09 L642.75,65.59 L643.46,62.04 L645.67,64.91 L644.67,64.84 L645.56,68.63ZM644.49,77.18 L643.60,73.39 L642.75,73.89 L643.46,70.34 L645.67,73.21 L644.67,73.14 L645.56,76.93ZM644.49,85.48 L643.60,81.69 L642.75,82.19 L643.46,78.64 L645.67,81.51 L644.67,81.44 L645.56,85.23ZM645.56,87.07 L644.67,90.86 L645.67,90.79 L643.46,93.66 L642.75,90.11 L643.60,90.61 L644.49,86.82ZM645.56,95.37 L644.67,99.16 L645.67,99.09 L643.46,101.96 L642.75,98.41 L643.60,98.91 L644.49,95.12ZM645.56,103.67 L644.67,107.46 L645.67,107.39 L643.46,110.26 L642.75,106.71 L643.60,107.21 L644.49,103.42ZM645.56,111.97 L644.67,115.76 L645.67,115.69 L643.46,118.56 L642.75,115.01 L643.60,115.51 L644.49,111.72ZM645.56,120.27 L644.67,124.06 L645.67,123.99 L643.46,126.86 L642.75,123.31 L643.60,123.81 L644.49,120.02ZM645.56,128.57 L644.67,132.36 L645.67,132.29 L643.46,135.16 L642.75,131.61 L643.60,132.11 L644.49,128.32ZM645.56,136.87 L644.67,140.66 L645.67,140.59 L643.46,143.46 L642.75,139.91 L643.60,140.41 L644.49,136.62ZM645.56,145.17 L644.67,148.96 L645.67,148.89 L643.46,151.76 L642.75,148.21 L643.60,148.71 L644.49,144.92ZM645.56,153.47 L644.67,157.26 L645.67,157.19 L643.46,160.06 L642.75,156.51 L643.60,157.01 L644.49,153.22Z" fill="#000"/><line x1="568.80" y1="86.15" x2="568.80" y2="161.00" stroke="#f0bc28" stroke-width="1.3"/><circle cx="568.80" cy="86.15" r="1.25" fill="#f0bc28"/></g>
<text x="562.00" y="96.90" font-size="11.20" text-anchor="middle" font-weight="bold" fill="#ffc31a" >X</text>
<rect x="494.00" y="11.10" width="149.80" height="149.90" fill="none" stroke="#222" stroke-width="0.7"/>
<text x="486.70" y="15.30" font-size="9.70" text-anchor="end" font-weight="normal" fill="#000" >0.1</text>
<text x="486.70" y="90.35" font-size="9.70" text-anchor="end" font-weight="normal" fill="#000" >0.0</text>
<text x="486.70" y="165.20" font-size="9.70" text-anchor="end" font-weight="normal" fill="#000" >−0.1</text>
<text x="494.00" y="174.90" font-size="9.70" text-anchor="middle" font-weight="normal" fill="#000" >−0.1</text>
<text x="568.80" y="174.90" font-size="9.70" text-anchor="middle" font-weight="normal" fill="#000" >0.0</text>
<text x="643.80" y="174.90" font-size="9.70" text-anchor="middle" font-weight="normal" fill="#000" >0.1</text>
<path d="M494.00,11.10 h-2.6 M494.00,86.15 h-2.6 M494.00,161.00 h-2.6 M494.00,161.00 v2.6 M568.80,161.00 v2.6 M643.80,161.00 v2.6" stroke="#222" stroke-width="0.7" fill="none"/>
<text x="568.80" y="188.30" font-size="9.70" text-anchor="middle" font-weight="normal" fill="#000" >k<tspan dy="2.0" font-size="70%">z</tspan></text>
<text x="456.50" y="86.15" font-size="9.70" text-anchor="middle" font-weight="normal" fill="#000" transform="rotate(-90 456.5 86.2)">k<tspan dy="2.0" font-size="70%">y</tspan></text>
<rect x="653.6" y="11.10" width="7.9" height="149.90" fill="url(#cw)" stroke="#666" stroke-width="0.7"/>
<path d="M661.5,11.10 h2.4 M661.5,86.05 h2.4 M661.5,161.00 h2.4" stroke="#222" stroke-width="0.7"/>
<text x="665.80" y="14.70" font-size="9.70" text-anchor="start" font-weight="normal" fill="#000" >1/2</text>
<text x="665.80" y="90.45" font-size="9.70" text-anchor="start" font-weight="normal" fill="#000" >0</text>
<text x="665.80" y="164.60" font-size="9.70" text-anchor="start" font-weight="normal" fill="#000" >-1/2</text>
<text x="672.80" y="52.60" font-size="10.80" text-anchor="start" font-weight="normal" fill="#000" >S<tspan dy="2.2" font-size="70%">y</tspan></text>
<rect x="494.00" y="203.10" width="74.80" height="149.20" fill="#7a9df8"/>
<rect x="568.80" y="203.10" width="75.00" height="149.20" fill="#ed8368"/>
<g clip-path="url(#ce2)"><polyline points="568.80,310.70 576.50,322.10 586.90,337.70 597.90,352.30 599.80,354.70" fill="none" stroke="#3a0a5c" stroke-width="1.3"/><polyline points="568.80,244.70 576.50,233.30 586.90,217.70 597.90,203.10 599.80,200.70" fill="none" stroke="#3a0a5c" stroke-width="1.3"/><polyline points="568.80,244.70 570.73,247.45 571.65,250.20 572.33,252.95 572.88,255.70 573.32,258.45 573.68,261.20 573.97,263.95 574.20,266.70 574.38,269.45 574.50,272.20 574.58,274.95 574.60,277.70 574.58,280.45 574.50,283.20 574.38,285.95 574.20,288.70 573.97,291.45 573.68,294.20 573.32,296.95 572.88,299.70 572.33,302.45 571.65,305.20 570.73,307.95 568.80,310.70" fill="none" stroke="#5ff2ca" stroke-width="1.2"/><polyline points="568.80,310.70 561.10,322.10 550.70,337.70 539.70,352.30 537.80,354.70" fill="none" stroke="#3a0a5c" stroke-width="1.3"/><polyline points="568.80,244.70 561.10,233.30 550.70,217.70 539.70,203.10 537.80,200.70" fill="none" stroke="#3a0a5c" stroke-width="1.3"/><polyline points="568.80,244.70 566.87,247.45 565.95,250.20 565.27,252.95 564.72,255.70 564.28,258.45 563.92,261.20 563.63,263.95 563.40,266.70 563.22,269.45 563.10,272.20 563.02,274.95 563.00,277.70 563.02,280.45 563.10,283.20 563.22,285.95 563.40,288.70 563.63,291.45 563.92,294.20 564.28,296.95 564.72,299.70 565.27,302.45 565.95,305.20 566.87,307.95 568.80,310.70" fill="none" stroke="#5ff2ca" stroke-width="1.2"/><path d="M501.57,202.15 L497.70,202.64 L498.12,203.54 L494.66,202.46 L497.75,200.57 L497.57,201.54 L501.44,201.06ZM509.89,202.15 L506.02,202.64 L506.44,203.54 L502.98,202.46 L506.07,200.57 L505.89,201.54 L509.76,201.06ZM518.21,202.15 L514.34,202.64 L514.76,203.54 L511.30,202.46 L514.39,200.57 L514.21,201.54 L518.08,201.06ZM526.53,202.15 L522.66,202.64 L523.08,203.54 L519.62,202.46 L522.71,200.57 L522.53,201.54 L526.40,201.06ZM534.85,202.15 L530.98,202.64 L531.40,203.54 L527.94,202.46 L531.03,200.57 L530.85,201.54 L534.72,201.06ZM543.17,202.15 L539.30,202.64 L539.72,203.54 L536.26,202.46 L539.35,200.57 L539.17,201.54 L543.04,201.06ZM551.49,202.15 L547.62,202.64 L548.04,203.54 L544.58,202.46 L547.67,200.57 L547.49,201.54 L551.36,201.06ZM559.81,202.15 L555.94,202.64 L556.36,203.54 L552.90,202.46 L555.99,200.57 L555.81,201.54 L559.68,201.06ZM568.13,202.15 L564.26,202.64 L564.68,203.54 L561.22,202.46 L564.31,200.57 L564.13,201.54 L568.00,201.06ZM569.60,201.06 L573.47,201.54 L573.29,200.57 L576.38,202.46 L572.92,203.54 L573.34,202.64 L569.47,202.15ZM577.92,201.06 L581.79,201.54 L581.61,200.57 L584.70,202.46 L581.24,203.54 L581.66,202.64 L577.79,202.15ZM586.24,201.06 L590.11,201.54 L589.93,200.57 L593.02,202.46 L589.56,203.54 L589.98,202.64 L586.11,202.15ZM594.56,201.06 L598.43,201.54 L598.25,200.57 L601.34,202.46 L597.88,203.54 L598.30,202.64 L594.43,202.15ZM602.88,201.06 L606.75,201.54 L606.57,200.57 L609.66,202.46 L606.20,203.54 L606.62,202.64 L602.75,202.15ZM611.20,201.06 L615.07,201.54 L614.89,200.57 L617.98,202.46 L614.52,203.54 L614.94,202.64 L611.07,202.15ZM619.52,201.06 L623.39,201.54 L623.21,200.57 L626.30,202.46 L622.84,203.54 L623.26,202.64 L619.39,202.15ZM627.84,201.06 L631.71,201.54 L631.53,200.57 L634.62,202.46 L631.16,203.54 L631.58,202.64 L627.71,202.15ZM636.16,201.06 L640.03,201.54 L639.85,200.57 L642.94,202.46 L639.48,203.54 L639.90,202.64 L636.03,202.15ZM501.57,208.83 L497.69,209.24 L498.09,210.15 L494.65,209.01 L497.77,207.17 L497.57,208.15 L501.45,207.73ZM509.89,208.83 L506.01,209.24 L506.41,210.15 L502.97,209.01 L506.09,207.17 L505.89,208.15 L509.77,207.73ZM518.21,208.83 L514.33,209.24 L514.73,210.15 L511.29,209.01 L514.41,207.17 L514.21,208.15 L518.09,207.73ZM526.53,208.83 L522.65,209.24 L523.05,210.15 L519.61,209.01 L522.73,207.17 L522.53,208.15 L526.41,207.73ZM534.85,208.83 L530.97,209.24 L531.37,210.15 L527.93,209.01 L531.05,207.17 L530.85,208.15 L534.73,207.73ZM543.17,208.83 L539.29,209.24 L539.69,210.15 L536.25,209.01 L539.37,207.17 L539.17,208.15 L543.05,207.73ZM551.49,208.83 L547.61,209.24 L548.01,210.15 L544.57,209.01 L547.69,207.17 L547.49,208.15 L551.37,207.73ZM559.81,208.83 L555.93,209.24 L556.33,210.15 L552.89,209.01 L556.01,207.17 L555.81,208.15 L559.69,207.73ZM568.13,208.83 L564.25,209.24 L564.65,210.15 L561.21,209.01 L564.33,207.17 L564.13,208.15 L568.01,207.73ZM569.59,207.73 L573.47,208.15 L573.27,207.17 L576.39,209.01 L572.95,210.15 L573.35,209.24 L569.47,208.83ZM577.91,207.73 L581.79,208.15 L581.59,207.17 L584.71,209.01 L581.27,210.15 L581.67,209.24 L577.79,208.83ZM586.23,207.73 L590.11,208.15 L589.91,207.17 L593.03,209.01 L589.59,210.15 L589.99,209.24 L586.11,208.83ZM594.55,207.73 L598.43,208.15 L598.23,207.17 L601.35,209.01 L597.91,210.15 L598.31,209.24 L594.43,208.83ZM602.87,207.73 L606.75,208.15 L606.55,207.17 L609.67,209.01 L606.23,210.15 L606.63,209.24 L602.75,208.83ZM611.19,207.73 L615.07,208.15 L614.87,207.17 L617.99,209.01 L614.55,210.15 L614.95,209.24 L611.07,208.83ZM619.51,207.73 L623.39,208.15 L623.19,207.17 L626.31,209.01 L622.87,210.15 L623.27,209.24 L619.39,208.83ZM627.83,207.73 L631.71,208.15 L631.51,207.17 L634.63,209.01 L631.19,210.15 L631.59,209.24 L627.71,208.83ZM636.15,207.73 L640.03,208.15 L639.83,207.17 L642.95,209.01 L639.51,210.15 L639.91,209.24 L636.03,208.83ZM501.57,215.50 L497.68,215.84 L498.06,216.76 L494.64,215.56 L497.80,213.77 L497.58,214.75 L501.47,214.40ZM509.89,215.50 L506.00,215.84 L506.38,216.76 L502.96,215.56 L506.12,213.77 L505.90,214.75 L509.79,214.40ZM518.21,215.50 L514.32,215.84 L514.70,216.76 L511.28,215.56 L514.44,213.77 L514.22,214.75 L518.11,214.40ZM526.53,215.50 L522.64,215.84 L523.02,216.76 L519.60,215.56 L522.76,213.77 L522.54,214.75 L526.43,214.40ZM534.85,215.50 L530.96,215.84 L531.34,216.76 L527.92,215.56 L531.08,213.77 L530.86,214.75 L534.75,214.40ZM543.17,215.50 L539.28,215.84 L539.66,216.76 L536.24,215.56 L539.40,213.77 L539.18,214.75 L543.07,214.40ZM551.49,215.50 L547.60,215.84 L547.98,216.76 L544.56,215.56 L547.72,213.77 L547.50,214.75 L551.39,214.40ZM559.81,215.50 L555.92,215.84 L556.30,216.76 L552.88,215.56 L556.04,213.77 L555.82,214.75 L559.71,214.40ZM568.13,215.50 L564.24,215.84 L564.62,216.76 L561.20,215.56 L564.36,213.77 L564.14,214.75 L568.03,214.40ZM569.57,214.40 L573.46,214.75 L573.24,213.77 L576.40,215.56 L572.98,216.76 L573.36,215.84 L569.47,215.50ZM577.89,214.40 L581.78,214.75 L581.56,213.77 L584.72,215.56 L581.30,216.76 L581.68,215.84 L577.79,215.50ZM586.21,214.40 L590.10,214.75 L589.88,213.77 L593.04,215.56 L589.62,216.76 L590.00,215.84 L586.11,215.50ZM594.53,214.40 L598.42,214.75 L598.20,213.77 L601.36,215.56 L597.94,216.76 L598.32,215.84 L594.43,215.50ZM602.85,214.40 L606.74,214.75 L606.52,213.77 L609.68,215.56 L606.26,216.76 L606.64,215.84 L602.75,215.50ZM611.17,214.40 L615.06,214.75 L614.84,213.77 L618.00,215.56 L614.58,216.76 L614.96,215.84 L611.07,215.50ZM619.49,214.40 L623.38,214.75 L623.16,213.77 L626.32,215.56 L622.90,216.76 L623.28,215.84 L619.39,215.50ZM627.81,214.40 L631.70,214.75 L631.48,213.77 L634.64,215.56 L631.22,216.76 L631.60,215.84 L627.71,215.50ZM636.13,214.40 L640.02,214.75 L639.80,213.77 L642.96,215.56 L639.54,216.76 L639.92,215.84 L636.03,215.50ZM501.56,222.17 L497.67,222.45 L498.04,223.37 L494.64,222.11 L497.83,220.38 L497.59,221.35 L501.48,221.07ZM509.88,222.17 L505.99,222.45 L506.36,223.37 L502.96,222.11 L506.15,220.38 L505.91,221.35 L509.80,221.07ZM518.20,222.17 L514.31,222.45 L514.68,223.37 L511.28,222.11 L514.47,220.38 L514.23,221.35 L518.12,221.07ZM526.52,222.17 L522.63,222.45 L523.00,223.37 L519.60,222.11 L522.79,220.38 L522.55,221.35 L526.44,221.07ZM534.84,222.17 L530.95,222.45 L531.32,223.37 L527.92,222.11 L531.11,220.38 L530.87,221.35 L534.76,221.07ZM543.16,222.17 L539.27,222.45 L539.64,223.37 L536.24,222.11 L539.43,220.38 L539.19,221.35 L543.08,221.07ZM551.48,222.17 L547.59,222.45 L547.96,223.37 L544.56,222.11 L547.75,220.38 L547.51,221.35 L551.40,221.07ZM559.80,222.17 L555.91,222.45 L556.28,223.37 L552.88,222.11 L556.07,220.38 L555.83,221.35 L559.72,221.07ZM568.12,222.17 L564.23,222.45 L564.60,223.37 L561.20,222.11 L564.39,220.38 L564.15,221.35 L568.04,221.07ZM569.56,221.07 L573.45,221.35 L573.21,220.38 L576.40,222.11 L573.00,223.37 L573.37,222.45 L569.48,222.17ZM577.88,221.07 L581.77,221.35 L581.53,220.38 L584.72,222.11 L581.32,223.37 L581.69,222.45 L577.80,222.17ZM586.20,221.07 L590.09,221.35 L589.85,220.38 L593.04,222.11 L589.64,223.37 L590.01,222.45 L586.12,222.17ZM594.52,221.07 L598.41,221.35 L598.17,220.38 L601.36,222.11 L597.96,223.37 L598.33,222.45 L594.44,222.17ZM602.84,221.07 L606.73,221.35 L606.49,220.38 L609.68,222.11 L606.28,223.37 L606.65,222.45 L602.76,222.17ZM611.16,221.07 L615.05,221.35 L614.81,220.38 L618.00,222.11 L614.60,223.37 L614.97,222.45 L611.08,222.17ZM619.48,221.07 L623.37,221.35 L623.13,220.38 L626.32,222.11 L622.92,223.37 L623.29,222.45 L619.40,222.17ZM627.80,221.07 L631.69,221.35 L631.45,220.38 L634.64,222.11 L631.24,223.37 L631.61,222.45 L627.72,222.17ZM636.12,221.07 L640.01,221.35 L639.77,220.38 L642.96,222.11 L639.56,223.37 L639.93,222.45 L636.04,222.17ZM501.55,228.84 L497.66,229.05 L498.01,229.98 L494.63,228.65 L497.85,226.98 L497.60,227.95 L501.50,227.75ZM509.87,228.84 L505.98,229.05 L506.33,229.98 L502.95,228.65 L506.17,226.98 L505.92,227.95 L509.82,227.75ZM518.19,228.84 L514.30,229.05 L514.65,229.98 L511.27,228.65 L514.49,226.98 L514.24,227.95 L518.14,227.75ZM526.51,228.84 L522.62,229.05 L522.97,229.98 L519.59,228.65 L522.81,226.98 L522.56,227.95 L526.46,227.75ZM534.83,228.84 L530.94,229.05 L531.29,229.98 L527.91,228.65 L531.13,226.98 L530.88,227.95 L534.78,227.75ZM543.15,228.84 L539.26,229.05 L539.61,229.98 L536.23,228.65 L539.45,226.98 L539.20,227.95 L543.10,227.75ZM551.47,228.84 L547.58,229.05 L547.93,229.98 L544.55,228.65 L547.77,226.98 L547.52,227.95 L551.42,227.75ZM559.79,228.84 L555.90,229.05 L556.25,229.98 L552.87,228.65 L556.09,226.98 L555.84,227.95 L559.74,227.75ZM568.11,228.84 L564.22,229.05 L564.57,229.98 L561.19,228.65 L564.41,226.98 L564.16,227.95 L568.06,227.75ZM569.54,227.75 L573.44,227.95 L573.19,226.98 L576.41,228.65 L573.03,229.98 L573.38,229.05 L569.49,228.84ZM577.86,227.75 L581.76,227.95 L581.51,226.98 L584.73,228.65 L581.35,229.98 L581.70,229.05 L577.81,228.84ZM586.18,227.75 L590.08,227.95 L589.83,226.98 L593.05,228.65 L589.67,229.98 L590.02,229.05 L586.13,228.84ZM594.50,227.75 L598.40,227.95 L598.15,226.98 L601.37,228.65 L597.99,229.98 L598.34,229.05 L594.45,228.84ZM602.82,227.75 L606.72,227.95 L606.47,226.98 L609.69,228.65 L606.31,229.98 L606.66,229.05 L602.77,228.84ZM611.14,227.75 L615.04,227.95 L614.79,226.98 L618.01,228.65 L614.63,229.98 L614.98,229.05 L611.09,228.84ZM619.46,227.75 L623.36,227.95 L623.11,226.98 L626.33,228.65 L622.95,229.98 L623.30,229.05 L619.41,228.84ZM627.78,227.75 L631.68,227.95 L631.43,226.98 L634.65,228.65 L631.27,229.98 L631.62,229.05 L627.73,228.84ZM636.10,227.75 L640.00,227.95 L639.75,226.98 L642.97,228.65 L639.59,229.98 L639.94,229.05 L636.05,228.84ZM501.55,235.52 L497.65,235.65 L497.98,236.59 L494.63,235.20 L497.88,233.59 L497.61,234.55 L501.51,234.42ZM509.87,235.52 L505.97,235.65 L506.30,236.59 L502.95,235.20 L506.20,233.59 L505.93,234.55 L509.83,234.42ZM518.19,235.52 L514.29,235.65 L514.62,236.59 L511.27,235.20 L514.52,233.59 L514.25,234.55 L518.15,234.42ZM526.51,235.52 L522.61,235.65 L522.94,236.59 L519.59,235.20 L522.84,233.59 L522.57,234.55 L526.47,234.42ZM534.83,235.52 L530.93,235.65 L531.26,236.59 L527.91,235.20 L531.16,233.59 L530.89,234.55 L534.79,234.42ZM543.15,235.52 L539.25,235.65 L539.58,236.59 L536.23,235.20 L539.48,233.59 L539.21,234.55 L543.11,234.42ZM551.47,235.52 L547.57,235.65 L547.90,236.59 L544.55,235.20 L547.80,233.59 L547.53,234.55 L551.43,234.42ZM559.79,235.52 L555.89,235.65 L556.22,236.59 L552.87,235.20 L556.12,233.59 L555.85,234.55 L559.75,234.42ZM568.11,235.52 L564.21,235.65 L564.54,236.59 L561.19,235.20 L564.44,233.59 L564.17,234.55 L568.07,234.42ZM569.53,234.42 L573.43,234.55 L573.16,233.59 L576.41,235.20 L573.06,236.59 L573.39,235.65 L569.49,235.52ZM577.85,234.42 L581.75,234.55 L581.48,233.59 L584.73,235.20 L581.38,236.59 L581.71,235.65 L577.81,235.52ZM586.17,234.42 L590.07,234.55 L589.80,233.59 L593.05,235.20 L589.70,236.59 L590.03,235.65 L586.13,235.52ZM594.49,234.42 L598.39,234.55 L598.12,233.59 L601.37,235.20 L598.02,236.59 L598.35,235.65 L594.45,235.52ZM602.81,234.42 L606.71,234.55 L606.44,233.59 L609.69,235.20 L606.34,236.59 L606.67,235.65 L602.77,235.52ZM611.13,234.42 L615.03,234.55 L614.76,233.59 L618.01,235.20 L614.66,236.59 L614.99,235.65 L611.09,235.52ZM619.45,234.42 L623.35,234.55 L623.08,233.59 L626.33,235.20 L622.98,236.59 L623.31,235.65 L619.41,235.52ZM627.77,234.42 L631.67,234.55 L631.40,233.59 L634.65,235.20 L631.30,236.59 L631.63,235.65 L627.73,235.52ZM636.09,234.42 L639.99,234.55 L639.72,233.59 L642.97,235.20 L639.62,236.59 L639.95,235.65 L636.05,235.52ZM501.54,242.19 L497.64,242.25 L497.95,243.20 L494.63,241.75 L497.91,240.20 L497.62,241.15 L501.52,241.09ZM509.86,242.19 L505.96,242.25 L506.27,243.20 L502.95,241.75 L506.23,240.20 L505.94,241.15 L509.84,241.09ZM518.18,242.19 L514.28,242.25 L514.59,243.20 L511.27,241.75 L514.55,240.20 L514.26,241.15 L518.16,241.09ZM526.50,242.19 L522.60,242.25 L522.91,243.20 L519.59,241.75 L522.87,240.20 L522.58,241.15 L526.48,241.09ZM534.82,242.19 L530.92,242.25 L531.23,243.20 L527.91,241.75 L531.19,240.20 L530.90,241.15 L534.80,241.09ZM543.14,242.19 L539.24,242.25 L539.55,243.20 L536.23,241.75 L539.51,240.20 L539.22,241.15 L543.12,241.09ZM551.46,242.19 L547.56,242.25 L547.87,243.20 L544.55,241.75 L547.83,240.20 L547.54,241.15 L551.44,241.09ZM559.78,242.19 L555.88,242.25 L556.19,243.20 L552.87,241.75 L556.15,240.20 L555.86,241.15 L559.76,241.09ZM568.10,242.19 L564.20,242.25 L564.51,243.20 L561.19,241.75 L564.47,240.20 L564.18,241.15 L568.08,241.09ZM569.52,241.09 L573.42,241.15 L573.13,240.20 L576.41,241.75 L573.09,243.20 L573.40,242.25 L569.50,242.19ZM577.84,241.09 L581.74,241.15 L581.45,240.20 L584.73,241.75 L581.41,243.20 L581.72,242.25 L577.82,242.19ZM586.16,241.09 L590.06,241.15 L589.77,240.20 L593.05,241.75 L589.73,243.20 L590.04,242.25 L586.14,242.19ZM594.48,241.09 L598.38,241.15 L598.09,240.20 L601.37,241.75 L598.05,243.20 L598.36,242.25 L594.46,242.19ZM602.80,241.09 L606.70,241.15 L606.41,240.20 L609.69,241.75 L606.37,243.20 L606.68,242.25 L602.78,242.19ZM611.12,241.09 L615.02,241.15 L614.73,240.20 L618.01,241.75 L614.69,243.20 L615.00,242.25 L611.10,242.19ZM619.44,241.09 L623.34,241.15 L623.05,240.20 L626.33,241.75 L623.01,243.20 L623.32,242.25 L619.42,242.19ZM627.76,241.09 L631.66,241.15 L631.37,240.20 L634.65,241.75 L631.33,243.20 L631.64,242.25 L627.74,242.19ZM636.08,241.09 L639.98,241.15 L639.69,240.20 L642.97,241.75 L639.65,243.20 L639.96,242.25 L636.06,242.19ZM501.53,248.86 L497.63,248.86 L497.93,249.81 L494.63,248.31 L497.93,246.81 L497.63,247.75 L501.53,247.75ZM509.85,248.86 L505.95,248.86 L506.25,249.81 L502.95,248.31 L506.25,246.81 L505.95,247.75 L509.85,247.75ZM518.17,248.86 L514.27,248.86 L514.57,249.81 L511.27,248.31 L514.57,246.81 L514.27,247.75 L518.17,247.75ZM526.49,248.86 L522.59,248.86 L522.89,249.81 L519.59,248.31 L522.89,246.81 L522.59,247.75 L526.49,247.75ZM534.81,248.86 L530.91,248.86 L531.21,249.81 L527.91,248.31 L531.21,246.81 L530.91,247.75 L534.81,247.75ZM543.13,248.86 L539.23,248.86 L539.53,249.81 L536.23,248.31 L539.53,246.81 L539.23,247.75 L543.13,247.75ZM551.45,248.86 L547.55,248.86 L547.85,249.81 L544.55,248.31 L547.85,246.81 L547.55,247.75 L551.45,247.75ZM559.77,248.86 L555.87,248.86 L556.17,249.81 L552.87,248.31 L556.17,246.81 L555.87,247.75 L559.77,247.75ZM568.09,248.86 L564.19,248.86 L564.49,249.81 L561.19,248.31 L564.49,246.81 L564.19,247.75 L568.09,247.75ZM569.51,247.75 L573.41,247.75 L573.11,246.81 L576.41,248.31 L573.11,249.81 L573.41,248.86 L569.51,248.86ZM577.83,247.75 L581.73,247.75 L581.43,246.81 L584.73,248.31 L581.43,249.81 L581.73,248.86 L577.83,248.86ZM586.15,247.75 L590.05,247.75 L589.75,246.81 L593.05,248.31 L589.75,249.81 L590.05,248.86 L586.15,248.86ZM594.47,247.75 L598.37,247.75 L598.07,246.81 L601.37,248.31 L598.07,249.81 L598.37,248.86 L594.47,248.86ZM602.79,247.75 L606.69,247.75 L606.39,246.81 L609.69,248.31 L606.39,249.81 L606.69,248.86 L602.79,248.86ZM611.11,247.75 L615.01,247.75 L614.71,246.81 L618.01,248.31 L614.71,249.81 L615.01,248.86 L611.11,248.86ZM619.43,247.75 L623.33,247.75 L623.03,246.81 L626.33,248.31 L623.03,249.81 L623.33,248.86 L619.43,248.86ZM627.75,247.75 L631.65,247.75 L631.35,246.81 L634.65,248.31 L631.35,249.81 L631.65,248.86 L627.75,248.86ZM636.07,247.75 L639.97,247.75 L639.67,246.81 L642.97,248.31 L639.67,249.81 L639.97,248.86 L636.07,248.86ZM501.53,255.47 L497.63,255.47 L497.93,256.42 L494.63,254.92 L497.93,253.42 L497.63,254.37 L501.53,254.37ZM509.85,255.47 L505.95,255.47 L506.25,256.42 L502.95,254.92 L506.25,253.42 L505.95,254.37 L509.85,254.37ZM518.17,255.47 L514.27,255.47 L514.57,256.42 L511.27,254.92 L514.57,253.42 L514.27,254.37 L518.17,254.37ZM526.49,255.47 L522.59,255.47 L522.89,256.42 L519.59,254.92 L522.89,253.42 L522.59,254.37 L526.49,254.37ZM534.81,255.47 L530.91,255.47 L531.21,256.42 L527.91,254.92 L531.21,253.42 L530.91,254.37 L534.81,254.37ZM543.13,255.47 L539.23,255.47 L539.53,256.42 L536.23,254.92 L539.53,253.42 L539.23,254.37 L543.13,254.37ZM551.45,255.47 L547.55,255.47 L547.85,256.42 L544.55,254.92 L547.85,253.42 L547.55,254.37 L551.45,254.37ZM559.77,255.47 L555.87,255.47 L556.17,256.42 L552.87,254.92 L556.17,253.42 L555.87,254.37 L559.77,254.37ZM568.09,255.47 L564.19,255.47 L564.49,256.42 L561.19,254.92 L564.49,253.42 L564.19,254.37 L568.09,254.37ZM569.51,254.37 L573.41,254.37 L573.11,253.42 L576.41,254.92 L573.11,256.42 L573.41,255.47 L569.51,255.47ZM577.83,254.37 L581.73,254.37 L581.43,253.42 L584.73,254.92 L581.43,256.42 L581.73,255.47 L577.83,255.47ZM586.15,254.37 L590.05,254.37 L589.75,253.42 L593.05,254.92 L589.75,256.42 L590.05,255.47 L586.15,255.47ZM594.47,254.37 L598.37,254.37 L598.07,253.42 L601.37,254.92 L598.07,256.42 L598.37,255.47 L594.47,255.47ZM602.79,254.37 L606.69,254.37 L606.39,253.42 L609.69,254.92 L606.39,256.42 L606.69,255.47 L602.79,255.47ZM611.11,254.37 L615.01,254.37 L614.71,253.42 L618.01,254.92 L614.71,256.42 L615.01,255.47 L611.11,255.47ZM619.43,254.37 L623.33,254.37 L623.03,253.42 L626.33,254.92 L623.03,256.42 L623.33,255.47 L619.43,255.47ZM627.75,254.37 L631.65,254.37 L631.35,253.42 L634.65,254.92 L631.35,256.42 L631.65,255.47 L627.75,255.47ZM636.07,254.37 L639.97,254.37 L639.67,253.42 L642.97,254.92 L639.67,256.42 L639.97,255.47 L636.07,255.47ZM501.53,262.08 L497.63,262.08 L497.93,263.03 L494.63,261.53 L497.93,260.03 L497.63,260.98 L501.53,260.98ZM509.85,262.08 L505.95,262.08 L506.25,263.03 L502.95,261.53 L506.25,260.03 L505.95,260.98 L509.85,260.98ZM518.17,262.08 L514.27,262.08 L514.57,263.03 L511.27,261.53 L514.57,260.03 L514.27,260.98 L518.17,260.98ZM526.49,262.08 L522.59,262.08 L522.89,263.03 L519.59,261.53 L522.89,260.03 L522.59,260.98 L526.49,260.98ZM534.81,262.08 L530.91,262.08 L531.21,263.03 L527.91,261.53 L531.21,260.03 L530.91,260.98 L534.81,260.98ZM543.13,262.08 L539.23,262.08 L539.53,263.03 L536.23,261.53 L539.53,260.03 L539.23,260.98 L543.13,260.98ZM551.45,262.08 L547.55,262.08 L547.85,263.03 L544.55,261.53 L547.85,260.03 L547.55,260.98 L551.45,260.98ZM559.77,262.08 L555.87,262.08 L556.17,263.03 L552.87,261.53 L556.17,260.03 L555.87,260.98 L559.77,260.98ZM568.09,262.08 L564.19,262.08 L564.49,263.03 L561.19,261.53 L564.49,260.03 L564.19,260.98 L568.09,260.98ZM569.51,260.98 L573.41,260.98 L573.11,260.03 L576.41,261.53 L573.11,263.03 L573.41,262.08 L569.51,262.08ZM577.83,260.98 L581.73,260.98 L581.43,260.03 L584.73,261.53 L581.43,263.03 L581.73,262.08 L577.83,262.08ZM586.15,260.98 L590.05,260.98 L589.75,260.03 L593.05,261.53 L589.75,263.03 L590.05,262.08 L586.15,262.08ZM594.47,260.98 L598.37,260.98 L598.07,260.03 L601.37,261.53 L598.07,263.03 L598.37,262.08 L594.47,262.08ZM602.79,260.98 L606.69,260.98 L606.39,260.03 L609.69,261.53 L606.39,263.03 L606.69,262.08 L602.79,262.08ZM611.11,260.98 L615.01,260.98 L614.71,260.03 L618.01,261.53 L614.71,263.03 L615.01,262.08 L611.11,262.08ZM619.43,260.98 L623.33,260.98 L623.03,260.03 L626.33,261.53 L623.03,263.03 L623.33,262.08 L619.43,262.08ZM627.75,260.98 L631.65,260.98 L631.35,260.03 L634.65,261.53 L631.35,263.03 L631.65,262.08 L627.75,262.08ZM636.07,260.98 L639.97,260.98 L639.67,260.03 L642.97,261.53 L639.67,263.03 L639.97,262.08 L636.07,262.08ZM501.53,268.69 L497.63,268.69 L497.93,269.63 L494.63,268.13 L497.93,266.63 L497.63,267.58 L501.53,267.58ZM509.85,268.69 L505.95,268.69 L506.25,269.63 L502.95,268.13 L506.25,266.63 L505.95,267.58 L509.85,267.58ZM518.17,268.69 L514.27,268.69 L514.57,269.63 L511.27,268.13 L514.57,266.63 L514.27,267.58 L518.17,267.58ZM526.49,268.69 L522.59,268.69 L522.89,269.63 L519.59,268.13 L522.89,266.63 L522.59,267.58 L526.49,267.58ZM534.81,268.69 L530.91,268.69 L531.21,269.63 L527.91,268.13 L531.21,266.63 L530.91,267.58 L534.81,267.58ZM543.13,268.69 L539.23,268.69 L539.53,269.63 L536.23,268.13 L539.53,266.63 L539.23,267.58 L543.13,267.58ZM551.45,268.69 L547.55,268.69 L547.85,269.63 L544.55,268.13 L547.85,266.63 L547.55,267.58 L551.45,267.58ZM559.77,268.69 L555.87,268.69 L556.17,269.63 L552.87,268.13 L556.17,266.63 L555.87,267.58 L559.77,267.58ZM568.09,268.69 L564.19,268.69 L564.49,269.63 L561.19,268.13 L564.49,266.63 L564.19,267.58 L568.09,267.58ZM569.51,267.58 L573.41,267.58 L573.11,266.63 L576.41,268.13 L573.11,269.63 L573.41,268.69 L569.51,268.69ZM577.83,267.58 L581.73,267.58 L581.43,266.63 L584.73,268.13 L581.43,269.63 L581.73,268.69 L577.83,268.69ZM586.15,267.58 L590.05,267.58 L589.75,266.63 L593.05,268.13 L589.75,269.63 L590.05,268.69 L586.15,268.69ZM594.47,267.58 L598.37,267.58 L598.07,266.63 L601.37,268.13 L598.07,269.63 L598.37,268.69 L594.47,268.69ZM602.79,267.58 L606.69,267.58 L606.39,266.63 L609.69,268.13 L606.39,269.63 L606.69,268.69 L602.79,268.69ZM611.11,267.58 L615.01,267.58 L614.71,266.63 L618.01,268.13 L614.71,269.63 L615.01,268.69 L611.11,268.69ZM619.43,267.58 L623.33,267.58 L623.03,266.63 L626.33,268.13 L623.03,269.63 L623.33,268.69 L619.43,268.69ZM627.75,267.58 L631.65,267.58 L631.35,266.63 L634.65,268.13 L631.35,269.63 L631.65,268.69 L627.75,268.69ZM636.07,267.58 L639.97,267.58 L639.67,266.63 L642.97,268.13 L639.67,269.63 L639.97,268.69 L636.07,268.69ZM501.53,275.30 L497.63,275.30 L497.93,276.25 L494.63,274.75 L497.93,273.25 L497.63,274.19 L501.53,274.19ZM509.85,275.30 L505.95,275.30 L506.25,276.25 L502.95,274.75 L506.25,273.25 L505.95,274.19 L509.85,274.19ZM518.17,275.30 L514.27,275.30 L514.57,276.25 L511.27,274.75 L514.57,273.25 L514.27,274.19 L518.17,274.19ZM526.49,275.30 L522.59,275.30 L522.89,276.25 L519.59,274.75 L522.89,273.25 L522.59,274.19 L526.49,274.19ZM534.81,275.30 L530.91,275.30 L531.21,276.25 L527.91,274.75 L531.21,273.25 L530.91,274.19 L534.81,274.19ZM543.13,275.30 L539.23,275.30 L539.53,276.25 L536.23,274.75 L539.53,273.25 L539.23,274.19 L543.13,274.19ZM551.45,275.30 L547.55,275.30 L547.85,276.25 L544.55,274.75 L547.85,273.25 L547.55,274.19 L551.45,274.19ZM559.77,275.30 L555.87,275.30 L556.17,276.25 L552.87,274.75 L556.17,273.25 L555.87,274.19 L559.77,274.19ZM568.09,275.30 L564.19,275.30 L564.49,276.25 L561.19,274.75 L564.49,273.25 L564.19,274.19 L568.09,274.19ZM569.51,274.19 L573.41,274.19 L573.11,273.25 L576.41,274.75 L573.11,276.25 L573.41,275.30 L569.51,275.30ZM577.83,274.19 L581.73,274.19 L581.43,273.25 L584.73,274.75 L581.43,276.25 L581.73,275.30 L577.83,275.30ZM586.15,274.19 L590.05,274.19 L589.75,273.25 L593.05,274.75 L589.75,276.25 L590.05,275.30 L586.15,275.30ZM594.47,274.19 L598.37,274.19 L598.07,273.25 L601.37,274.75 L598.07,276.25 L598.37,275.30 L594.47,275.30ZM602.79,274.19 L606.69,274.19 L606.39,273.25 L609.69,274.75 L606.39,276.25 L606.69,275.30 L602.79,275.30ZM611.11,274.19 L615.01,274.19 L614.71,273.25 L618.01,274.75 L614.71,276.25 L615.01,275.30 L611.11,275.30ZM619.43,274.19 L623.33,274.19 L623.03,273.25 L626.33,274.75 L623.03,276.25 L623.33,275.30 L619.43,275.30ZM627.75,274.19 L631.65,274.19 L631.35,273.25 L634.65,274.75 L631.35,276.25 L631.65,275.30 L627.75,275.30ZM636.07,274.19 L639.97,274.19 L639.67,273.25 L642.97,274.75 L639.67,276.25 L639.97,275.30 L636.07,275.30ZM501.53,281.91 L497.63,281.91 L497.93,282.86 L494.63,281.36 L497.93,279.86 L497.63,280.81 L501.53,280.81ZM509.85,281.91 L505.95,281.91 L506.25,282.86 L502.95,281.36 L506.25,279.86 L505.95,280.81 L509.85,280.81ZM518.17,281.91 L514.27,281.91 L514.57,282.86 L511.27,281.36 L514.57,279.86 L514.27,280.81 L518.17,280.81ZM526.49,281.91 L522.59,281.91 L522.89,282.86 L519.59,281.36 L522.89,279.86 L522.59,280.81 L526.49,280.81ZM534.81,281.91 L530.91,281.91 L531.21,282.86 L527.91,281.36 L531.21,279.86 L530.91,280.81 L534.81,280.81ZM543.13,281.91 L539.23,281.91 L539.53,282.86 L536.23,281.36 L539.53,279.86 L539.23,280.81 L543.13,280.81ZM551.45,281.91 L547.55,281.91 L547.85,282.86 L544.55,281.36 L547.85,279.86 L547.55,280.81 L551.45,280.81ZM559.77,281.91 L555.87,281.91 L556.17,282.86 L552.87,281.36 L556.17,279.86 L555.87,280.81 L559.77,280.81ZM568.09,281.91 L564.19,281.91 L564.49,282.86 L561.19,281.36 L564.49,279.86 L564.19,280.81 L568.09,280.81ZM569.51,280.81 L573.41,280.81 L573.11,279.86 L576.41,281.36 L573.11,282.86 L573.41,281.91 L569.51,281.91ZM577.83,280.81 L581.73,280.81 L581.43,279.86 L584.73,281.36 L581.43,282.86 L581.73,281.91 L577.83,281.91ZM586.15,280.81 L590.05,280.81 L589.75,279.86 L593.05,281.36 L589.75,282.86 L590.05,281.91 L586.15,281.91ZM594.47,280.81 L598.37,280.81 L598.07,279.86 L601.37,281.36 L598.07,282.86 L598.37,281.91 L594.47,281.91ZM602.79,280.81 L606.69,280.81 L606.39,279.86 L609.69,281.36 L606.39,282.86 L606.69,281.91 L602.79,281.91ZM611.11,280.81 L615.01,280.81 L614.71,279.86 L618.01,281.36 L614.71,282.86 L615.01,281.91 L611.11,281.91ZM619.43,280.81 L623.33,280.81 L623.03,279.86 L626.33,281.36 L623.03,282.86 L623.33,281.91 L619.43,281.91ZM627.75,280.81 L631.65,280.81 L631.35,279.86 L634.65,281.36 L631.35,282.86 L631.65,281.91 L627.75,281.91ZM636.07,280.81 L639.97,280.81 L639.67,279.86 L642.97,281.36 L639.67,282.86 L639.97,281.91 L636.07,281.91ZM501.53,288.52 L497.63,288.52 L497.93,289.47 L494.63,287.97 L497.93,286.47 L497.63,287.42 L501.53,287.42ZM509.85,288.52 L505.95,288.52 L506.25,289.47 L502.95,287.97 L506.25,286.47 L505.95,287.42 L509.85,287.42ZM518.17,288.52 L514.27,288.52 L514.57,289.47 L511.27,287.97 L514.57,286.47 L514.27,287.42 L518.17,287.42ZM526.49,288.52 L522.59,288.52 L522.89,289.47 L519.59,287.97 L522.89,286.47 L522.59,287.42 L526.49,287.42ZM534.81,288.52 L530.91,288.52 L531.21,289.47 L527.91,287.97 L531.21,286.47 L530.91,287.42 L534.81,287.42ZM543.13,288.52 L539.23,288.52 L539.53,289.47 L536.23,287.97 L539.53,286.47 L539.23,287.42 L543.13,287.42ZM551.45,288.52 L547.55,288.52 L547.85,289.47 L544.55,287.97 L547.85,286.47 L547.55,287.42 L551.45,287.42ZM559.77,288.52 L555.87,288.52 L556.17,289.47 L552.87,287.97 L556.17,286.47 L555.87,287.42 L559.77,287.42ZM568.09,288.52 L564.19,288.52 L564.49,289.47 L561.19,287.97 L564.49,286.47 L564.19,287.42 L568.09,287.42ZM569.51,287.42 L573.41,287.42 L573.11,286.47 L576.41,287.97 L573.11,289.47 L573.41,288.52 L569.51,288.52ZM577.83,287.42 L581.73,287.42 L581.43,286.47 L584.73,287.97 L581.43,289.47 L581.73,288.52 L577.83,288.52ZM586.15,287.42 L590.05,287.42 L589.75,286.47 L593.05,287.97 L589.75,289.47 L590.05,288.52 L586.15,288.52ZM594.47,287.42 L598.37,287.42 L598.07,286.47 L601.37,287.97 L598.07,289.47 L598.37,288.52 L594.47,288.52ZM602.79,287.42 L606.69,287.42 L606.39,286.47 L609.69,287.97 L606.39,289.47 L606.69,288.52 L602.79,288.52ZM611.11,287.42 L615.01,287.42 L614.71,286.47 L618.01,287.97 L614.71,289.47 L615.01,288.52 L611.11,288.52ZM619.43,287.42 L623.33,287.42 L623.03,286.47 L626.33,287.97 L623.03,289.47 L623.33,288.52 L619.43,288.52ZM627.75,287.42 L631.65,287.42 L631.35,286.47 L634.65,287.97 L631.35,289.47 L631.65,288.52 L627.75,288.52ZM636.07,287.42 L639.97,287.42 L639.67,286.47 L642.97,287.97 L639.67,289.47 L639.97,288.52 L636.07,288.52ZM501.53,295.12 L497.63,295.12 L497.93,296.07 L494.63,294.57 L497.93,293.07 L497.63,294.02 L501.53,294.02ZM509.85,295.12 L505.95,295.12 L506.25,296.07 L502.95,294.57 L506.25,293.07 L505.95,294.02 L509.85,294.02ZM518.17,295.12 L514.27,295.12 L514.57,296.07 L511.27,294.57 L514.57,293.07 L514.27,294.02 L518.17,294.02ZM526.49,295.12 L522.59,295.12 L522.89,296.07 L519.59,294.57 L522.89,293.07 L522.59,294.02 L526.49,294.02ZM534.81,295.12 L530.91,295.12 L531.21,296.07 L527.91,294.57 L531.21,293.07 L530.91,294.02 L534.81,294.02ZM543.13,295.12 L539.23,295.12 L539.53,296.07 L536.23,294.57 L539.53,293.07 L539.23,294.02 L543.13,294.02ZM551.45,295.12 L547.55,295.12 L547.85,296.07 L544.55,294.57 L547.85,293.07 L547.55,294.02 L551.45,294.02ZM559.77,295.12 L555.87,295.12 L556.17,296.07 L552.87,294.57 L556.17,293.07 L555.87,294.02 L559.77,294.02ZM568.09,295.12 L564.19,295.12 L564.49,296.07 L561.19,294.57 L564.49,293.07 L564.19,294.02 L568.09,294.02ZM569.51,294.02 L573.41,294.02 L573.11,293.07 L576.41,294.57 L573.11,296.07 L573.41,295.12 L569.51,295.12ZM577.83,294.02 L581.73,294.02 L581.43,293.07 L584.73,294.57 L581.43,296.07 L581.73,295.12 L577.83,295.12ZM586.15,294.02 L590.05,294.02 L589.75,293.07 L593.05,294.57 L589.75,296.07 L590.05,295.12 L586.15,295.12ZM594.47,294.02 L598.37,294.02 L598.07,293.07 L601.37,294.57 L598.07,296.07 L598.37,295.12 L594.47,295.12ZM602.79,294.02 L606.69,294.02 L606.39,293.07 L609.69,294.57 L606.39,296.07 L606.69,295.12 L602.79,295.12ZM611.11,294.02 L615.01,294.02 L614.71,293.07 L618.01,294.57 L614.71,296.07 L615.01,295.12 L611.11,295.12ZM619.43,294.02 L623.33,294.02 L623.03,293.07 L626.33,294.57 L623.03,296.07 L623.33,295.12 L619.43,295.12ZM627.75,294.02 L631.65,294.02 L631.35,293.07 L634.65,294.57 L631.35,296.07 L631.65,295.12 L627.75,295.12ZM636.07,294.02 L639.97,294.02 L639.67,293.07 L642.97,294.57 L639.67,296.07 L639.97,295.12 L636.07,295.12ZM501.53,301.74 L497.63,301.74 L497.93,302.69 L494.63,301.19 L497.93,299.69 L497.63,300.63 L501.53,300.63ZM509.85,301.74 L505.95,301.74 L506.25,302.69 L502.95,301.19 L506.25,299.69 L505.95,300.63 L509.85,300.63ZM518.17,301.74 L514.27,301.74 L514.57,302.69 L511.27,301.19 L514.57,299.69 L514.27,300.63 L518.17,300.63ZM526.49,301.74 L522.59,301.74 L522.89,302.69 L519.59,301.19 L522.89,299.69 L522.59,300.63 L526.49,300.63ZM534.81,301.74 L530.91,301.74 L531.21,302.69 L527.91,301.19 L531.21,299.69 L530.91,300.63 L534.81,300.63ZM543.13,301.74 L539.23,301.74 L539.53,302.69 L536.23,301.19 L539.53,299.69 L539.23,300.63 L543.13,300.63ZM551.45,301.74 L547.55,301.74 L547.85,302.69 L544.55,301.19 L547.85,299.69 L547.55,300.63 L551.45,300.63ZM559.77,301.74 L555.87,301.74 L556.17,302.69 L552.87,301.19 L556.17,299.69 L555.87,300.63 L559.77,300.63ZM568.09,301.74 L564.19,301.74 L564.49,302.69 L561.19,301.19 L564.49,299.69 L564.19,300.63 L568.09,300.63ZM569.51,300.63 L573.41,300.63 L573.11,299.69 L576.41,301.19 L573.11,302.69 L573.41,301.74 L569.51,301.74ZM577.83,300.63 L581.73,300.63 L581.43,299.69 L584.73,301.19 L581.43,302.69 L581.73,301.74 L577.83,301.74ZM586.15,300.63 L590.05,300.63 L589.75,299.69 L593.05,301.19 L589.75,302.69 L590.05,301.74 L586.15,301.74ZM594.47,300.63 L598.37,300.63 L598.07,299.69 L601.37,301.19 L598.07,302.69 L598.37,301.74 L594.47,301.74ZM602.79,300.63 L606.69,300.63 L606.39,299.69 L609.69,301.19 L606.39,302.69 L606.69,301.74 L602.79,301.74ZM611.11,300.63 L615.01,300.63 L614.71,299.69 L618.01,301.19 L614.71,302.69 L615.01,301.74 L611.11,301.74ZM619.43,300.63 L623.33,300.63 L623.03,299.69 L626.33,301.19 L623.03,302.69 L623.33,301.74 L619.43,301.74ZM627.75,300.63 L631.65,300.63 L631.35,299.69 L634.65,301.19 L631.35,302.69 L631.65,301.74 L627.75,301.74ZM636.07,300.63 L639.97,300.63 L639.67,299.69 L642.97,301.19 L639.67,302.69 L639.97,301.74 L636.07,301.74ZM501.53,308.35 L497.63,308.34 L497.93,309.29 L494.63,307.79 L497.93,306.29 L497.63,307.24 L501.53,307.25ZM509.85,308.35 L505.95,308.34 L506.25,309.29 L502.95,307.79 L506.25,306.29 L505.95,307.24 L509.85,307.25ZM518.17,308.35 L514.27,308.34 L514.57,309.29 L511.27,307.79 L514.57,306.29 L514.27,307.24 L518.17,307.25ZM526.49,308.35 L522.59,308.34 L522.89,309.29 L519.59,307.79 L522.89,306.29 L522.59,307.24 L526.49,307.25ZM534.81,308.35 L530.91,308.34 L531.21,309.29 L527.91,307.79 L531.21,306.29 L530.91,307.24 L534.81,307.25ZM543.13,308.35 L539.23,308.34 L539.53,309.29 L536.23,307.79 L539.53,306.29 L539.23,307.24 L543.13,307.25ZM551.45,308.35 L547.55,308.34 L547.85,309.29 L544.55,307.79 L547.85,306.29 L547.55,307.24 L551.45,307.25ZM559.77,308.35 L555.87,308.34 L556.17,309.29 L552.87,307.79 L556.17,306.29 L555.87,307.24 L559.77,307.25ZM568.09,308.35 L564.19,308.34 L564.49,309.29 L561.19,307.79 L564.49,306.29 L564.19,307.24 L568.09,307.25ZM569.51,307.25 L573.41,307.24 L573.11,306.29 L576.41,307.79 L573.11,309.29 L573.41,308.34 L569.51,308.35ZM577.83,307.25 L581.73,307.24 L581.43,306.29 L584.73,307.79 L581.43,309.29 L581.73,308.34 L577.83,308.35ZM586.15,307.25 L590.05,307.24 L589.75,306.29 L593.05,307.79 L589.75,309.29 L590.05,308.34 L586.15,308.35ZM594.47,307.25 L598.37,307.24 L598.07,306.29 L601.37,307.79 L598.07,309.29 L598.37,308.34 L594.47,308.35ZM602.79,307.25 L606.69,307.24 L606.39,306.29 L609.69,307.79 L606.39,309.29 L606.69,308.34 L602.79,308.35ZM611.11,307.25 L615.01,307.24 L614.71,306.29 L618.01,307.79 L614.71,309.29 L615.01,308.34 L611.11,308.35ZM619.43,307.25 L623.33,307.24 L623.03,306.29 L626.33,307.79 L623.03,309.29 L623.33,308.34 L619.43,308.35ZM627.75,307.25 L631.65,307.24 L631.35,306.29 L634.65,307.79 L631.35,309.29 L631.65,308.34 L627.75,308.35ZM636.07,307.25 L639.97,307.24 L639.67,306.29 L642.97,307.79 L639.67,309.29 L639.97,308.34 L636.07,308.35ZM501.52,315.02 L497.62,314.95 L497.90,315.90 L494.63,314.34 L497.96,312.90 L497.64,313.85 L501.54,313.92ZM509.84,315.02 L505.94,314.95 L506.22,315.90 L502.95,314.34 L506.28,312.90 L505.96,313.85 L509.86,313.92ZM518.16,315.02 L514.26,314.95 L514.54,315.90 L511.27,314.34 L514.60,312.90 L514.28,313.85 L518.18,313.92ZM526.48,315.02 L522.58,314.95 L522.86,315.90 L519.59,314.34 L522.92,312.90 L522.60,313.85 L526.50,313.92ZM534.80,315.02 L530.90,314.95 L531.18,315.90 L527.91,314.34 L531.24,312.90 L530.92,313.85 L534.82,313.92ZM543.12,315.02 L539.22,314.95 L539.50,315.90 L536.23,314.34 L539.56,312.90 L539.24,313.85 L543.14,313.92ZM551.44,315.02 L547.54,314.95 L547.82,315.90 L544.55,314.34 L547.88,312.90 L547.56,313.85 L551.46,313.92ZM559.76,315.02 L555.86,314.95 L556.14,315.90 L552.87,314.34 L556.20,312.90 L555.88,313.85 L559.78,313.92ZM568.08,315.02 L564.18,314.95 L564.46,315.90 L561.19,314.34 L564.52,312.90 L564.20,313.85 L568.10,313.92ZM569.50,313.92 L573.40,313.85 L573.08,312.90 L576.41,314.34 L573.14,315.90 L573.42,314.95 L569.52,315.02ZM577.82,313.92 L581.72,313.85 L581.40,312.90 L584.73,314.34 L581.46,315.90 L581.74,314.95 L577.84,315.02ZM586.14,313.92 L590.04,313.85 L589.72,312.90 L593.05,314.34 L589.78,315.90 L590.06,314.95 L586.16,315.02ZM594.46,313.92 L598.36,313.85 L598.04,312.90 L601.37,314.34 L598.10,315.90 L598.38,314.95 L594.48,315.02ZM602.78,313.92 L606.68,313.85 L606.36,312.90 L609.69,314.34 L606.42,315.90 L606.70,314.95 L602.80,315.02ZM611.10,313.92 L615.00,313.85 L614.68,312.90 L618.01,314.34 L614.74,315.90 L615.02,314.95 L611.12,315.02ZM619.42,313.92 L623.32,313.85 L623.00,312.90 L626.33,314.34 L623.06,315.90 L623.34,314.95 L619.44,315.02ZM627.74,313.92 L631.64,313.85 L631.32,312.90 L634.65,314.34 L631.38,315.90 L631.66,314.95 L627.76,315.02ZM636.06,313.92 L639.96,313.85 L639.64,312.90 L642.97,314.34 L639.70,315.90 L639.98,314.95 L636.08,315.02ZM501.51,321.69 L497.61,321.55 L497.88,322.51 L494.63,320.89 L497.98,319.51 L497.65,320.45 L501.55,320.59ZM509.83,321.69 L505.93,321.55 L506.20,322.51 L502.95,320.89 L506.30,319.51 L505.97,320.45 L509.87,320.59ZM518.15,321.69 L514.25,321.55 L514.52,322.51 L511.27,320.89 L514.62,319.51 L514.29,320.45 L518.19,320.59ZM526.47,321.69 L522.57,321.55 L522.84,322.51 L519.59,320.89 L522.94,319.51 L522.61,320.45 L526.51,320.59ZM534.79,321.69 L530.89,321.55 L531.16,322.51 L527.91,320.89 L531.26,319.51 L530.93,320.45 L534.83,320.59ZM543.11,321.69 L539.21,321.55 L539.48,322.51 L536.23,320.89 L539.58,319.51 L539.25,320.45 L543.15,320.59ZM551.43,321.69 L547.53,321.55 L547.80,322.51 L544.55,320.89 L547.90,319.51 L547.57,320.45 L551.47,320.59ZM559.75,321.69 L555.85,321.55 L556.12,322.51 L552.87,320.89 L556.22,319.51 L555.89,320.45 L559.79,320.59ZM568.07,321.69 L564.17,321.55 L564.44,322.51 L561.19,320.89 L564.54,319.51 L564.21,320.45 L568.11,320.59ZM569.49,320.59 L573.39,320.45 L573.06,319.51 L576.41,320.89 L573.16,322.51 L573.43,321.55 L569.53,321.69ZM577.81,320.59 L581.71,320.45 L581.38,319.51 L584.73,320.89 L581.48,322.51 L581.75,321.55 L577.85,321.69ZM586.13,320.59 L590.03,320.45 L589.70,319.51 L593.05,320.89 L589.80,322.51 L590.07,321.55 L586.17,321.69ZM594.45,320.59 L598.35,320.45 L598.02,319.51 L601.37,320.89 L598.12,322.51 L598.39,321.55 L594.49,321.69ZM602.77,320.59 L606.67,320.45 L606.34,319.51 L609.69,320.89 L606.44,322.51 L606.71,321.55 L602.81,321.69ZM611.09,320.59 L614.99,320.45 L614.66,319.51 L618.01,320.89 L614.76,322.51 L615.03,321.55 L611.13,321.69ZM619.41,320.59 L623.31,320.45 L622.98,319.51 L626.33,320.89 L623.08,322.51 L623.35,321.55 L619.45,321.69ZM627.73,320.59 L631.63,320.45 L631.30,319.51 L634.65,320.89 L631.40,322.51 L631.67,321.55 L627.77,321.69ZM636.05,320.59 L639.95,320.45 L639.62,319.51 L642.97,320.89 L639.72,322.51 L639.99,321.55 L636.09,321.69ZM501.50,328.36 L497.60,328.15 L497.85,329.11 L494.64,327.44 L498.01,326.12 L497.66,327.05 L501.55,327.26ZM509.82,328.36 L505.92,328.15 L506.17,329.11 L502.96,327.44 L506.33,326.12 L505.98,327.05 L509.87,327.26ZM518.14,328.36 L514.24,328.15 L514.49,329.11 L511.28,327.44 L514.65,326.12 L514.30,327.05 L518.19,327.26ZM526.46,328.36 L522.56,328.15 L522.81,329.11 L519.60,327.44 L522.97,326.12 L522.62,327.05 L526.51,327.26ZM534.78,328.36 L530.88,328.15 L531.13,329.11 L527.92,327.44 L531.29,326.12 L530.94,327.05 L534.83,327.26ZM543.10,328.36 L539.20,328.15 L539.45,329.11 L536.24,327.44 L539.61,326.12 L539.26,327.05 L543.15,327.26ZM551.42,328.36 L547.52,328.15 L547.77,329.11 L544.56,327.44 L547.93,326.12 L547.58,327.05 L551.47,327.26ZM559.74,328.36 L555.84,328.15 L556.09,329.11 L552.88,327.44 L556.25,326.12 L555.90,327.05 L559.79,327.26ZM568.06,328.36 L564.16,328.15 L564.41,329.11 L561.20,327.44 L564.57,326.12 L564.22,327.05 L568.11,327.26ZM569.49,327.26 L573.38,327.05 L573.03,326.12 L576.40,327.44 L573.19,329.11 L573.44,328.15 L569.54,328.36ZM577.81,327.26 L581.70,327.05 L581.35,326.12 L584.72,327.44 L581.51,329.11 L581.76,328.15 L577.86,328.36ZM586.13,327.26 L590.02,327.05 L589.67,326.12 L593.04,327.44 L589.83,329.11 L590.08,328.15 L586.18,328.36ZM594.45,327.26 L598.34,327.05 L597.99,326.12 L601.36,327.44 L598.15,329.11 L598.40,328.15 L594.50,328.36ZM602.77,327.26 L606.66,327.05 L606.31,326.12 L609.68,327.44 L606.47,329.11 L606.72,328.15 L602.82,328.36ZM611.09,327.26 L614.98,327.05 L614.63,326.12 L618.00,327.44 L614.79,329.11 L615.04,328.15 L611.14,328.36ZM619.41,327.26 L623.30,327.05 L622.95,326.12 L626.32,327.44 L623.11,329.11 L623.36,328.15 L619.46,328.36ZM627.73,327.26 L631.62,327.05 L631.27,326.12 L634.64,327.44 L631.43,329.11 L631.68,328.15 L627.78,328.36ZM636.05,327.26 L639.94,327.05 L639.59,326.12 L642.96,327.44 L639.75,329.11 L640.00,328.15 L636.10,328.36ZM501.48,335.03 L497.59,334.75 L497.82,335.72 L494.64,333.99 L498.04,332.73 L497.67,333.65 L501.56,333.93ZM509.80,335.03 L505.91,334.75 L506.14,335.72 L502.96,333.99 L506.36,332.73 L505.99,333.65 L509.88,333.93ZM518.12,335.03 L514.23,334.75 L514.46,335.72 L511.28,333.99 L514.68,332.73 L514.31,333.65 L518.20,333.93ZM526.44,335.03 L522.55,334.75 L522.78,335.72 L519.60,333.99 L523.00,332.73 L522.63,333.65 L526.52,333.93ZM534.76,335.03 L530.87,334.75 L531.10,335.72 L527.92,333.99 L531.32,332.73 L530.95,333.65 L534.84,333.93ZM543.08,335.03 L539.19,334.75 L539.42,335.72 L536.24,333.99 L539.64,332.73 L539.27,333.65 L543.16,333.93ZM551.40,335.03 L547.51,334.75 L547.74,335.72 L544.56,333.99 L547.96,332.73 L547.59,333.65 L551.48,333.93ZM559.72,335.03 L555.83,334.75 L556.06,335.72 L552.88,333.99 L556.28,332.73 L555.91,333.65 L559.80,333.93ZM568.04,335.03 L564.15,334.75 L564.38,335.72 L561.20,333.99 L564.60,332.73 L564.23,333.65 L568.12,333.93ZM569.48,333.93 L573.37,333.65 L573.00,332.73 L576.40,333.99 L573.22,335.72 L573.45,334.75 L569.56,335.03ZM577.80,333.93 L581.69,333.65 L581.32,332.73 L584.72,333.99 L581.54,335.72 L581.77,334.75 L577.88,335.03ZM586.12,333.93 L590.01,333.65 L589.64,332.73 L593.04,333.99 L589.86,335.72 L590.09,334.75 L586.20,335.03ZM594.44,333.93 L598.33,333.65 L597.96,332.73 L601.36,333.99 L598.18,335.72 L598.41,334.75 L594.52,335.03ZM602.76,333.93 L606.65,333.65 L606.28,332.73 L609.68,333.99 L606.50,335.72 L606.73,334.75 L602.84,335.03ZM611.08,333.93 L614.97,333.65 L614.60,332.73 L618.00,333.99 L614.82,335.72 L615.05,334.75 L611.16,335.03ZM619.40,333.93 L623.29,333.65 L622.92,332.73 L626.32,333.99 L623.14,335.72 L623.37,334.75 L619.48,335.03ZM627.72,333.93 L631.61,333.65 L631.24,332.73 L634.64,333.99 L631.46,335.72 L631.69,334.75 L627.80,335.03ZM636.04,333.93 L639.93,333.65 L639.56,332.73 L642.96,333.99 L639.78,335.72 L640.01,334.75 L636.12,335.03ZM501.47,341.70 L497.58,341.35 L497.80,342.33 L494.64,340.53 L498.07,339.34 L497.68,340.26 L501.57,340.61ZM509.79,341.70 L505.90,341.35 L506.12,342.33 L502.96,340.53 L506.39,339.34 L506.00,340.26 L509.89,340.61ZM518.11,341.70 L514.22,341.35 L514.44,342.33 L511.28,340.53 L514.71,339.34 L514.32,340.26 L518.21,340.61ZM526.43,341.70 L522.54,341.35 L522.76,342.33 L519.60,340.53 L523.03,339.34 L522.64,340.26 L526.53,340.61ZM534.75,341.70 L530.86,341.35 L531.08,342.33 L527.92,340.53 L531.35,339.34 L530.96,340.26 L534.85,340.61ZM543.07,341.70 L539.18,341.35 L539.40,342.33 L536.24,340.53 L539.67,339.34 L539.28,340.26 L543.17,340.61ZM551.39,341.70 L547.50,341.35 L547.72,342.33 L544.56,340.53 L547.99,339.34 L547.60,340.26 L551.49,340.61ZM559.71,341.70 L555.82,341.35 L556.04,342.33 L552.88,340.53 L556.31,339.34 L555.92,340.26 L559.81,340.61ZM568.03,341.70 L564.14,341.35 L564.36,342.33 L561.20,340.53 L564.63,339.34 L564.24,340.26 L568.13,340.61ZM569.47,340.61 L573.36,340.26 L572.97,339.34 L576.40,340.53 L573.24,342.33 L573.46,341.35 L569.57,341.70ZM577.79,340.61 L581.68,340.26 L581.29,339.34 L584.72,340.53 L581.56,342.33 L581.78,341.35 L577.89,341.70ZM586.11,340.61 L590.00,340.26 L589.61,339.34 L593.04,340.53 L589.88,342.33 L590.10,341.35 L586.21,341.70ZM594.43,340.61 L598.32,340.26 L597.93,339.34 L601.36,340.53 L598.20,342.33 L598.42,341.35 L594.53,341.70ZM602.75,340.61 L606.64,340.26 L606.25,339.34 L609.68,340.53 L606.52,342.33 L606.74,341.35 L602.85,341.70ZM611.07,340.61 L614.96,340.26 L614.57,339.34 L618.00,340.53 L614.84,342.33 L615.06,341.35 L611.17,341.70ZM619.39,340.61 L623.28,340.26 L622.89,339.34 L626.32,340.53 L623.16,342.33 L623.38,341.35 L619.49,341.70ZM627.71,340.61 L631.60,340.26 L631.21,339.34 L634.64,340.53 L631.48,342.33 L631.70,341.35 L627.81,341.70ZM636.03,340.61 L639.92,340.26 L639.53,339.34 L642.96,340.53 L639.80,342.33 L640.02,341.35 L636.13,341.70ZM501.45,348.37 L497.57,347.95 L497.77,348.93 L494.65,347.08 L498.09,345.95 L497.69,346.86 L501.57,347.28ZM509.77,348.37 L505.89,347.95 L506.09,348.93 L502.97,347.08 L506.41,345.95 L506.01,346.86 L509.89,347.28ZM518.09,348.37 L514.21,347.95 L514.41,348.93 L511.29,347.08 L514.73,345.95 L514.33,346.86 L518.21,347.28ZM526.41,348.37 L522.53,347.95 L522.73,348.93 L519.61,347.08 L523.05,345.95 L522.65,346.86 L526.53,347.28ZM534.73,348.37 L530.85,347.95 L531.05,348.93 L527.93,347.08 L531.37,345.95 L530.97,346.86 L534.85,347.28ZM543.05,348.37 L539.17,347.95 L539.37,348.93 L536.25,347.08 L539.69,345.95 L539.29,346.86 L543.17,347.28ZM551.37,348.37 L547.49,347.95 L547.69,348.93 L544.57,347.08 L548.01,345.95 L547.61,346.86 L551.49,347.28ZM559.69,348.37 L555.81,347.95 L556.01,348.93 L552.89,347.08 L556.33,345.95 L555.93,346.86 L559.81,347.28ZM568.01,348.37 L564.13,347.95 L564.33,348.93 L561.21,347.08 L564.65,345.95 L564.25,346.86 L568.13,347.28ZM569.47,347.28 L573.35,346.86 L572.95,345.95 L576.39,347.08 L573.27,348.93 L573.47,347.95 L569.59,348.37ZM577.79,347.28 L581.67,346.86 L581.27,345.95 L584.71,347.08 L581.59,348.93 L581.79,347.95 L577.91,348.37ZM586.11,347.28 L589.99,346.86 L589.59,345.95 L593.03,347.08 L589.91,348.93 L590.11,347.95 L586.23,348.37ZM594.43,347.28 L598.31,346.86 L597.91,345.95 L601.35,347.08 L598.23,348.93 L598.43,347.95 L594.55,348.37ZM602.75,347.28 L606.63,346.86 L606.23,345.95 L609.67,347.08 L606.55,348.93 L606.75,347.95 L602.87,348.37ZM611.07,347.28 L614.95,346.86 L614.55,345.95 L617.99,347.08 L614.87,348.93 L615.07,347.95 L611.19,348.37ZM619.39,347.28 L623.27,346.86 L622.87,345.95 L626.31,347.08 L623.19,348.93 L623.39,347.95 L619.51,348.37ZM627.71,347.28 L631.59,346.86 L631.19,345.95 L634.63,347.08 L631.51,348.93 L631.71,347.95 L627.83,348.37ZM636.03,347.28 L639.91,346.86 L639.51,345.95 L642.95,347.08 L639.83,348.93 L640.03,347.95 L636.15,348.37ZM501.43,355.04 L497.56,354.55 L497.74,355.53 L494.66,353.63 L498.12,352.56 L497.70,353.46 L501.57,353.95ZM509.75,355.04 L505.88,354.55 L506.06,355.53 L502.98,353.63 L506.44,352.56 L506.02,353.46 L509.89,353.95ZM518.07,355.04 L514.20,354.55 L514.38,355.53 L511.30,353.63 L514.76,352.56 L514.34,353.46 L518.21,353.95ZM526.39,355.04 L522.52,354.55 L522.70,355.53 L519.62,353.63 L523.08,352.56 L522.66,353.46 L526.53,353.95ZM534.71,355.04 L530.84,354.55 L531.02,355.53 L527.94,353.63 L531.40,352.56 L530.98,353.46 L534.85,353.95ZM543.03,355.04 L539.16,354.55 L539.34,355.53 L536.26,353.63 L539.72,352.56 L539.30,353.46 L543.17,353.95ZM551.35,355.04 L547.48,354.55 L547.66,355.53 L544.58,353.63 L548.04,352.56 L547.62,353.46 L551.49,353.95ZM559.67,355.04 L555.80,354.55 L555.98,355.53 L552.90,353.63 L556.36,352.56 L555.94,353.46 L559.81,353.95ZM567.99,355.04 L564.12,354.55 L564.30,355.53 L561.22,353.63 L564.68,352.56 L564.26,353.46 L568.13,353.95ZM569.47,353.95 L573.34,353.46 L572.92,352.56 L576.38,353.63 L573.30,355.53 L573.48,354.55 L569.61,355.04ZM577.79,353.95 L581.66,353.46 L581.24,352.56 L584.70,353.63 L581.62,355.53 L581.80,354.55 L577.93,355.04ZM586.11,353.95 L589.98,353.46 L589.56,352.56 L593.02,353.63 L589.94,355.53 L590.12,354.55 L586.25,355.04ZM594.43,353.95 L598.30,353.46 L597.88,352.56 L601.34,353.63 L598.26,355.53 L598.44,354.55 L594.57,355.04ZM602.75,353.95 L606.62,353.46 L606.20,352.56 L609.66,353.63 L606.58,355.53 L606.76,354.55 L602.89,355.04ZM611.07,353.95 L614.94,353.46 L614.52,352.56 L617.98,353.63 L614.90,355.53 L615.08,354.55 L611.21,355.04ZM619.39,353.95 L623.26,353.46 L622.84,352.56 L626.30,353.63 L623.22,355.53 L623.40,354.55 L619.53,355.04ZM627.71,353.95 L631.58,353.46 L631.16,352.56 L634.62,353.63 L631.54,355.53 L631.72,354.55 L627.85,355.04ZM636.03,353.95 L639.90,353.46 L639.48,352.56 L642.94,353.63 L639.86,355.53 L640.04,354.55 L636.17,355.04Z" fill="#000"/><line x1="494.00" y1="277.70" x2="568.80" y2="277.70" stroke="#f0bc28" stroke-width="1.3"/><circle cx="568.80" cy="277.70" r="1.25" fill="#f0bc28"/></g>
<text x="562.00" y="288.70" font-size="11.20" text-anchor="middle" font-weight="bold" fill="#ffc31a" >X</text>
<rect x="494.00" y="203.10" width="149.80" height="149.20" fill="none" stroke="#222" stroke-width="0.7"/>
<text x="486.70" y="207.30" font-size="9.70" text-anchor="end" font-weight="normal" fill="#000" >0.1</text>
<text x="486.70" y="281.90" font-size="9.70" text-anchor="end" font-weight="normal" fill="#000" >0.0</text>
<text x="486.70" y="356.50" font-size="9.70" text-anchor="end" font-weight="normal" fill="#000" >−0.1</text>
<text x="494.00" y="366.20" font-size="9.70" text-anchor="middle" font-weight="normal" fill="#000" >−0.1</text>
<text x="568.80" y="366.20" font-size="9.70" text-anchor="middle" font-weight="normal" fill="#000" >0.0</text>
<text x="643.80" y="366.20" font-size="9.70" text-anchor="middle" font-weight="normal" fill="#000" >0.1</text>
<path d="M494.00,203.10 h-2.6 M494.00,277.70 h-2.6 M494.00,352.30 h-2.6 M494.00,352.30 v2.6 M568.80,352.30 v2.6 M643.80,352.30 v2.6" stroke="#222" stroke-width="0.7" fill="none"/>
<text x="568.80" y="379.60" font-size="9.70" text-anchor="middle" font-weight="normal" fill="#000" >k<tspan dy="2.0" font-size="70%">y</tspan></text>
<text x="456.50" y="277.70" font-size="9.70" text-anchor="middle" font-weight="normal" fill="#000" transform="rotate(-90 456.5 277.7)">k<tspan dy="2.0" font-size="70%">x</tspan></text>
<rect x="653.6" y="203.10" width="7.9" height="149.20" fill="url(#cw)" stroke="#666" stroke-width="0.7"/>
<path d="M661.5,203.10 h2.4 M661.5,277.70 h2.4 M661.5,352.30 h2.4" stroke="#222" stroke-width="0.7"/>
<text x="665.80" y="206.70" font-size="9.70" text-anchor="start" font-weight="normal" fill="#000" >1/2</text>
<text x="665.80" y="282.10" font-size="9.70" text-anchor="start" font-weight="normal" fill="#000" >0</text>
<text x="665.80" y="355.90" font-size="9.70" text-anchor="start" font-weight="normal" fill="#000" >-1/2</text>
<text x="672.80" y="244.60" font-size="10.80" text-anchor="start" font-weight="normal" fill="#000" >S<tspan dy="2.2" font-size="70%">y</tspan></text>
</svg>
</body></html>
